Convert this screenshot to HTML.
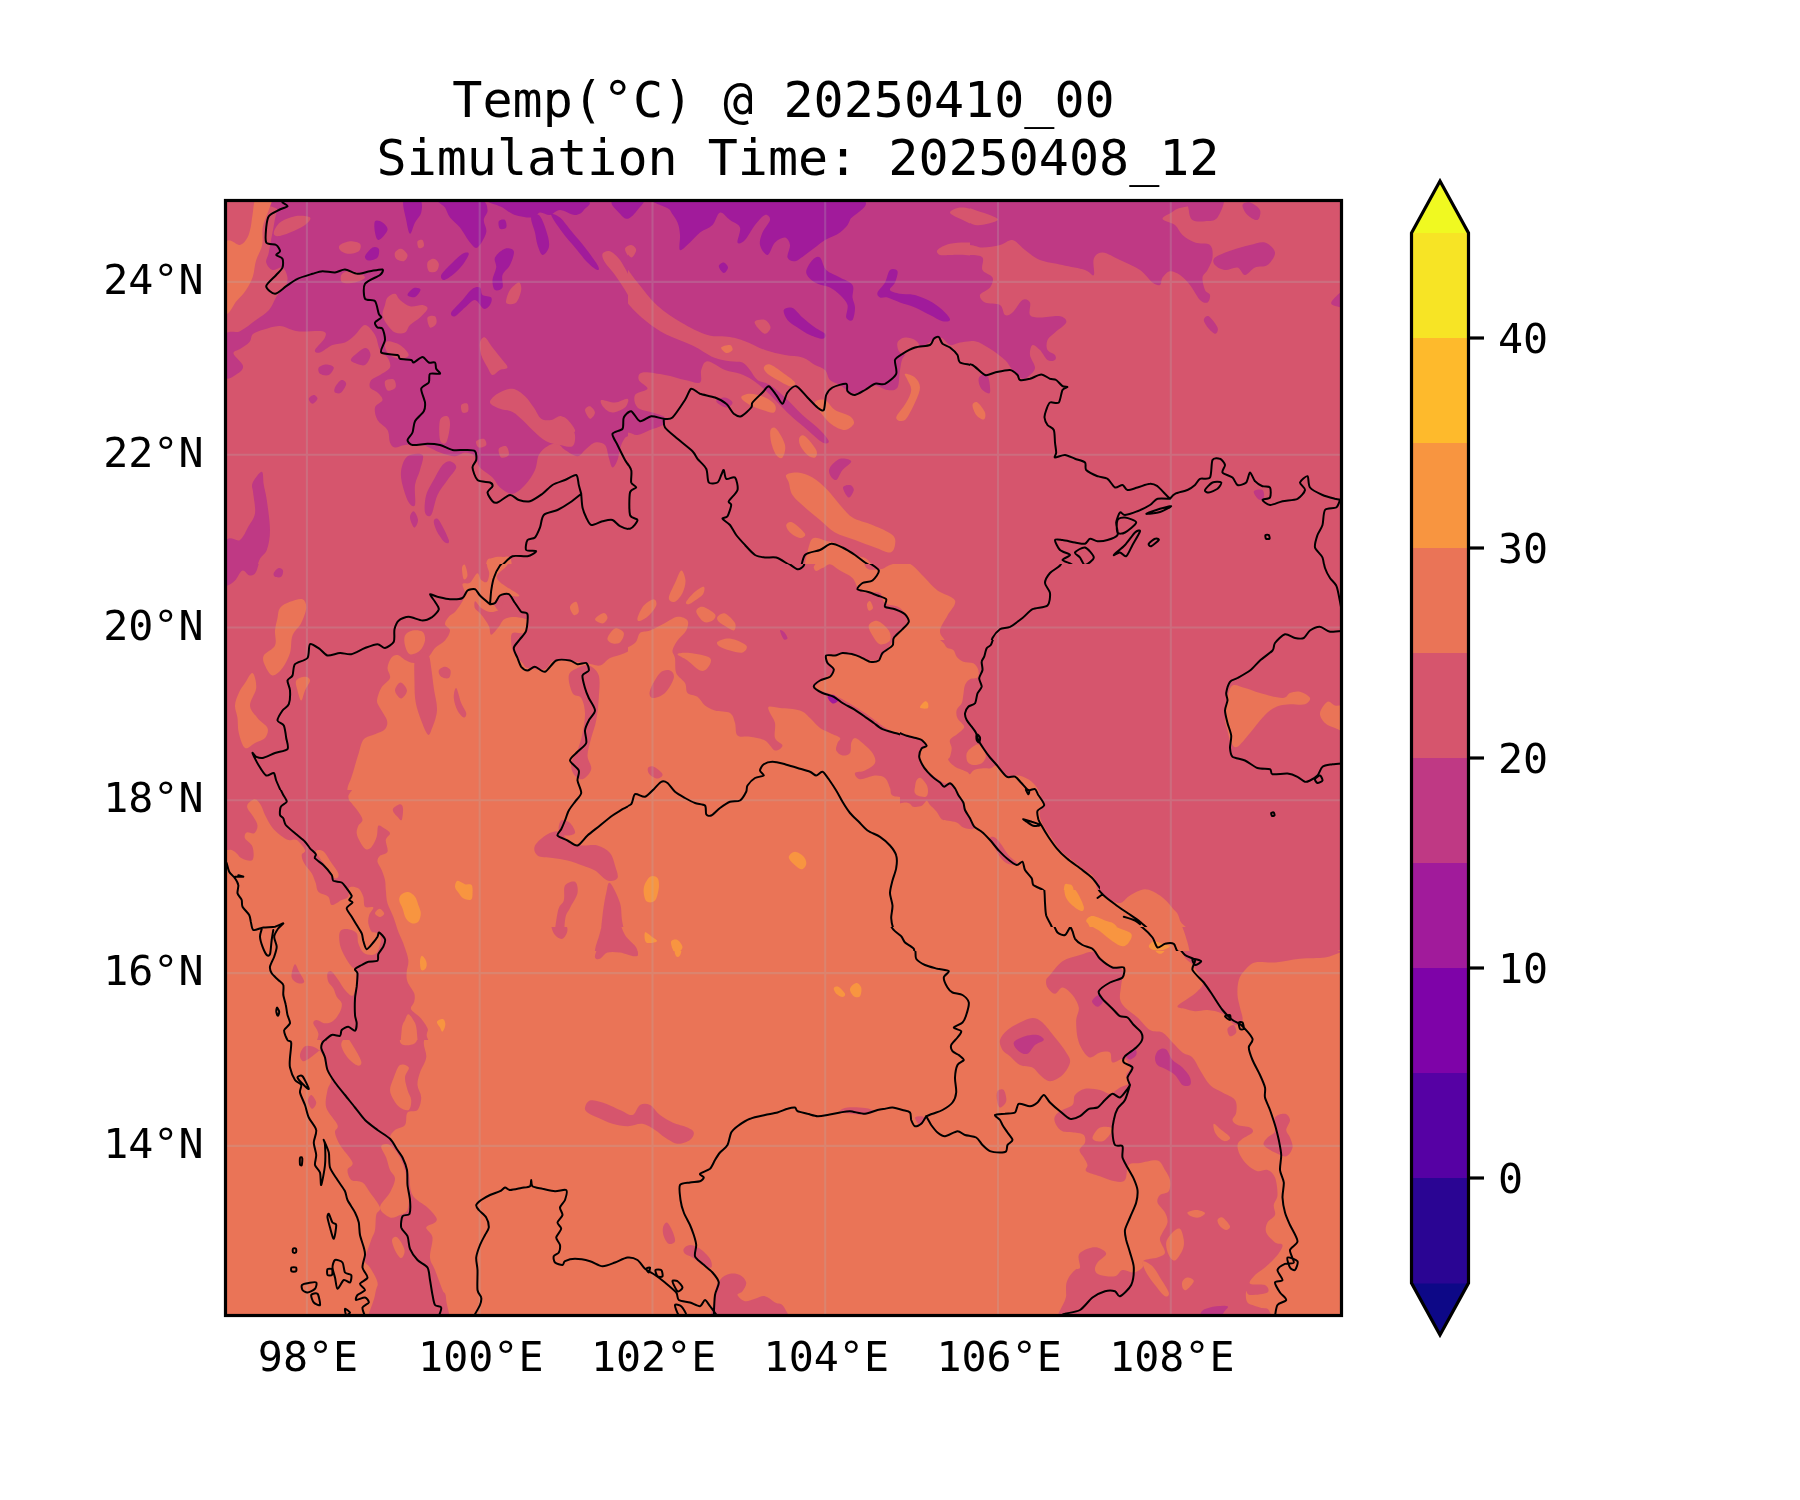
<!DOCTYPE html>
<html><head><meta charset="utf-8"><title>Temp map</title>
<style>html,body{margin:0;padding:0;background:#fff}svg{display:block}text{font-family:"DejaVu Sans Mono","Liberation Mono",monospace;fill:#000}.tx{filter:grayscale(1)}</style></head><body>
<svg width="1800" height="1500" viewBox="0 0 1800 1500">
<rect width="1800" height="1500" fill="#fff"/>
<defs><clipPath id="ax"><rect x="225.5" y="200.5" width="1116.0" height="1115.0"/></clipPath></defs>
<g clip-path="url(#ax)">
<defs><clipPath id="ca1"><path clip-rule="evenodd" d="M224 199H628V564H224Z"/></clipPath><clipPath id="ca2"><path clip-rule="evenodd" d="M628 199H970V564H628Z"/></clipPath><clipPath id="ca3"><path clip-rule="evenodd" d="M970 199H1343V564H970Z"/></clipPath><clipPath id="cb1"><path clip-rule="evenodd" d="M224 564H628V934H224ZM224 790H525V934H224ZM525 927H628V934H525Z"/></clipPath><clipPath id="cb2"><path clip-rule="evenodd" d="M628 564H970V934H628ZM628 927H970V934H628ZM900 640H970V890H900Z"/></clipPath><clipPath id="cb3"><path clip-rule="evenodd" d="M970 564H1343V934H970ZM970 927H1343V934H970ZM970 640H1100V890H970Z"/></clipPath><clipPath id="cc1"><path clip-rule="evenodd" d="M224 934H628V1317H224ZM224 934H525V1040H224ZM525 934H628V951H525Z"/></clipPath><clipPath id="cc2"><path clip-rule="evenodd" d="M628 934H970V1317H628ZM628 934H970V951H628Z"/></clipPath><clipPath id="cc3"><path clip-rule="evenodd" d="M970 934H1343V1317H970ZM970 934H1343V951H970Z"/></clipPath><clipPath id="cz1"><path clip-rule="evenodd" d="M224 790H525V1040H224Z"/></clipPath><clipPath id="czs1"><path clip-rule="evenodd" d="M525 927H628V951H525Z"/></clipPath><clipPath id="czs2"><path clip-rule="evenodd" d="M628 927H970V951H628Z"/></clipPath><clipPath id="czs3"><path clip-rule="evenodd" d="M970 927H1343V951H970Z"/></clipPath><clipPath id="cz2"><path clip-rule="evenodd" d="M900 640H1100V890H900Z"/></clipPath></defs>
<g clip-path="url(#ca1)">
<rect x="224" y="199" width="404" height="365" fill="#d6556d"/>
<path fill="#bf3984" d="M287.5 198.0C356.2 196.0 622.9 156.8 690.0 198.0C757.1 239.2 697.1 403.4 690.0 445.0C682.9 486.6 656.2 448.1 647.5 447.5C638.8 446.9 640.8 443.1 637.5 441.2C634.2 439.4 630.2 435.6 627.5 436.2C624.8 436.9 622.9 441.0 621.2 445.0C619.6 449.0 619.0 456.2 617.5 460.0C616.0 463.8 614.0 467.9 612.5 467.5C611.0 467.1 610.0 461.2 608.8 457.5C607.5 453.8 607.3 447.5 605.0 445.0C602.7 442.5 598.3 441.7 595.0 442.5C591.7 443.3 587.9 447.7 585.0 450.0C582.1 452.3 580.8 456.2 577.5 456.2C574.2 456.2 568.3 452.1 565.0 450.0C561.7 447.9 560.4 444.4 557.5 443.8C554.6 443.1 550.6 444.4 547.5 446.2C544.4 448.1 540.8 451.0 538.8 455.0C536.7 459.0 537.3 465.0 535.0 470.0C532.7 475.0 528.8 481.0 525.0 485.0C521.2 489.0 516.7 493.3 512.5 493.8C508.3 494.2 503.3 490.2 500.0 487.5C496.7 484.8 495.8 480.8 492.5 477.5C489.2 474.2 482.9 471.0 480.0 467.5C477.1 464.0 477.5 458.8 475.0 456.2C472.5 453.8 468.3 452.5 465.0 452.5C461.7 452.5 459.2 456.2 455.0 456.2C450.8 456.2 445.4 454.4 440.0 452.5C434.6 450.6 428.3 446.2 422.5 445.0C416.7 443.8 409.6 444.6 405.0 445.0C400.4 445.4 397.5 447.9 395.0 447.5C392.5 447.1 391.2 445.4 390.0 442.5C388.8 439.6 389.6 433.8 387.5 430.0C385.4 426.2 379.6 423.8 377.5 420.0C375.4 416.2 374.2 410.8 375.0 407.5C375.8 404.2 382.1 402.5 382.5 400.0C382.9 397.5 379.6 394.6 377.5 392.5C375.4 390.4 371.0 389.6 370.0 387.5C369.0 385.4 369.6 382.1 371.2 380.0C372.9 377.9 376.9 377.1 380.0 375.0C383.1 372.9 388.8 370.4 390.0 367.5C391.2 364.6 389.2 360.4 387.5 357.5C385.8 354.6 382.1 353.8 380.0 350.0C377.9 346.2 377.5 339.2 375.0 335.0C372.5 330.8 368.3 325.0 365.0 325.0C361.7 325.0 358.3 332.1 355.0 335.0C351.7 337.9 348.8 340.8 345.0 342.5C341.2 344.2 336.7 343.3 332.5 345.0C328.3 346.7 322.9 351.7 320.0 352.5C317.1 353.3 314.2 352.5 315.0 350.0C315.8 347.5 323.8 340.6 325.0 337.5C326.2 334.4 327.1 332.3 322.5 331.2C317.9 330.2 304.6 332.1 297.5 331.2C290.4 330.4 285.6 326.3 280.0 326.0C274.4 325.7 268.5 328.2 264.0 329.5C259.5 330.8 255.4 331.9 253.0 334.0C250.6 336.1 251.7 339.5 249.5 342.0C247.3 344.5 242.7 347.1 240.0 349.0C237.3 350.9 233.0 350.7 233.5 353.5C234.0 356.3 242.4 362.6 243.0 366.0C243.6 369.4 240.0 372.3 237.0 374.0C234.0 375.7 227.0 382.3 225.0 376.0C223.0 369.7 222.5 343.5 225.0 336.0C227.5 328.5 234.8 333.9 240.0 331.2C245.2 328.6 251.2 323.5 256.0 320.0C260.8 316.5 265.4 314.2 269.0 310.0C272.6 305.8 274.8 298.8 277.5 295.0C280.2 291.2 283.3 290.4 285.0 287.5C286.7 284.6 287.9 280.8 287.5 277.5C287.1 274.2 285.0 268.8 282.5 267.5C280.0 266.2 275.2 270.8 272.5 270.0C269.8 269.2 266.9 265.4 266.2 262.5C265.6 259.6 267.6 257.9 268.8 252.5C269.9 247.1 271.5 237.1 273.0 230.0C274.5 222.9 275.1 215.3 277.5 210.0C279.9 204.7 218.8 200.0 287.5 198.0Z"/>
<path fill="#d6556d" d="M273.8 232.5C274.2 230.2 276.5 225.2 280.0 222.5C283.5 219.8 290.0 217.1 295.0 216.2C300.0 215.4 308.3 216.0 310.0 217.5C311.7 219.0 308.3 222.5 305.0 225.0C301.7 227.5 294.6 230.6 290.0 232.5C285.4 234.4 280.2 236.2 277.5 236.2C274.8 236.2 273.3 234.8 273.8 232.5ZM340.0 245.0C341.7 243.5 346.7 241.5 350.0 241.2C353.3 241.0 358.5 242.1 360.0 243.8C361.5 245.4 360.8 249.6 358.8 251.2C356.7 252.9 350.6 254.0 347.5 253.8C344.4 253.5 341.2 251.5 340.0 250.0C338.8 248.5 338.3 246.5 340.0 245.0ZM395.0 252.5C395.8 250.8 399.2 248.3 401.2 248.8C403.3 249.2 407.1 252.9 407.5 255.0C407.9 257.1 405.6 260.6 403.8 261.2C401.9 261.9 397.7 260.2 396.2 258.8C394.8 257.3 394.2 254.2 395.0 252.5ZM427.5 262.5C428.3 260.4 431.9 258.5 433.8 258.8C435.6 259.0 438.3 261.7 438.8 263.8C439.2 265.8 437.9 270.0 436.2 271.2C434.6 272.5 430.2 272.7 428.8 271.2C427.3 269.8 426.7 264.6 427.5 262.5ZM417.5 241.2C418.1 239.9 421.5 239.2 422.5 240.0C423.5 240.8 424.4 244.9 423.8 246.2C423.1 247.6 419.8 248.8 418.8 248.0C417.7 247.2 416.9 242.6 417.5 241.2ZM341.2 275.0C342.1 273.1 344.8 271.7 347.5 271.2C350.2 270.8 354.6 271.5 357.5 272.5C360.4 273.5 365.4 275.8 365.0 277.5C364.6 279.2 358.8 281.7 355.0 282.5C351.2 283.3 344.8 283.8 342.5 282.5C340.2 281.2 340.4 276.9 341.2 275.0ZM387.5 297.5C389.2 295.6 392.9 293.3 395.0 293.8C397.1 294.2 397.5 297.9 400.0 300.0C402.5 302.1 406.2 305.4 410.0 306.2C413.8 307.1 419.6 304.6 422.5 305.0C425.4 305.4 427.9 306.7 427.5 308.8C427.1 310.8 422.9 314.8 420.0 317.5C417.1 320.2 412.5 322.5 410.0 325.0C407.5 327.5 407.5 331.2 405.0 332.5C402.5 333.8 397.9 333.8 395.0 332.5C392.1 331.2 389.6 327.9 387.5 325.0C385.4 322.1 382.9 318.3 382.5 315.0C382.1 311.7 384.2 307.9 385.0 305.0C385.8 302.1 385.8 299.4 387.5 297.5ZM387.5 341.2C390.0 340.8 396.5 342.7 400.0 345.0C403.5 347.3 408.8 352.7 408.8 355.0C408.8 357.3 403.1 358.8 400.0 358.8C396.9 358.8 392.5 356.9 390.0 355.0C387.5 353.1 385.4 349.8 385.0 347.5C384.6 345.2 385.0 341.7 387.5 341.2ZM427.5 317.5C428.3 315.6 433.5 315.2 435.0 316.2C436.5 317.3 437.1 321.9 436.2 323.8C435.4 325.6 431.5 328.5 430.0 327.5C428.5 326.5 426.7 319.4 427.5 317.5ZM506.2 300.0C506.7 297.7 507.9 292.9 510.0 290.0C512.1 287.1 516.9 282.5 518.8 282.5C520.6 282.5 521.7 286.7 521.2 290.0C520.8 293.3 518.5 300.2 516.2 302.5C514.0 304.8 509.2 304.2 507.5 303.8C505.8 303.3 505.8 302.3 506.2 300.0ZM602.5 253.8C603.3 251.9 607.1 250.2 610.0 251.2C612.9 252.3 616.7 255.6 620.0 260.0C623.3 264.4 626.7 271.7 630.0 277.5C633.3 283.3 636.7 290.0 640.0 295.0C643.3 300.0 641.7 303.3 650.0 307.5C658.3 311.7 682.1 316.7 690.0 320.0C697.9 323.3 696.2 324.2 697.5 327.5C698.8 330.8 704.6 339.6 697.5 340.0C690.4 340.4 663.8 333.3 655.0 330.0C646.2 326.7 648.3 323.8 645.0 320.0C641.7 316.2 638.3 312.5 635.0 307.5C631.7 302.5 628.3 295.4 625.0 290.0C621.7 284.6 618.3 279.6 615.0 275.0C611.7 270.4 607.1 266.0 605.0 262.5C602.9 259.0 601.7 255.6 602.5 253.8ZM625.0 248.8C625.2 246.7 629.4 244.6 631.2 245.0C633.1 245.4 636.5 249.2 636.2 251.2C636.0 253.3 631.9 257.9 630.0 257.5C628.1 257.1 624.8 250.8 625.0 248.8ZM480.0 342.5C480.6 339.6 482.9 336.7 485.0 337.5C487.1 338.3 489.6 343.8 492.5 347.5C495.4 351.2 500.0 356.7 502.5 360.0C505.0 363.3 507.9 365.8 507.5 367.5C507.1 369.2 502.5 368.8 500.0 370.0C497.5 371.2 494.6 375.4 492.5 375.0C490.4 374.6 489.4 370.8 487.5 367.5C485.6 364.2 482.5 359.2 481.2 355.0C480.0 350.8 479.4 345.4 480.0 342.5ZM490.0 402.5C489.6 400.0 493.8 396.0 497.5 393.8C501.2 391.5 507.9 388.3 512.5 388.8C517.1 389.2 521.5 393.1 525.0 396.2C528.5 399.4 531.0 403.8 533.8 407.5C536.5 411.2 538.3 416.7 541.2 418.8C544.2 420.8 547.9 420.4 551.2 420.0C554.6 419.6 558.1 415.4 561.2 416.2C564.4 417.1 567.7 421.9 570.0 425.0C572.3 428.1 574.6 431.5 575.0 435.0C575.4 438.5 575.0 444.6 572.5 446.2C570.0 447.9 564.4 445.8 560.0 445.0C555.6 444.2 550.6 443.5 546.2 441.2C541.9 439.0 537.5 434.6 533.8 431.2C530.0 427.9 527.3 424.5 523.8 421.2C520.2 418.0 516.5 414.1 512.5 412.0C508.5 409.9 503.8 410.3 500.0 408.8C496.2 407.2 490.4 405.0 490.0 402.5ZM557.5 420.0C558.1 417.5 562.1 415.8 565.0 417.5C567.9 419.2 574.2 427.1 575.0 430.0C575.8 432.9 572.3 434.6 570.0 435.0C567.7 435.4 563.3 435.0 561.2 432.5C559.2 430.0 556.9 422.5 557.5 420.0ZM637.5 382.5C637.9 379.6 642.1 375.8 645.0 375.0C647.9 374.2 647.5 375.8 655.0 377.5C662.5 379.2 682.9 382.5 690.0 385.0C697.1 387.5 696.2 389.6 697.5 392.5C698.8 395.4 705.0 401.7 697.5 402.5C690.0 403.3 661.7 399.2 652.5 397.5C643.3 395.8 645.0 395.0 642.5 392.5C640.0 390.0 637.1 385.4 637.5 382.5ZM601.2 400.0C603.1 399.2 610.6 402.7 615.0 402.5C619.4 402.3 625.8 397.9 627.5 398.8C629.2 399.6 627.5 405.2 625.0 407.5C622.5 409.8 616.0 412.5 612.5 412.5C609.0 412.5 605.6 409.6 603.8 407.5C601.9 405.4 599.4 400.8 601.2 400.0ZM585.0 410.0C585.0 407.9 588.3 405.8 590.0 406.2C591.7 406.7 595.0 410.4 595.0 412.5C595.0 414.6 591.7 419.2 590.0 418.8C588.3 418.3 585.0 412.1 585.0 410.0ZM440.0 420.0C441.2 416.0 445.8 415.4 447.5 416.2C449.2 417.1 450.2 420.6 450.0 425.0C449.8 429.4 447.9 440.0 446.2 442.5C444.6 445.0 441.0 443.8 440.0 440.0C439.0 436.2 438.8 424.0 440.0 420.0ZM461.2 405.0C462.1 403.5 466.4 402.7 467.5 403.8C468.6 404.8 468.8 409.8 468.0 411.2C467.2 412.7 463.6 413.5 462.5 412.5C461.4 411.5 460.4 406.5 461.2 405.0ZM476.2 441.2C477.1 439.8 482.1 438.1 483.8 438.8C485.4 439.4 487.1 443.5 486.2 445.0C485.4 446.5 480.4 448.1 478.8 447.5C477.1 446.9 475.4 442.7 476.2 441.2ZM498.8 448.8C499.6 446.9 504.6 445.2 506.2 446.2C507.9 447.3 509.6 453.1 508.8 455.0C507.9 456.9 502.9 458.5 501.2 457.5C499.6 456.5 497.9 450.6 498.8 448.8ZM385.0 381.2C386.0 379.4 392.0 378.5 393.8 379.5C395.5 380.5 396.5 385.7 395.5 387.5C394.5 389.3 389.2 391.5 387.5 390.5C385.8 389.5 384.0 383.1 385.0 381.2Z"/>
<path fill="#a11b9b" d="M403.8 200.0C406.0 196.7 417.1 197.9 420.0 200.0C422.9 202.1 422.1 208.8 421.2 212.5C420.4 216.2 416.9 219.0 415.0 222.5C413.1 226.0 411.5 234.2 410.0 233.8C408.5 233.3 407.3 225.6 406.2 220.0C405.2 214.4 401.5 203.3 403.8 200.0ZM375.0 221.2C376.2 219.6 380.4 221.0 382.5 222.5C384.6 224.0 388.1 227.1 387.5 230.0C386.9 232.9 380.8 239.6 378.8 240.0C376.7 240.4 375.6 235.6 375.0 232.5C374.4 229.4 373.8 222.9 375.0 221.2ZM365.0 256.2C365.6 254.1 370.2 248.8 372.5 247.5C374.8 246.2 377.9 247.1 378.8 248.8C379.6 250.4 379.2 255.5 377.5 257.5C375.8 259.5 370.8 260.7 368.8 260.5C366.7 260.3 364.4 258.4 365.0 256.2ZM440.0 200.0C445.8 198.8 472.1 198.3 480.0 200.0C487.9 201.7 486.9 206.7 487.5 210.0C488.1 213.3 484.0 216.2 483.8 220.0C483.5 223.8 487.3 227.9 486.2 232.5C485.2 237.1 480.2 245.8 477.5 247.5C474.8 249.2 472.9 245.8 470.0 242.5C467.1 239.2 463.3 231.7 460.0 227.5C456.7 223.3 452.5 220.8 450.0 217.5C447.5 214.2 446.7 210.4 445.0 207.5C443.3 204.6 434.2 201.2 440.0 200.0ZM492.5 200.0C505.8 198.8 567.3 198.3 582.5 200.0C597.7 201.7 585.0 207.5 583.8 210.0C582.5 212.5 579.0 215.0 575.0 215.0C571.0 215.0 564.2 210.0 560.0 210.0C555.8 210.0 553.3 214.6 550.0 215.0C546.7 215.4 542.9 212.1 540.0 212.5C537.1 212.9 536.7 217.1 532.5 217.5C528.3 217.9 520.0 216.7 515.0 215.0C510.0 213.3 506.2 210.0 502.5 207.5C498.8 205.0 479.2 201.2 492.5 200.0ZM531.2 217.5C532.1 214.8 537.3 213.3 540.0 216.2C542.7 219.2 546.0 229.8 547.5 235.0C549.0 240.2 549.6 244.2 548.8 247.5C547.9 250.8 544.4 255.4 542.5 255.0C540.6 254.6 538.8 248.8 537.5 245.0C536.2 241.2 536.0 237.1 535.0 232.5C534.0 227.9 530.4 220.2 531.2 217.5ZM551.2 215.0C550.8 212.5 556.5 214.6 560.0 217.5C563.5 220.4 568.3 227.5 572.5 232.5C576.7 237.5 580.8 242.1 585.0 247.5C589.2 252.9 595.4 261.2 597.5 265.0C599.6 268.8 599.2 270.4 597.5 270.0C595.8 269.6 591.2 266.2 587.5 262.5C583.8 258.8 579.2 252.5 575.0 247.5C570.8 242.5 566.5 237.9 562.5 232.5C558.5 227.1 551.7 217.5 551.2 215.0ZM612.5 201.2C616.7 199.2 640.8 199.6 645.0 201.2C649.2 202.9 640.4 208.3 637.5 211.2C634.6 214.2 630.4 218.3 627.5 218.8C624.6 219.2 622.5 216.7 620.0 213.8C617.5 210.8 608.3 203.3 612.5 201.2ZM498.8 221.2C499.6 219.8 503.8 219.0 505.0 220.0C506.2 221.0 507.1 226.0 506.2 227.5C505.4 229.0 501.2 229.8 500.0 228.8C498.8 227.7 497.9 222.7 498.8 221.2ZM441.2 275.0C442.3 272.5 446.5 268.5 450.0 265.0C453.5 261.5 459.4 255.6 462.5 253.8C465.6 251.9 468.8 251.9 468.8 253.8C468.8 255.6 465.2 261.5 462.5 265.0C459.8 268.5 455.6 272.5 452.5 275.0C449.4 277.5 445.6 280.0 443.8 280.0C441.9 280.0 440.2 277.5 441.2 275.0ZM495.0 257.5C496.5 254.4 501.9 249.8 505.0 248.8C508.1 247.7 512.9 248.5 513.8 251.2C514.6 254.0 511.9 261.0 510.0 265.0C508.1 269.0 503.8 271.2 502.5 275.0C501.2 278.8 503.8 285.0 502.5 287.5C501.2 290.0 496.7 291.2 495.0 290.0C493.3 288.8 492.3 283.8 492.5 280.0C492.7 276.2 495.8 271.2 496.2 267.5C496.7 263.8 493.5 260.6 495.0 257.5ZM407.5 295.0C407.3 293.5 411.6 288.9 413.8 288.0C415.9 287.1 420.3 288.0 420.5 289.5C420.7 291.0 417.2 296.1 415.0 297.0C412.8 297.9 407.7 296.5 407.5 295.0ZM451.2 312.5C452.5 309.8 459.0 304.0 462.5 300.0C466.0 296.0 469.6 290.8 472.5 288.8C475.4 286.7 478.3 286.5 480.0 287.5C481.7 288.5 480.6 293.3 482.5 295.0C484.4 296.7 490.0 295.8 491.2 297.5C492.5 299.2 491.2 303.1 490.0 305.0C488.8 306.9 486.2 309.6 483.8 308.8C481.2 307.9 478.1 300.2 475.0 300.0C471.9 299.8 468.3 304.8 465.0 307.5C461.7 310.2 457.3 315.4 455.0 316.2C452.7 317.1 450.0 315.2 451.2 312.5Z"/>
<path fill="#ea7457" d="M256.8 196.2C260.0 193.1 270.0 194.0 272.0 196.2C274.0 198.5 270.3 204.9 268.8 210.0C267.2 215.1 263.8 221.0 262.8 226.8C261.7 232.5 263.4 239.1 262.2 244.8C261.1 250.4 257.6 255.4 256.0 260.8C254.4 266.1 254.4 271.9 252.8 276.8C251.1 281.6 248.9 285.8 246.2 289.8C243.6 293.8 240.3 297.2 236.8 300.8C233.2 304.3 227.0 320.5 225.0 311.2C223.0 302.0 222.5 256.0 225.0 245.0C227.5 234.0 236.2 246.2 240.0 245.0C243.8 243.8 245.7 240.5 247.5 237.5C249.3 234.5 249.9 230.5 250.8 226.8C251.6 223.0 251.5 220.1 252.5 215.0C253.5 209.9 253.5 199.4 256.8 196.2Z"/>
<path fill="#bf3984" d="M318.8 367.5C319.8 366.0 323.8 364.5 326.2 364.5C328.8 364.5 333.3 365.8 333.8 367.5C334.2 369.2 331.0 374.0 328.8 375.0C326.5 376.0 321.7 375.0 320.0 373.8C318.3 372.5 317.7 369.0 318.8 367.5ZM335.0 387.5C336.0 385.4 339.4 380.6 341.2 380.0C343.1 379.4 346.2 381.7 346.2 383.8C346.2 385.8 343.1 391.0 341.2 392.5C339.4 394.0 336.0 393.3 335.0 392.5C334.0 391.7 334.0 389.6 335.0 387.5ZM308.8 398.8C309.0 397.3 312.3 395.0 313.8 395.0C315.2 395.0 317.7 397.3 317.5 398.8C317.3 400.2 314.0 403.8 312.5 403.8C311.0 403.8 308.5 400.2 308.8 398.8ZM351.2 358.8C352.9 356.2 361.8 348.6 365.0 348.0C368.2 347.4 370.5 352.2 370.5 355.0C370.5 357.8 367.6 363.7 365.0 365.0C362.4 366.3 357.3 364.0 355.0 363.0C352.7 362.0 349.6 361.2 351.2 358.8ZM225.0 545.0C227.5 531.7 236.1 543.0 240.0 540.0C243.9 537.0 245.8 531.2 248.2 526.8C250.8 522.3 254.2 518.8 255.0 513.2C255.8 507.7 253.7 498.2 253.2 493.2C252.8 488.2 251.1 486.8 252.5 483.2C253.9 479.7 259.9 471.5 261.8 471.8C263.6 472.0 262.9 480.3 263.8 485.0C264.6 489.7 265.7 492.5 266.8 500.0C267.8 507.5 270.0 521.7 270.0 530.0C270.0 538.3 268.7 544.5 266.8 550.0C264.8 555.5 260.8 554.6 258.2 563.2C255.8 571.9 254.8 594.0 251.8 601.8C248.7 609.5 244.5 607.0 240.0 610.0C235.5 613.0 227.5 630.8 225.0 620.0C222.5 609.2 222.5 558.3 225.0 545.0ZM407.5 456.2C411.0 453.8 420.4 452.7 422.5 455.0C424.6 457.3 421.2 465.0 420.0 470.0C418.8 475.0 415.8 479.2 415.0 485.0C414.2 490.8 416.0 502.1 415.0 505.0C414.0 507.9 410.8 505.8 408.8 502.5C406.7 499.2 403.8 490.4 402.5 485.0C401.2 479.6 400.4 474.8 401.2 470.0C402.1 465.2 404.0 458.8 407.5 456.2ZM450.0 461.2C452.3 461.7 456.7 464.4 456.2 467.5C455.8 470.6 450.6 475.4 447.5 480.0C444.4 484.6 440.2 489.2 437.5 495.0C434.8 500.8 433.3 512.1 431.2 515.0C429.2 517.9 425.8 515.8 425.0 512.5C424.2 509.2 424.6 500.8 426.2 495.0C427.9 489.2 432.3 482.5 435.0 477.5C437.7 472.5 440.0 467.7 442.5 465.0C445.0 462.3 447.7 460.8 450.0 461.2ZM433.8 521.2C434.0 519.2 436.2 516.9 438.8 520.0C441.2 523.1 447.7 536.2 448.8 540.0C449.8 543.8 446.9 543.8 445.0 542.5C443.1 541.2 439.4 536.0 437.5 532.5C435.6 529.0 433.5 523.3 433.8 521.2ZM410.0 517.5C409.9 514.8 412.4 510.8 413.8 511.2C415.1 511.7 417.9 517.3 418.0 520.0C418.1 522.7 415.6 527.9 414.2 527.5C412.9 527.1 410.1 520.2 410.0 517.5Z"/>
<path fill="#ea7457" d="M486.2 563.8C487.3 557.2 489.8 559.1 492.5 558.0C495.2 556.9 499.4 556.6 502.5 557.0C505.6 557.4 510.2 553.8 511.2 560.5C512.3 567.2 512.9 591.3 508.8 597.5C504.6 603.7 490.0 603.1 486.2 597.5C482.5 591.9 485.2 570.3 486.2 563.8Z"/>
</g>
<g clip-path="url(#ca2)">
<rect x="628" y="199" width="342" height="365" fill="#d6556d"/>
<path fill="#bf3984" d="M562.5 198.0C646.7 156.8 983.3 172.7 1067.5 198.0C1151.7 223.3 1074.6 325.5 1067.5 350.0C1060.4 374.5 1033.8 344.2 1025.0 345.0C1016.2 345.8 1018.8 353.3 1015.0 355.0C1011.2 356.7 1006.7 356.7 1002.5 355.0C998.3 353.3 994.6 347.3 990.0 345.0C985.4 342.7 980.0 341.7 975.0 341.2C970.0 340.8 964.2 341.9 960.0 342.5C955.8 343.1 953.3 345.8 950.0 345.0C946.7 344.2 944.2 337.5 940.0 337.5C935.8 337.5 930.8 342.1 925.0 345.0C919.2 347.9 909.2 350.8 905.0 355.0C900.8 359.2 901.2 364.6 900.0 370.0C898.8 375.4 899.6 384.2 897.5 387.5C895.4 390.8 891.7 390.4 887.5 390.0C883.3 389.6 877.1 384.6 872.5 385.0C867.9 385.4 863.8 391.2 860.0 392.5C856.2 393.8 853.3 393.8 850.0 392.5C846.7 391.2 843.3 387.1 840.0 385.0C836.7 382.9 832.5 382.5 830.0 380.0C827.5 377.5 827.5 372.5 825.0 370.0C822.5 367.5 818.8 367.1 815.0 365.0C811.2 362.9 807.5 359.2 802.5 357.5C797.5 355.8 791.2 356.2 785.0 355.0C778.8 353.8 771.7 352.3 765.0 350.0C758.3 347.7 750.8 343.4 745.0 341.2C739.2 339.1 736.2 338.0 730.0 337.0C723.8 336.0 715.6 337.4 707.5 335.0C699.4 332.6 689.6 327.4 681.2 322.5C672.9 317.6 664.8 312.4 657.5 305.8C650.2 299.1 643.5 290.0 637.5 282.5C631.5 275.0 625.4 265.6 621.2 260.5C617.1 255.4 615.6 254.0 612.5 252.0C609.4 250.0 604.4 247.3 602.5 248.8C600.6 250.2 599.6 255.1 601.2 260.5C602.9 265.9 607.9 273.9 612.5 281.2C617.1 288.6 623.1 297.8 628.8 304.5C634.4 311.2 640.0 316.2 646.2 321.2C652.5 326.2 658.5 330.5 666.2 334.5C674.0 338.5 684.6 341.7 692.5 345.5C700.4 349.3 707.5 354.9 713.8 357.5C720.0 360.1 725.2 360.4 730.0 361.2C734.8 362.1 739.2 361.0 742.5 362.5C745.8 364.0 747.5 367.1 750.0 370.0C752.5 372.9 754.2 377.5 757.5 380.0C760.8 382.5 765.4 382.1 770.0 385.0C774.6 387.9 779.6 392.5 785.0 397.5C790.4 402.5 796.7 409.6 802.5 415.0C808.3 420.4 815.6 425.6 820.0 430.0C824.4 434.4 828.3 439.2 828.8 441.2C829.2 443.3 826.0 444.4 822.5 442.5C819.0 440.6 812.9 434.6 807.5 430.0C802.1 425.4 795.0 419.6 790.0 415.0C785.0 410.4 781.7 406.7 777.5 402.5C773.3 398.3 769.2 393.8 765.0 390.0C760.8 386.2 756.7 382.7 752.5 380.0C748.3 377.3 744.6 375.4 740.0 373.8C735.4 372.1 730.4 372.1 725.0 370.0C719.6 367.9 711.5 361.2 707.5 361.2C703.5 361.2 702.5 366.5 701.2 370.0C700.0 373.5 702.7 380.8 700.0 382.5C697.3 384.2 690.8 381.2 685.0 380.0C679.2 378.8 672.1 376.2 665.0 375.0C657.9 373.8 646.9 371.7 642.5 372.5C638.1 373.3 637.9 377.3 638.8 380.0C639.6 382.7 648.1 386.2 647.5 388.8C646.9 391.2 636.7 391.9 635.0 395.0C633.3 398.1 634.6 404.6 637.5 407.5C640.4 410.4 647.9 410.8 652.5 412.5C657.1 414.2 663.3 415.4 665.0 417.5C666.7 419.6 665.0 422.9 662.5 425.0C660.0 427.1 654.2 428.3 650.0 430.0C645.8 431.7 641.2 434.6 637.5 435.0C633.8 435.4 631.2 432.5 627.5 432.5C623.8 432.5 616.7 431.7 615.0 435.0C613.3 438.3 617.5 447.3 617.5 452.5C617.5 457.7 617.1 464.2 615.0 466.2C612.9 468.3 613.8 468.5 605.0 465.0C596.2 461.5 569.6 489.5 562.5 445.0C555.4 400.5 478.3 239.2 562.5 198.0Z"/>
<path fill="#d6556d" d="M600.0 402.5C601.9 400.8 607.9 399.4 612.5 398.8C617.1 398.1 625.4 397.5 627.5 398.8C629.6 400.0 627.5 404.4 625.0 406.2C622.5 408.1 616.5 409.6 612.5 410.0C608.5 410.4 603.3 410.0 601.2 408.8C599.2 407.5 598.1 404.2 600.0 402.5ZM625.0 248.8C625.0 246.7 629.4 244.8 631.2 245.0C633.1 245.2 636.2 247.9 636.2 250.0C636.2 252.1 633.1 257.7 631.2 257.5C629.4 257.3 625.0 250.8 625.0 248.8ZM897.5 342.5C898.3 340.0 902.1 337.9 905.0 337.5C907.9 337.1 912.5 338.3 915.0 340.0C917.5 341.7 920.4 345.0 920.0 347.5C919.6 350.0 915.8 354.2 912.5 355.0C909.2 355.8 902.5 354.6 900.0 352.5C897.5 350.4 896.7 345.0 897.5 342.5ZM950.0 212.5C950.0 210.6 955.8 207.9 960.0 207.5C964.2 207.1 970.0 208.5 975.0 210.0C980.0 211.5 985.8 214.6 990.0 216.2C994.2 217.9 1000.0 218.8 1000.0 220.0C1000.0 221.2 994.2 222.9 990.0 223.8C985.8 224.6 980.0 225.8 975.0 225.0C970.0 224.2 964.2 220.8 960.0 218.8C955.8 216.7 950.0 214.4 950.0 212.5ZM937.5 250.0C939.2 248.1 944.6 245.0 950.0 243.8C955.4 242.5 963.3 242.3 970.0 242.5C976.7 242.7 983.3 245.4 990.0 245.0C996.7 244.6 1004.2 240.0 1010.0 240.0C1015.8 240.0 1015.4 242.9 1025.0 245.0C1034.6 247.1 1060.4 240.8 1067.5 252.5C1074.6 264.2 1074.2 305.8 1067.5 315.0C1060.8 324.2 1036.2 309.2 1027.5 307.5C1018.8 305.8 1018.8 303.3 1015.0 305.0C1011.2 306.7 1007.5 316.7 1005.0 317.5C1002.5 318.3 1001.7 312.9 1000.0 310.0C998.3 307.1 998.3 302.5 995.0 300.0C991.7 297.5 981.2 297.9 980.0 295.0C978.8 292.1 985.4 286.2 987.5 282.5C989.6 278.8 993.3 275.4 992.5 272.5C991.7 269.6 985.0 267.5 982.5 265.0C980.0 262.5 980.4 259.2 977.5 257.5C974.6 255.8 969.6 255.4 965.0 255.0C960.4 254.6 954.2 255.0 950.0 255.0C945.8 255.0 942.1 255.8 940.0 255.0C937.9 254.2 935.8 251.9 937.5 250.0ZM793.8 237.5C794.2 235.6 798.5 233.1 800.0 233.8C801.5 234.4 802.9 239.4 802.5 241.2C802.1 243.1 799.0 245.6 797.5 245.0C796.0 244.4 793.3 239.4 793.8 237.5Z"/>
<path fill="#ea7457" d="M763.8 367.5C764.2 366.0 766.9 363.7 770.0 364.5C773.1 365.3 778.3 369.5 782.5 372.5C786.7 375.5 793.8 380.2 795.0 382.5C796.2 384.8 792.9 386.7 790.0 386.2C787.1 385.8 781.2 382.1 777.5 380.0C773.8 377.9 769.8 375.8 767.5 373.8C765.2 371.7 763.3 369.0 763.8 367.5ZM721.2 347.5C721.9 346.2 728.1 344.6 730.0 345.0C731.9 345.4 733.1 348.7 732.5 350.0C731.9 351.3 728.1 353.4 726.2 353.0C724.4 352.6 720.6 348.8 721.2 347.5Z"/>
<path fill="#d6556d" d="M755.0 321.2C756.2 320.0 762.4 319.0 765.0 320.0C767.6 321.0 770.5 325.2 770.5 327.5C770.5 329.8 767.2 333.8 765.0 333.8C762.8 333.8 759.2 329.6 757.5 327.5C755.8 325.4 753.8 322.5 755.0 321.2Z"/>
<path fill="#ea7457" d="M741.2 397.5C741.2 395.6 746.0 393.8 750.0 393.8C754.0 393.8 760.8 395.6 765.0 397.5C769.2 399.4 773.5 402.5 775.0 405.0C776.5 407.5 775.8 411.7 773.8 412.5C771.7 413.3 766.5 411.2 762.5 410.0C758.5 408.8 753.5 407.1 750.0 405.0C746.5 402.9 741.2 399.4 741.2 397.5ZM815.0 402.5C815.4 400.0 821.7 398.8 825.0 400.0C828.3 401.2 830.8 407.3 835.0 410.0C839.2 412.7 846.9 414.0 850.0 416.2C853.1 418.5 854.6 421.5 853.8 423.8C852.9 426.0 848.5 429.8 845.0 430.0C841.5 430.2 836.2 427.5 832.5 425.0C828.8 422.5 825.4 418.8 822.5 415.0C819.6 411.2 814.6 405.0 815.0 402.5ZM905.0 373.8C906.2 373.3 912.5 375.2 915.0 377.5C917.5 379.8 920.0 383.3 920.0 387.5C920.0 391.7 917.5 397.1 915.0 402.5C912.5 407.9 908.1 417.5 905.0 420.0C901.9 422.5 896.0 420.4 896.2 417.5C896.5 414.6 903.8 407.1 906.2 402.5C908.8 397.9 911.0 393.8 911.2 390.0C911.5 386.2 908.5 382.7 907.5 380.0C906.5 377.3 903.8 374.2 905.0 373.8ZM972.5 403.8C972.7 401.7 975.4 401.0 977.5 402.5C979.6 404.0 984.0 409.7 985.0 412.5C986.0 415.3 985.2 419.1 983.8 419.5C982.3 419.9 978.1 417.6 976.2 415.0C974.4 412.4 972.3 405.8 972.5 403.8ZM770.5 430.0C771.3 427.7 773.8 426.2 776.2 428.8C778.7 431.2 784.0 440.2 785.0 445.0C786.0 449.8 784.0 455.8 782.5 457.5C781.0 459.2 778.1 457.5 776.2 455.0C774.4 452.5 772.2 446.7 771.2 442.5C770.3 438.3 769.7 432.3 770.5 430.0ZM799.5 437.5C800.3 436.0 802.2 434.2 805.0 436.2C807.8 438.3 814.6 446.5 816.2 450.0C817.9 453.5 816.5 456.7 815.0 457.5C813.5 458.3 810.0 457.1 807.5 455.0C805.0 452.9 801.3 447.9 800.0 445.0C798.7 442.1 798.7 439.0 799.5 437.5ZM786.2 475.0C787.7 473.3 793.1 472.1 797.5 472.5C801.9 472.9 807.5 474.6 812.5 477.5C817.5 480.4 822.9 485.4 827.5 490.0C832.1 494.6 835.8 500.4 840.0 505.0C844.2 509.6 847.1 514.2 852.5 517.5C857.9 520.8 865.8 522.1 872.5 525.0C879.2 527.9 888.8 531.7 892.5 535.0C896.2 538.3 895.4 542.1 895.0 545.0C894.6 547.9 893.3 552.1 890.0 552.5C886.7 552.9 880.8 549.6 875.0 547.5C869.2 545.4 861.7 542.5 855.0 540.0C848.3 537.5 840.8 535.8 835.0 532.5C829.2 529.2 825.0 524.2 820.0 520.0C815.0 515.8 809.6 511.7 805.0 507.5C800.4 503.3 795.2 499.2 792.5 495.0C789.8 490.8 789.8 485.8 788.8 482.5C787.7 479.2 784.8 476.7 786.2 475.0ZM786.2 525.0C786.7 523.3 789.4 521.0 792.5 522.5C795.6 524.0 803.8 531.2 805.0 533.8C806.2 536.3 802.5 538.2 800.0 538.0C797.5 537.8 792.3 534.7 790.0 532.5C787.7 530.3 785.8 526.7 786.2 525.0ZM810.0 542.5C812.9 533.1 822.5 540.8 827.5 541.2C832.5 541.7 835.4 542.7 840.0 545.0C844.6 547.3 850.0 552.1 855.0 555.0C860.0 557.9 865.0 555.4 870.0 562.5C875.0 569.6 895.0 591.7 885.0 597.5C875.0 603.3 822.5 606.7 810.0 597.5C797.5 588.3 807.1 551.9 810.0 542.5Z"/>
<path fill="#bf3984" d="M830.0 467.5C831.7 464.8 836.5 459.8 840.0 458.8C843.5 457.7 850.8 459.4 851.2 461.2C851.7 463.1 845.0 466.9 842.5 470.0C840.0 473.1 838.3 479.2 836.2 480.0C834.2 480.8 831.0 477.1 830.0 475.0C829.0 472.9 828.3 470.2 830.0 467.5ZM843.0 487.5C843.2 485.4 848.2 484.6 850.0 485.0C851.8 485.4 854.0 487.9 853.8 490.0C853.5 492.1 850.5 497.9 848.8 497.5C847.0 497.1 842.8 489.6 843.0 487.5ZM980.0 376.2C981.5 375.6 987.1 376.0 988.8 378.8C990.4 381.5 990.8 390.4 990.0 392.5C989.2 394.6 985.5 392.9 983.8 391.2C982.0 389.6 980.1 385.0 979.5 382.5C978.9 380.0 978.5 376.9 980.0 376.2ZM716.2 401.2C716.0 399.6 722.3 397.3 725.0 397.5C727.7 397.7 732.3 400.8 732.5 402.5C732.7 404.2 729.0 407.7 726.2 407.5C723.5 407.3 716.5 402.9 716.2 401.2Z"/>
<path fill="#a11b9b" d="M613.8 197.5C617.7 195.4 639.8 195.4 643.8 197.5C647.7 199.6 640.2 206.5 637.5 210.0C634.8 213.5 630.4 218.8 627.5 218.8C624.6 218.8 622.3 213.5 620.0 210.0C617.7 206.5 609.8 199.6 613.8 197.5ZM665.0 197.5C695.4 195.4 821.7 193.8 852.5 197.5C883.3 201.2 852.1 214.2 850.0 220.0C847.9 225.8 844.2 229.2 840.0 232.5C835.8 235.8 829.2 237.5 825.0 240.0C820.8 242.5 818.3 245.0 815.0 247.5C811.7 250.0 808.3 252.7 805.0 255.0C801.7 257.3 797.9 260.8 795.0 261.2C792.1 261.7 788.3 260.2 787.5 257.5C786.7 254.8 790.4 248.3 790.0 245.0C789.6 241.7 787.5 237.9 785.0 237.5C782.5 237.1 777.9 239.6 775.0 242.5C772.1 245.4 770.0 254.6 767.5 255.0C765.0 255.4 760.8 248.8 760.0 245.0C759.2 241.2 760.8 236.7 762.5 232.5C764.2 228.3 769.6 222.9 770.0 220.0C770.4 217.1 767.5 214.2 765.0 215.0C762.5 215.8 758.3 220.8 755.0 225.0C751.7 229.2 747.9 237.1 745.0 240.0C742.1 242.9 738.3 244.6 737.5 242.5C736.7 240.4 741.2 231.2 740.0 227.5C738.8 223.8 733.3 222.5 730.0 220.0C726.7 217.5 722.9 211.7 720.0 212.5C717.1 213.3 715.8 221.7 712.5 225.0C709.2 228.3 703.8 229.6 700.0 232.5C696.2 235.4 693.3 239.6 690.0 242.5C686.7 245.4 681.7 251.2 680.0 250.0C678.3 248.8 680.4 239.6 680.0 235.0C679.6 230.4 679.2 226.7 677.5 222.5C675.8 218.3 672.1 214.2 670.0 210.0C667.9 205.8 634.6 199.6 665.0 197.5ZM718.8 266.2C718.8 264.5 722.2 262.3 723.8 262.5C725.3 262.7 728.0 265.8 728.0 267.5C728.0 269.2 725.3 273.2 723.8 273.0C722.2 272.8 718.8 268.0 718.8 266.2ZM806.2 272.5C805.8 268.8 810.2 262.5 812.5 260.0C814.8 257.5 817.7 255.8 820.0 257.5C822.3 259.2 822.9 266.7 826.2 270.0C829.6 273.3 835.6 275.0 840.0 277.5C844.4 280.0 850.4 281.7 852.5 285.0C854.6 288.3 852.1 293.8 852.5 297.5C852.9 301.2 855.0 303.8 855.0 307.5C855.0 311.2 854.0 318.3 852.5 320.0C851.0 321.7 847.1 320.0 846.2 317.5C845.4 315.0 848.5 308.8 847.5 305.0C846.5 301.2 842.9 297.9 840.0 295.0C837.1 292.1 834.2 289.6 830.0 287.5C825.8 285.4 819.0 285.0 815.0 282.5C811.0 280.0 806.7 276.2 806.2 272.5ZM783.8 310.0C784.6 308.0 789.4 306.8 792.5 308.0C795.6 309.2 798.8 314.2 802.5 317.5C806.2 320.8 811.2 324.8 815.0 327.5C818.8 330.2 823.8 331.9 825.0 333.8C826.2 335.6 825.0 338.5 822.5 338.8C820.0 339.0 814.2 336.9 810.0 335.0C805.8 333.1 801.2 330.0 797.5 327.5C793.8 325.0 789.8 322.9 787.5 320.0C785.2 317.1 782.9 312.0 783.8 310.0ZM877.5 292.5C878.3 290.0 882.9 286.2 885.0 282.5C887.1 278.8 887.9 271.9 890.0 270.0C892.1 268.1 896.7 269.2 897.5 271.2C898.3 273.3 896.2 279.4 895.0 282.5C893.8 285.6 889.2 288.1 890.0 290.0C890.8 291.9 895.8 292.9 900.0 293.8C904.2 294.6 909.6 293.5 915.0 295.0C920.4 296.5 927.5 299.6 932.5 302.5C937.5 305.4 942.1 309.6 945.0 312.5C947.9 315.4 950.4 318.5 950.0 320.0C949.6 321.5 945.8 322.1 942.5 321.2C939.2 320.4 934.6 317.3 930.0 315.0C925.4 312.7 920.0 309.6 915.0 307.5C910.0 305.4 904.6 304.2 900.0 302.5C895.4 300.8 890.8 298.3 887.5 297.5C884.2 296.7 881.7 298.3 880.0 297.5C878.3 296.7 876.7 295.0 877.5 292.5Z"/>
</g>
<g clip-path="url(#ca3)">
<rect x="970" y="199" width="373" height="365" fill="#d6556d"/>
<path fill="#bf3984" d="M872.5 198.0C924.6 171.8 1134.6 196.0 1185.0 198.0C1235.4 200.0 1178.8 206.5 1175.0 210.0C1171.2 213.5 1162.5 216.2 1162.5 218.8C1162.5 221.2 1171.7 222.3 1175.0 225.0C1178.3 227.7 1179.2 232.1 1182.5 235.0C1185.8 237.9 1190.4 240.8 1195.0 242.5C1199.6 244.2 1207.1 242.5 1210.0 245.0C1212.9 247.5 1212.9 253.3 1212.5 257.5C1212.1 261.7 1209.2 266.7 1207.5 270.0C1205.8 273.3 1202.9 274.2 1202.5 277.5C1202.1 280.8 1203.8 287.1 1205.0 290.0C1206.2 292.9 1209.6 292.9 1210.0 295.0C1210.4 297.1 1209.2 301.7 1207.5 302.5C1205.8 303.3 1202.9 302.9 1200.0 300.0C1197.1 297.1 1193.3 289.2 1190.0 285.0C1186.7 280.8 1183.3 277.3 1180.0 275.0C1176.7 272.7 1172.9 270.8 1170.0 271.2C1167.1 271.7 1164.2 275.2 1162.5 277.5C1160.8 279.8 1161.7 284.2 1160.0 285.0C1158.3 285.8 1155.8 285.0 1152.5 282.5C1149.2 280.0 1145.4 273.8 1140.0 270.0C1134.6 266.2 1126.2 262.9 1120.0 260.0C1113.8 257.1 1106.9 252.7 1102.5 252.5C1098.1 252.3 1095.2 255.0 1093.8 258.8C1092.3 262.5 1095.2 273.1 1093.8 275.0C1092.3 276.9 1090.2 271.7 1085.0 270.0C1079.8 268.3 1070.0 266.7 1062.5 265.0C1055.0 263.3 1046.2 262.5 1040.0 260.0C1033.8 257.5 1029.6 253.3 1025.0 250.0C1020.4 246.7 1016.7 240.8 1012.5 240.0C1008.3 239.2 1005.0 243.8 1000.0 245.0C995.0 246.2 987.5 247.5 982.5 247.5C977.5 247.5 975.4 245.2 970.0 245.0C964.6 244.8 955.4 245.2 950.0 246.2C944.6 247.3 937.5 249.6 937.5 251.2C937.5 252.9 944.6 255.6 950.0 256.2C955.4 256.9 964.6 254.8 970.0 255.0C975.4 255.2 980.4 255.0 982.5 257.5C984.6 260.0 980.8 266.7 982.5 270.0C984.2 273.3 991.2 274.6 992.5 277.5C993.8 280.4 992.1 284.6 990.0 287.5C987.9 290.4 980.8 292.5 980.0 295.0C979.2 297.5 981.7 300.8 985.0 302.5C988.3 304.2 996.7 302.9 1000.0 305.0C1003.3 307.1 1002.9 313.8 1005.0 315.0C1007.1 316.2 1009.6 315.0 1012.5 312.5C1015.4 310.0 1019.6 301.7 1022.5 300.0C1025.4 298.3 1028.8 300.0 1030.0 302.5C1031.2 305.0 1028.3 312.5 1030.0 315.0C1031.7 317.5 1035.0 317.3 1040.0 317.5C1045.0 317.7 1055.6 315.4 1060.0 316.2C1064.4 317.1 1067.1 319.8 1066.2 322.5C1065.4 325.2 1058.1 329.6 1055.0 332.5C1051.9 335.4 1048.8 337.1 1047.5 340.0C1046.2 342.9 1046.2 347.5 1047.5 350.0C1048.8 352.5 1053.8 353.3 1055.0 355.0C1056.2 356.7 1056.2 359.2 1055.0 360.0C1053.8 360.8 1050.0 361.7 1047.5 360.0C1045.0 358.3 1042.5 352.5 1040.0 350.0C1037.5 347.5 1034.2 344.2 1032.5 345.0C1030.8 345.8 1029.6 351.2 1030.0 355.0C1030.4 358.8 1035.0 364.2 1035.0 367.5C1035.0 370.8 1032.1 373.1 1030.0 375.0C1027.9 376.9 1025.4 379.6 1022.5 378.8C1019.6 377.9 1015.4 373.1 1012.5 370.0C1009.6 366.9 1008.8 363.5 1005.0 360.0C1001.2 356.5 995.0 351.9 990.0 348.8C985.0 345.6 980.0 342.1 975.0 341.2C970.0 340.4 963.3 342.3 960.0 343.8C956.7 345.2 957.5 349.8 955.0 350.0C952.5 350.2 947.9 347.1 945.0 345.0C942.1 342.9 940.8 337.5 937.5 337.5C934.2 337.5 929.2 343.3 925.0 345.0C920.8 346.7 921.2 345.8 912.5 347.5C903.8 349.2 879.2 379.9 872.5 355.0C865.8 330.1 820.4 224.2 872.5 198.0ZM1190.0 196.2C1195.6 194.0 1217.9 192.7 1222.5 196.2C1227.1 199.8 1220.4 213.3 1217.5 217.5C1214.6 221.7 1209.2 220.8 1205.0 221.2C1200.8 221.7 1195.2 221.9 1192.5 220.0C1189.8 218.1 1189.2 214.0 1188.8 210.0C1188.3 206.0 1184.4 198.5 1190.0 196.2ZM1242.5 205.0C1242.9 202.9 1247.1 201.7 1250.0 202.5C1252.9 203.3 1258.8 207.1 1260.0 210.0C1261.2 212.9 1259.6 219.2 1257.5 220.0C1255.4 220.8 1250.0 217.5 1247.5 215.0C1245.0 212.5 1242.1 207.1 1242.5 205.0ZM1215.0 257.5C1217.9 255.0 1226.7 252.1 1232.5 250.0C1238.3 247.9 1244.6 246.2 1250.0 245.0C1255.4 243.8 1260.8 241.2 1265.0 242.5C1269.2 243.8 1274.6 248.8 1275.0 252.5C1275.4 256.2 1270.8 262.5 1267.5 265.0C1264.2 267.5 1258.8 265.8 1255.0 267.5C1251.2 269.2 1247.9 275.0 1245.0 275.0C1242.1 275.0 1240.8 268.3 1237.5 267.5C1234.2 266.7 1228.8 270.4 1225.0 270.0C1221.2 269.6 1216.7 267.1 1215.0 265.0C1213.3 262.9 1212.1 260.0 1215.0 257.5ZM1203.8 320.0C1203.8 317.9 1206.5 315.0 1208.8 316.2C1211.0 317.5 1216.4 324.6 1217.5 327.5C1218.6 330.4 1217.0 333.5 1215.5 333.8C1214.0 334.0 1210.7 331.0 1208.8 328.8C1206.8 326.5 1203.8 322.1 1203.8 320.0ZM1331.2 302.5C1331.9 300.3 1337.5 294.6 1340.0 293.0C1342.5 291.4 1345.2 290.8 1346.2 293.0C1347.3 295.2 1347.9 304.0 1346.2 306.2C1344.6 308.5 1338.8 306.9 1336.2 306.2C1333.8 305.6 1330.6 304.7 1331.2 302.5ZM980.0 376.2C981.5 375.0 985.8 372.3 987.5 375.0C989.2 377.7 990.8 390.0 990.0 392.5C989.2 395.0 984.4 391.7 982.5 390.0C980.6 388.3 979.2 384.8 978.8 382.5C978.3 380.2 978.5 377.5 980.0 376.2ZM1253.8 491.2C1254.4 489.7 1260.8 489.0 1262.5 490.0C1264.2 491.0 1264.4 495.9 1263.8 497.5C1263.1 499.1 1260.4 500.5 1258.8 499.5C1257.1 498.5 1253.1 492.8 1253.8 491.2Z"/>
<path fill="#d6556d" d="M950.0 212.5C949.6 210.4 955.8 206.7 960.0 206.2C964.2 205.8 968.8 207.9 975.0 210.0C981.2 212.1 995.4 216.5 997.5 218.8C999.6 221.0 991.2 222.7 987.5 223.8C983.8 224.8 979.2 225.8 975.0 225.0C970.8 224.2 966.7 220.8 962.5 218.8C958.3 216.7 950.4 214.6 950.0 212.5ZM872.5 342.5C877.5 340.0 897.9 337.9 905.0 337.5C912.1 337.1 912.5 338.3 915.0 340.0C917.5 341.7 920.4 345.0 920.0 347.5C919.6 350.0 920.0 354.2 912.5 355.0C905.0 355.8 881.7 354.6 875.0 352.5C868.3 350.4 867.5 345.0 872.5 342.5Z"/>
<path fill="#a11b9b" d="M872.5 293.8C879.6 292.3 905.4 292.7 915.0 293.8C924.6 294.8 925.0 296.9 930.0 300.0C935.0 303.1 941.9 309.0 945.0 312.5C948.1 316.0 950.0 320.4 948.8 321.2C947.5 322.1 941.9 319.4 937.5 317.5C933.1 315.6 927.5 312.1 922.5 310.0C917.5 307.9 915.8 306.2 907.5 305.0C899.2 303.8 878.3 304.4 872.5 302.5C866.7 300.6 865.4 295.2 872.5 293.8Z"/>
<path fill="#ea7457" d="M905.0 373.8C906.2 373.3 912.5 375.2 915.0 377.5C917.5 379.8 920.0 383.3 920.0 387.5C920.0 391.7 917.5 397.1 915.0 402.5C912.5 407.9 912.3 417.5 905.0 420.0C897.7 422.5 871.0 420.4 871.2 417.5C871.5 414.6 899.6 407.1 906.2 402.5C912.9 397.9 911.0 393.8 911.2 390.0C911.5 386.2 908.5 382.7 907.5 380.0C906.5 377.3 903.8 374.2 905.0 373.8ZM972.5 405.0C972.7 402.9 975.4 401.2 977.5 402.5C979.6 403.8 984.0 409.7 985.0 412.5C986.0 415.3 985.2 419.1 983.8 419.5C982.3 419.9 978.1 417.4 976.2 415.0C974.4 412.6 972.3 407.1 972.5 405.0ZM872.5 562.5C878.3 556.2 900.4 554.2 907.5 560.0C914.6 565.8 920.8 591.2 915.0 597.5C909.2 603.8 879.6 603.3 872.5 597.5C865.4 591.7 866.7 568.8 872.5 562.5Z"/>
</g>
<g clip-path="url(#cb1)">
<rect x="224" y="564" width="404" height="370" fill="#d6556d"/>
<path fill="#ea7457" d="M397.5 655.0C400.0 655.4 403.3 659.2 406.2 660.5C409.2 661.8 411.5 663.4 415.0 663.0C418.5 662.6 424.2 660.5 427.5 658.0C430.8 655.5 432.1 650.9 435.0 648.0C437.9 645.1 442.5 643.4 445.0 640.5C447.5 637.6 450.0 633.2 450.0 630.5C450.0 627.8 445.2 626.5 445.0 624.2C444.8 622.0 446.9 619.0 448.8 616.8C450.6 614.5 453.5 614.0 456.2 610.5C459.0 607.0 464.0 599.9 465.0 595.5C466.0 591.1 461.7 586.4 462.5 584.2C463.3 582.1 467.5 584.6 470.0 582.8C472.5 580.9 475.4 573.7 477.2 573.2C479.1 572.8 479.7 578.5 481.2 580.0C482.8 581.5 485.4 583.1 486.8 582.0C488.1 580.9 489.2 576.6 489.2 573.2C489.2 569.9 487.0 569.5 486.8 562.0C486.5 554.5 483.6 533.7 487.5 528.0C491.4 522.3 506.4 522.5 510.0 528.0C513.6 533.5 511.5 552.9 509.2 561.2C507.0 569.6 495.2 572.4 496.8 578.0C498.3 583.6 516.2 591.8 518.8 594.8C521.3 597.8 514.2 596.2 512.0 596.0C509.8 595.8 507.2 593.0 505.2 593.2C503.2 593.5 501.7 595.9 500.0 597.2C498.3 598.6 496.1 599.8 495.2 601.2C494.4 602.7 493.1 603.6 494.8 606.0C496.4 608.4 499.8 613.4 505.0 615.5C510.2 617.6 522.4 616.9 526.0 618.8C529.6 620.6 527.1 624.4 526.8 626.8C526.4 629.1 526.1 632.0 523.8 633.0C521.4 634.0 514.6 631.3 512.5 633.0C510.4 634.7 511.0 639.7 511.2 643.0C511.5 646.3 511.9 649.7 513.8 653.0C515.6 656.3 520.2 660.5 522.5 663.0C524.8 665.5 523.8 667.0 527.5 668.0C531.2 669.0 540.4 670.5 545.0 669.2C549.6 668.0 548.3 661.5 555.0 660.5C561.7 659.5 577.5 662.2 585.0 663.0C592.5 663.8 595.8 666.3 600.0 665.5C604.2 664.7 605.8 660.1 610.0 658.0C614.2 655.9 620.0 655.5 625.0 653.0C630.0 650.5 635.8 646.5 640.0 643.0C644.2 639.5 641.2 633.8 650.0 631.8C658.8 629.7 684.6 605.3 692.5 630.5C700.4 655.7 697.5 728.0 697.5 783.0C697.5 838.0 742.9 930.9 692.5 960.5C642.1 990.1 445.4 967.2 395.0 960.5C344.6 953.8 391.2 929.2 390.0 920.5C388.8 911.8 388.8 912.6 387.5 908.0C386.2 903.4 383.8 898.0 382.5 893.0C381.2 888.0 380.8 883.0 380.0 878.0C379.2 873.0 379.6 867.8 377.5 863.0C375.4 858.2 370.8 853.4 367.5 849.2C364.2 845.1 359.0 841.5 357.5 838.0C356.0 834.5 357.9 830.9 358.8 828.0C359.6 825.1 362.3 823.4 362.5 820.5C362.7 817.6 361.2 813.4 360.0 810.5C358.8 807.6 356.9 805.5 355.0 803.0C353.1 800.5 350.0 798.0 348.8 795.5C347.5 793.0 347.1 790.9 347.5 788.0C347.9 785.1 350.0 781.8 351.2 778.0C352.5 774.2 353.8 769.7 355.0 765.5C356.2 761.3 357.3 757.4 358.8 753.0C360.2 748.6 361.0 742.4 363.8 739.2C366.5 736.1 371.5 735.9 375.0 734.2C378.5 732.6 383.0 731.5 385.0 729.2C387.0 727.0 387.8 724.0 387.0 720.5C386.2 717.0 381.7 711.3 380.0 708.0C378.3 704.7 376.8 703.8 377.0 700.5C377.2 697.2 379.1 691.8 381.2 688.0C383.4 684.2 389.0 681.3 390.0 678.0C391.0 674.7 387.3 671.3 387.5 668.0C387.7 664.7 389.6 660.2 391.2 658.0C392.9 655.8 395.0 654.6 397.5 655.0ZM222.5 858.0C225.4 840.9 235.0 858.4 240.0 858.0C245.0 857.6 250.4 858.4 252.5 855.5C254.6 852.6 253.8 844.2 252.5 840.5C251.2 836.8 245.8 835.9 245.0 833.0C244.2 830.1 247.3 827.2 247.5 823.0C247.7 818.8 245.8 811.8 246.2 808.0C246.7 804.2 248.1 801.5 250.0 800.5C251.9 799.5 255.0 799.2 257.5 801.8C260.0 804.2 261.7 811.1 265.0 815.5C268.3 819.9 273.3 824.2 277.5 828.0C281.7 831.8 285.8 834.2 290.0 838.0C294.2 841.8 300.8 847.2 302.5 850.5C304.2 853.8 298.8 854.2 300.0 858.0C301.2 861.8 307.1 868.0 310.0 873.0C312.9 878.0 314.6 883.4 317.5 888.0C320.4 892.6 323.8 897.4 327.5 900.5C331.2 903.6 336.2 906.8 340.0 906.8C343.8 906.8 347.5 903.2 350.0 900.5C352.5 897.8 352.9 890.1 355.0 890.5C357.1 890.9 361.0 898.4 362.5 903.0C364.0 907.6 363.3 908.4 363.8 918.0C364.2 927.6 388.5 953.4 365.0 960.5C341.5 967.6 246.2 977.6 222.5 960.5C198.8 943.4 219.6 875.1 222.5 858.0ZM280.0 608.0C282.1 605.3 286.2 603.2 290.0 601.8C293.8 600.3 299.8 598.2 302.5 599.2C305.2 600.3 306.5 604.0 306.2 608.0C306.0 612.0 303.5 618.4 301.2 623.0C299.0 627.6 294.4 630.5 292.5 635.5C290.6 640.5 291.7 647.6 290.0 653.0C288.3 658.4 285.4 664.2 282.5 668.0C279.6 671.8 275.4 675.9 272.5 675.5C269.6 675.1 266.5 668.8 265.0 665.5C263.5 662.2 262.1 658.8 263.8 655.5C265.4 652.2 273.1 649.7 275.0 645.5C276.9 641.3 274.6 635.1 275.0 630.5C275.4 625.9 276.7 621.8 277.5 618.0C278.3 614.2 277.9 610.7 280.0 608.0ZM245.0 683.0C247.3 679.7 250.6 672.2 252.5 673.0C254.4 673.8 256.7 682.6 256.2 688.0C255.8 693.4 249.8 700.5 250.0 705.5C250.2 710.5 254.6 714.2 257.5 718.0C260.4 721.8 266.2 724.7 267.5 728.0C268.8 731.3 267.1 735.5 265.0 738.0C262.9 740.5 258.3 741.3 255.0 743.0C251.7 744.7 247.7 749.7 245.0 748.0C242.3 746.3 240.0 738.0 238.8 733.0C237.5 728.0 238.1 722.6 237.5 718.0C236.9 713.4 234.8 709.7 235.0 705.5C235.2 701.3 237.1 696.8 238.8 693.0C240.4 689.2 242.7 686.3 245.0 683.0ZM296.2 680.5C297.5 678.2 302.7 676.8 305.0 676.8C307.3 676.8 310.0 678.2 310.0 680.5C310.0 682.8 306.5 687.2 305.0 690.5C303.5 693.8 302.5 700.5 301.2 700.5C300.0 700.5 298.3 693.8 297.5 690.5C296.7 687.2 295.0 682.8 296.2 680.5ZM405.0 635.5C406.2 633.0 409.6 631.1 412.5 630.5C415.4 629.9 420.4 630.1 422.5 631.8C424.6 633.4 425.4 637.4 425.0 640.5C424.6 643.6 422.5 648.2 420.0 650.5C417.5 652.8 412.5 655.1 410.0 654.2C407.5 653.4 405.8 648.6 405.0 645.5C404.2 642.4 403.8 638.0 405.0 635.5ZM462.0 568.0C462.2 565.6 464.1 563.8 465.0 565.0C465.9 566.2 467.7 573.1 467.5 575.5C467.3 577.9 464.7 580.5 463.8 579.2C462.8 578.0 461.8 570.4 462.0 568.0ZM570.0 606.8C570.4 604.5 574.8 600.9 576.2 601.8C577.7 602.6 579.2 609.5 578.8 611.8C578.3 614.0 575.2 615.8 573.8 615.0C572.3 614.2 569.6 609.0 570.0 606.8ZM595.0 619.2C595.2 617.5 601.7 613.2 603.8 613.0C605.8 612.8 607.7 616.2 607.5 618.0C607.3 619.8 604.6 623.3 602.5 623.5C600.4 623.7 594.8 621.0 595.0 619.2ZM607.5 638.0C608.1 635.6 612.3 629.3 615.0 628.5C617.7 627.7 622.9 630.7 623.8 633.0C624.6 635.3 622.1 640.8 620.0 642.5C617.9 644.2 613.3 643.8 611.2 643.0C609.2 642.2 606.9 640.4 607.5 638.0ZM637.5 614.2C638.3 611.1 642.1 604.2 645.0 601.8C647.9 599.2 653.1 598.2 655.0 599.2C656.9 600.3 657.5 604.7 656.2 608.0C655.0 611.3 650.2 617.2 647.5 619.2C644.8 621.3 641.7 621.3 640.0 620.5C638.3 619.7 636.7 617.4 637.5 614.2ZM375.0 913.0C375.0 911.2 378.3 908.0 380.0 908.0C381.7 908.0 385.0 911.2 385.0 913.0C385.0 914.8 381.7 918.5 380.0 918.5C378.3 918.5 375.0 914.8 375.0 913.0Z"/>
<path fill="#d6556d" d="M415.0 658.0C416.3 653.0 420.2 653.4 422.5 653.0C424.8 652.6 427.3 653.0 428.8 655.5C430.2 658.0 430.4 662.6 431.2 668.0C432.1 673.4 432.8 680.9 433.8 688.0C434.7 695.1 437.4 703.4 437.0 710.5C436.6 717.6 432.8 726.5 431.2 730.5C429.7 734.5 429.2 735.9 427.5 734.2C425.8 732.6 423.2 725.7 421.2 720.5C419.3 715.3 416.9 709.2 415.8 703.0C414.6 696.8 414.6 690.5 414.5 683.0C414.4 675.5 413.7 663.0 415.0 658.0ZM475.2 601.2C476.3 601.2 478.8 606.2 481.2 608.0C483.7 609.8 486.9 611.8 490.0 612.0C493.1 612.2 497.7 611.2 500.0 609.2C502.3 607.2 502.5 602.0 504.0 600.0C505.5 598.0 507.7 597.0 509.2 597.2C510.8 597.5 511.5 599.0 513.2 601.2C515.0 603.5 517.8 608.8 520.0 610.8C522.2 612.8 525.1 612.2 526.8 613.2C528.4 614.2 530.1 615.8 530.0 616.8C529.9 617.7 527.7 618.7 526.0 618.8C524.3 618.8 522.7 617.5 520.0 617.2C517.3 617.0 512.8 616.8 510.0 617.2C507.2 617.7 505.1 618.4 503.2 620.0C501.4 621.6 500.8 624.3 498.8 626.8C496.8 629.2 492.8 634.8 491.2 634.8C489.7 634.8 490.2 629.2 489.2 626.8C488.2 624.3 486.8 622.2 485.2 620.0C483.7 617.8 481.8 615.2 480.0 613.2C478.2 611.2 475.5 610.0 474.8 608.0C474.0 606.0 474.2 601.2 475.2 601.2ZM438.8 670.5C439.4 668.8 443.0 666.8 445.0 666.8C447.0 666.8 449.9 668.6 450.5 670.5C451.1 672.4 450.3 677.0 448.8 678.0C447.2 679.0 442.9 678.0 441.2 676.8C439.6 675.5 438.1 672.2 438.8 670.5ZM453.8 698.0C453.5 694.2 455.0 687.2 456.2 688.0C457.5 688.8 459.6 698.8 461.2 703.0C462.9 707.2 465.8 710.6 466.2 713.0C466.7 715.4 465.2 717.9 463.8 717.5C462.3 717.1 459.2 713.8 457.5 710.5C455.8 707.2 454.0 701.8 453.8 698.0ZM395.0 690.5C394.9 687.8 398.5 682.5 400.5 682.5C402.5 682.5 406.9 687.8 407.0 690.5C407.1 693.2 403.2 698.5 401.2 698.5C399.2 698.5 395.1 693.2 395.0 690.5ZM568.8 675.5C569.6 671.3 574.2 669.7 577.5 668.0C580.8 666.3 585.2 664.2 588.8 665.5C592.3 666.8 597.1 670.1 598.8 675.5C600.4 680.9 599.2 690.5 598.8 698.0C598.3 705.5 597.5 713.8 596.2 720.5C595.0 727.2 592.7 732.2 591.2 738.0C589.8 743.8 587.5 750.3 587.5 755.5C587.5 760.7 592.1 765.3 591.2 769.2C590.4 773.2 585.4 778.4 582.5 779.2C579.6 780.1 575.6 777.0 573.8 774.2C571.9 771.5 570.6 767.0 571.2 763.0C571.9 759.0 575.6 755.5 577.5 750.5C579.4 745.5 581.2 739.2 582.5 733.0C583.8 726.8 585.2 718.8 585.0 713.0C584.8 707.2 583.3 701.3 581.2 698.0C579.2 694.7 574.6 696.8 572.5 693.0C570.4 689.2 567.9 679.7 568.8 675.5ZM650.0 693.0C649.6 688.6 652.9 680.1 655.0 675.5C657.1 670.9 655.4 666.8 662.5 665.5C669.6 664.2 691.7 662.6 697.5 668.0C703.3 673.4 704.2 692.4 697.5 698.0C690.8 703.6 665.4 702.6 657.5 701.8C649.6 700.9 650.4 697.4 650.0 693.0ZM648.8 768.0C649.2 766.5 650.2 765.9 657.5 766.8C664.8 767.6 685.8 771.1 692.5 773.0C699.2 774.9 703.8 777.6 697.5 778.0C691.2 778.4 663.1 777.2 655.0 775.5C646.9 773.8 648.3 769.5 648.8 768.0ZM535.0 845.5C536.7 842.0 543.3 836.5 547.5 834.2C551.7 832.0 556.2 830.3 560.0 831.8C563.8 833.2 566.2 840.7 570.0 843.0C573.8 845.3 577.9 845.1 582.5 845.5C587.1 845.9 592.9 844.2 597.5 845.5C602.1 846.8 607.1 849.7 610.0 853.0C612.9 856.3 613.8 861.3 615.0 865.5C616.2 869.7 618.8 875.5 617.5 878.0C616.2 880.5 611.2 881.8 607.5 880.5C603.8 879.2 599.2 873.0 595.0 870.5C590.8 868.0 587.1 867.2 582.5 865.5C577.9 863.8 572.5 861.8 567.5 860.5C562.5 859.2 557.5 858.8 552.5 858.0C547.5 857.2 540.4 857.6 537.5 855.5C534.6 853.4 533.3 849.0 535.0 845.5ZM561.2 820.5C563.1 819.2 567.7 820.9 570.0 823.0C572.3 825.1 575.8 830.9 575.0 833.0C574.2 835.1 567.7 835.9 565.0 835.5C562.3 835.1 559.4 833.0 558.8 830.5C558.1 828.0 559.4 821.8 561.2 820.5ZM565.0 885.5C566.9 882.4 572.9 880.5 575.0 881.8C577.1 883.0 578.3 888.6 577.5 893.0C576.7 897.4 572.1 903.4 570.0 908.0C567.9 912.6 566.2 911.8 565.0 920.5C563.8 929.2 564.6 953.8 562.5 960.5C560.4 967.2 553.3 968.4 552.5 960.5C551.7 952.6 555.6 923.0 557.5 913.0C559.4 903.0 562.5 905.1 563.8 900.5C565.0 895.9 563.1 888.6 565.0 885.5ZM610.0 883.0C612.3 884.7 617.8 895.9 620.0 903.0C622.2 910.1 620.5 914.2 623.0 925.5C625.5 936.8 633.0 960.9 635.0 970.5C637.0 980.1 641.7 980.5 635.0 983.0C628.3 985.5 601.2 988.4 595.0 985.5C588.8 982.6 596.2 977.2 597.5 965.5C598.8 953.8 601.0 927.6 602.5 915.5C604.0 903.4 605.0 898.4 606.2 893.0C607.5 887.6 607.7 881.3 610.0 883.0ZM393.8 808.0C394.9 806.1 399.7 803.4 401.2 804.2C402.8 805.1 403.2 810.3 403.0 813.0C402.8 815.7 401.4 820.1 400.0 820.5C398.6 820.9 395.5 817.6 394.5 815.5C393.5 813.4 392.6 809.9 393.8 808.0Z"/>
<path fill="#f89540" d="M401.2 898.0C401.9 894.9 405.2 892.2 407.5 891.8C409.8 891.3 412.9 892.4 415.0 895.5C417.1 898.6 419.6 906.1 420.0 910.5C420.4 914.9 419.2 919.7 417.5 921.8C415.8 923.8 412.3 924.9 410.0 923.0C407.7 921.1 405.2 914.7 403.8 910.5C402.3 906.3 400.6 901.1 401.2 898.0ZM455.5 883.0C456.1 881.5 459.9 881.9 462.5 882.5C465.1 883.1 469.8 884.2 471.2 886.8C472.7 889.3 472.3 895.9 471.2 898.0C470.2 900.1 467.1 900.3 465.0 899.2C462.9 898.2 460.3 894.5 458.8 891.8C457.2 889.0 454.9 884.5 455.5 883.0ZM645.0 885.5C645.8 881.6 649.1 877.0 651.2 876.0C653.4 875.0 656.8 876.8 658.0 879.2C659.2 881.7 659.5 886.9 658.8 890.5C658.0 894.1 655.8 899.5 653.8 901.0C651.7 902.5 647.7 901.8 646.2 899.2C644.8 896.7 644.2 889.4 645.0 885.5Z"/>
<path fill="#bf3984" d="M222.5 530.5C229.2 521.3 256.7 524.2 262.5 530.5C268.3 536.8 259.6 560.5 257.5 568.0C255.4 575.5 252.5 575.1 250.0 575.5C247.5 575.9 245.0 569.7 242.5 570.5C240.0 571.3 237.5 578.0 235.0 580.5C232.5 583.0 229.6 584.7 227.5 585.5C225.4 586.3 223.3 594.7 222.5 585.5C221.7 576.3 215.8 539.7 222.5 530.5ZM273.8 573.0C274.4 571.5 277.2 568.4 278.8 568.0C280.3 567.6 282.6 569.0 283.0 570.5C283.4 572.0 282.6 575.7 281.2 576.8C279.9 577.8 276.2 577.4 275.0 576.8C273.8 576.1 273.1 574.5 273.8 573.0Z"/>
</g>
<g clip-path="url(#cb2)">
<rect x="628" y="564" width="342" height="370" fill="#ea7457"/>
<path fill="#d6556d" d="M562.5 530.5C604.0 507.6 769.4 524.2 811.2 530.5C853.1 536.8 811.9 561.8 813.8 568.0C815.6 574.2 819.8 568.6 822.5 568.0C825.2 567.4 827.1 563.8 830.0 564.2C832.9 564.7 836.2 568.2 840.0 570.5C843.8 572.8 849.4 574.9 852.5 578.0C855.6 581.1 856.2 586.8 858.8 589.2C861.2 591.8 864.0 592.4 867.5 593.0C871.0 593.6 877.1 591.3 880.0 593.0C882.9 594.7 881.7 600.5 885.0 603.0C888.3 605.5 896.2 605.1 900.0 608.0C903.8 610.9 907.9 616.3 907.5 620.5C907.1 624.7 900.4 628.8 897.5 633.0C894.6 637.2 892.9 641.3 890.0 645.5C887.1 649.7 882.9 655.5 880.0 658.0C877.1 660.5 876.7 660.9 872.5 660.5C868.3 660.1 860.4 656.5 855.0 655.5C849.6 654.5 844.8 654.0 840.0 654.2C835.2 654.5 827.3 654.0 826.2 656.8C825.2 659.5 834.0 667.0 833.8 670.5C833.5 674.0 828.1 675.1 825.0 678.0C821.9 680.9 814.6 685.5 815.0 688.0C815.4 690.5 823.3 691.3 827.5 693.0C831.7 694.7 833.8 694.7 840.0 698.0C846.2 701.3 856.7 707.6 865.0 713.0C873.3 718.4 881.7 726.3 890.0 730.5C898.3 734.7 909.6 735.1 915.0 738.0C920.4 740.9 921.7 744.7 922.5 748.0C923.3 751.3 918.8 753.4 920.0 758.0C921.2 762.6 926.7 771.3 930.0 775.5C933.3 779.7 936.7 780.5 940.0 783.0C943.3 785.5 946.7 786.3 950.0 790.5C953.3 794.7 956.7 801.8 960.0 808.0C963.3 814.2 969.6 825.1 970.0 828.0C970.4 830.9 965.4 826.8 962.5 825.5C959.6 824.2 956.2 821.8 952.5 820.5C948.8 819.2 942.9 819.7 940.0 818.0C937.1 816.3 937.5 813.0 935.0 810.5C932.5 808.0 928.3 804.0 925.0 803.0C921.7 802.0 918.3 805.1 915.0 804.2C911.7 803.4 908.8 799.5 905.0 798.0C901.2 796.5 895.0 797.2 892.5 795.5C890.0 793.8 891.2 790.9 890.0 788.0C888.8 785.1 887.5 780.1 885.0 778.0C882.5 775.9 879.2 775.3 875.0 775.5C870.8 775.7 863.3 779.7 860.0 779.2C856.7 778.8 854.2 774.5 855.0 773.0C855.8 771.5 861.7 772.2 865.0 770.5C868.3 768.8 873.8 765.9 875.0 763.0C876.2 760.1 874.6 756.3 872.5 753.0C870.4 749.7 865.4 745.5 862.5 743.0C859.6 740.5 856.9 738.0 855.0 738.0C853.1 738.0 852.1 740.5 851.2 743.0C850.4 745.5 851.5 750.9 850.0 753.0C848.5 755.1 844.8 755.9 842.5 755.5C840.2 755.1 837.1 752.6 836.2 750.5C835.4 748.4 836.9 745.1 837.5 743.0C838.1 740.9 841.2 739.7 840.0 738.0C838.8 736.3 833.3 734.7 830.0 733.0C826.7 731.3 823.3 730.5 820.0 728.0C816.7 725.5 813.3 720.9 810.0 718.0C806.7 715.1 805.0 712.2 800.0 710.5C795.0 708.8 785.2 708.6 780.0 708.0C774.8 707.4 770.4 705.9 768.8 706.8C767.1 707.6 769.0 710.3 770.0 713.0C771.0 715.7 774.2 718.8 775.0 723.0C775.8 727.2 773.8 734.2 775.0 738.0C776.2 741.8 782.5 743.4 782.5 745.5C782.5 747.6 777.9 751.3 775.0 750.5C772.1 749.7 769.2 742.8 765.0 740.5C760.8 738.2 754.6 737.6 750.0 736.8C745.4 735.9 740.0 737.8 737.5 735.5C735.0 733.2 736.2 726.8 735.0 723.0C733.8 719.2 733.3 715.1 730.0 713.0C726.7 710.9 719.2 711.8 715.0 710.5C710.8 709.2 707.9 707.8 705.0 705.5C702.1 703.2 700.4 698.8 697.5 696.8C694.6 694.7 689.6 695.3 687.5 693.0C685.4 690.7 686.9 686.3 685.0 683.0C683.1 679.7 677.9 677.2 676.2 673.0C674.6 668.8 675.6 661.8 675.0 658.0C674.4 654.2 672.1 653.4 672.5 650.5C672.9 647.6 675.2 643.8 677.5 640.5C679.8 637.2 684.6 633.8 686.2 630.5C687.9 627.2 689.0 622.8 687.5 620.5C686.0 618.2 681.2 616.3 677.5 616.8C673.8 617.2 669.6 620.7 665.0 623.0C660.4 625.3 654.2 628.8 650.0 630.5C645.8 632.2 642.5 630.9 640.0 633.0C637.5 635.1 638.3 640.1 635.0 643.0C631.7 645.9 625.4 648.6 620.0 650.5C614.6 652.4 605.8 651.3 602.5 654.2C599.2 657.2 606.7 665.7 600.0 668.0C593.3 670.3 568.8 690.9 562.5 668.0C556.2 645.1 521.0 553.4 562.5 530.5ZM865.0 530.5C831.2 536.3 862.5 559.0 865.0 565.5C867.5 572.0 875.8 569.3 880.0 569.2C884.2 569.2 886.2 566.2 890.0 565.0C893.8 563.8 898.8 561.7 902.5 561.8C906.2 561.8 908.8 562.8 912.5 565.5C916.2 568.2 920.8 573.8 925.0 578.0C929.2 582.2 932.5 586.8 937.5 590.5C942.5 594.2 953.3 596.3 955.0 600.5C956.7 604.7 950.0 610.5 947.5 615.5C945.0 620.5 940.4 626.3 940.0 630.5C939.6 634.7 942.1 636.3 945.0 640.5C947.9 644.7 952.1 651.3 957.5 655.5C962.9 659.7 974.0 662.2 977.5 665.5C981.0 668.8 980.4 672.6 978.8 675.5C977.1 678.4 970.2 679.2 967.5 683.0C964.8 686.8 964.2 693.8 962.5 698.0C960.8 702.2 959.0 703.8 957.5 708.0C956.0 712.2 955.0 718.0 953.8 723.0C952.5 728.0 950.4 732.6 950.0 738.0C949.6 743.4 950.0 750.5 951.2 755.5C952.5 760.5 954.4 764.7 957.5 768.0C960.6 771.3 966.9 775.3 970.0 775.5C973.1 775.7 976.7 771.3 976.2 769.2C975.8 767.2 969.4 765.7 967.5 763.0C965.6 760.3 964.2 755.9 965.0 753.0C965.8 750.1 970.0 746.3 972.5 745.5C975.0 744.7 977.9 746.3 980.0 748.0C982.1 749.7 982.5 752.6 985.0 755.5C987.5 758.4 990.8 761.3 995.0 765.5C999.2 769.7 1004.6 776.3 1010.0 780.5C1015.4 784.7 1017.9 787.2 1027.5 790.5C1037.1 793.8 1060.8 843.8 1067.5 800.5C1074.2 757.2 1101.2 575.5 1067.5 530.5C1033.8 485.5 898.8 524.7 865.0 530.5ZM987.5 835.5C987.9 834.2 992.1 835.5 995.0 838.0C997.9 840.5 1001.7 846.5 1005.0 850.5C1008.3 854.5 1013.8 859.2 1015.0 861.8C1016.2 864.2 1014.6 866.1 1012.5 865.5C1010.4 864.9 1005.8 861.3 1002.5 858.0C999.2 854.7 995.0 849.2 992.5 845.5C990.0 841.8 987.1 836.8 987.5 835.5ZM562.5 845.5C568.8 840.1 592.1 843.8 600.0 845.5C607.9 847.2 607.3 851.3 610.0 855.5C612.7 859.7 615.4 866.3 616.2 870.5C617.1 874.7 616.0 878.0 615.0 880.5C614.0 883.0 610.0 883.4 610.0 885.5C610.0 887.6 613.3 889.2 615.0 893.0C616.7 896.8 619.4 903.0 620.0 908.0C620.6 913.0 619.2 914.2 618.8 923.0C618.3 931.8 620.2 954.2 617.5 960.5C614.8 966.8 604.6 969.2 602.5 960.5C600.4 951.8 604.2 919.2 605.0 908.0C605.8 896.8 608.3 897.6 607.5 893.0C606.7 888.4 607.5 883.0 600.0 880.5C592.5 878.0 568.8 883.8 562.5 878.0C556.2 872.2 556.2 850.9 562.5 845.5ZM652.5 698.0C650.0 697.6 648.8 694.7 650.0 690.5C651.2 686.3 656.7 676.3 660.0 673.0C663.3 669.7 667.7 669.7 670.0 670.5C672.3 671.3 674.6 674.2 673.8 678.0C672.9 681.8 668.5 689.7 665.0 693.0C661.5 696.3 655.0 698.4 652.5 698.0ZM648.0 768.0C648.7 766.8 651.3 765.7 653.8 766.8C656.2 767.8 661.9 772.3 662.5 774.2C663.1 776.2 659.7 778.5 657.5 778.5C655.3 778.5 651.1 776.0 649.5 774.2C647.9 772.5 647.3 769.2 648.0 768.0Z"/>
<path fill="#ea7457" d="M668.8 598.0C668.8 594.9 672.9 587.6 675.0 583.0C677.1 578.4 679.5 570.9 681.2 570.5C683.0 570.1 685.3 576.8 685.5 580.5C685.7 584.2 684.2 589.5 682.5 593.0C680.8 596.5 677.3 600.9 675.0 601.8C672.7 602.6 668.8 601.1 668.8 598.0ZM686.2 601.8C687.3 599.7 692.1 594.2 695.0 591.8C697.9 589.2 702.4 586.3 703.8 586.8C705.1 587.2 704.5 592.0 703.0 594.2C701.5 596.5 697.4 598.8 695.0 600.5C692.6 602.2 690.2 604.0 688.8 604.2C687.3 604.5 685.2 603.8 686.2 601.8ZM637.5 618.0C638.1 615.4 641.0 608.6 643.8 605.5C646.5 602.4 651.7 599.2 653.8 599.2C655.8 599.2 657.1 602.8 656.2 605.5C655.4 608.2 651.5 612.9 648.8 615.5C646.0 618.1 641.9 620.6 640.0 621.0C638.1 621.4 636.9 620.6 637.5 618.0ZM696.2 611.8C696.0 609.2 699.4 606.3 702.5 606.8C705.6 607.2 713.3 612.0 715.0 614.2C716.7 616.5 714.4 619.2 712.5 620.5C710.6 621.8 706.5 623.2 703.8 621.8C701.0 620.3 696.5 614.2 696.2 611.8ZM717.5 616.8C718.5 615.4 722.1 612.5 725.0 613.5C727.9 614.5 733.5 620.2 735.0 623.0C736.5 625.8 735.2 629.9 733.8 630.5C732.3 631.1 728.8 628.2 726.2 626.8C723.8 625.3 720.2 623.4 718.8 621.8C717.3 620.1 716.5 618.1 717.5 616.8ZM607.5 639.2C608.3 636.9 612.3 629.5 615.0 628.5C617.7 627.5 623.1 630.6 623.8 633.0C624.4 635.4 621.0 641.4 618.8 643.0C616.5 644.6 611.9 643.1 610.0 642.5C608.1 641.9 606.7 641.6 607.5 639.2ZM595.0 620.5C595.2 618.7 600.6 613.7 602.5 613.5C604.4 613.3 606.7 617.5 606.5 619.2C606.3 621.0 603.2 624.0 601.2 624.2C599.3 624.5 594.8 622.3 595.0 620.5ZM717.5 641.8C719.2 640.4 725.2 637.9 730.0 638.5C734.8 639.1 744.2 643.2 746.2 645.5C748.3 647.8 745.2 651.7 742.5 652.5C739.8 653.3 733.8 651.5 730.0 650.5C726.2 649.5 722.1 648.2 720.0 646.8C717.9 645.3 715.8 643.1 717.5 641.8ZM677.5 654.2C677.9 653.0 684.6 652.4 690.0 653.0C695.4 653.6 707.1 655.5 710.0 658.0C712.9 660.5 709.2 665.9 707.5 668.0C705.8 670.1 703.3 671.8 700.0 670.5C696.7 669.2 691.2 663.2 687.5 660.5C683.8 657.8 677.1 655.5 677.5 654.2ZM868.8 625.5C869.6 623.1 874.2 620.2 877.5 621.0C880.8 621.8 886.7 627.2 888.8 630.5C890.8 633.8 891.5 638.2 890.0 640.5C888.5 642.8 882.9 645.1 880.0 644.2C877.1 643.4 874.4 638.6 872.5 635.5C870.6 632.4 867.9 627.9 868.8 625.5ZM867.0 604.2C867.2 602.7 869.0 600.4 870.0 601.0C871.0 601.6 873.2 606.4 873.0 608.0C872.8 609.6 869.8 611.1 868.8 610.5C867.8 609.9 866.8 605.8 867.0 604.2ZM915.0 783.0C916.0 780.4 920.4 777.7 922.5 778.5C924.6 779.3 927.1 785.2 927.5 788.0C927.9 790.8 926.9 794.5 925.0 795.5C923.1 796.5 917.9 796.3 916.2 794.2C914.6 792.2 914.0 785.6 915.0 783.0Z"/>
<path fill="#bf3984" d="M780.0 630.5C780.0 629.2 782.5 630.5 783.8 631.8C785.0 633.0 787.5 636.8 787.5 638.0C787.5 639.2 785.0 640.5 783.8 639.2C782.5 638.0 780.0 631.8 780.0 630.5Z"/>
<path fill="#a11b9b" d="M827.5 696.8C827.7 695.3 832.0 694.4 833.8 695.0C835.5 695.6 838.2 699.1 838.0 700.5C837.8 701.9 834.2 704.1 832.5 703.5C830.8 702.9 827.3 698.2 827.5 696.8Z"/>
<path fill="#f89540" d="M788.8 856.8C789.2 854.9 792.5 851.8 795.0 851.8C797.5 851.8 801.9 854.7 803.8 856.8C805.6 858.8 806.7 862.2 806.2 864.2C805.8 866.3 803.5 869.5 801.2 869.2C799.0 869.0 794.6 865.1 792.5 863.0C790.4 860.9 788.3 858.6 788.8 856.8ZM643.8 888.0C644.4 884.0 647.7 878.4 650.0 876.8C652.3 875.1 656.0 876.1 657.5 878.0C659.0 879.9 659.2 884.2 658.8 888.0C658.3 891.8 657.1 898.3 655.0 900.5C652.9 902.7 648.1 903.1 646.2 901.0C644.4 898.9 643.1 892.0 643.8 888.0ZM920.5 706.8C920.4 705.7 926.2 700.9 927.5 701.0C928.8 701.1 929.2 706.5 928.0 707.5C926.8 708.5 920.6 707.8 920.5 706.8Z"/>
</g>
<g clip-path="url(#cb3)">
<rect x="970" y="564" width="373" height="370" fill="#d6556d"/>
<path fill="#ea7457" d="M872.5 530.5C879.6 497.2 900.4 527.2 907.5 533.0C914.6 538.8 912.9 558.4 915.0 565.5C917.1 572.6 917.5 572.2 920.0 575.5C922.5 578.8 926.2 582.6 930.0 585.5C933.8 588.4 938.3 590.5 942.5 593.0C946.7 595.5 953.8 597.2 955.0 600.5C956.2 603.8 952.1 609.2 950.0 613.0C947.9 616.8 944.4 619.7 942.5 623.0C940.6 626.3 938.8 629.7 938.8 633.0C938.8 636.3 940.2 639.7 942.5 643.0C944.8 646.3 949.2 649.7 952.5 653.0C955.8 656.3 958.8 660.9 962.5 663.0C966.2 665.1 972.5 663.4 975.0 665.5C977.5 667.6 978.8 673.0 977.5 675.5C976.2 678.0 970.0 677.6 967.5 680.5C965.0 683.4 963.8 689.2 962.5 693.0C961.2 696.8 961.0 699.7 960.0 703.0C959.0 706.3 955.2 710.5 956.2 713.0C957.3 715.5 963.8 715.5 966.2 718.0C968.8 720.5 969.0 723.8 971.2 728.0C973.5 732.2 976.5 738.0 980.0 743.0C983.5 748.0 987.9 752.6 992.5 758.0C997.1 763.4 1002.1 770.5 1007.5 775.5C1012.9 780.5 1020.2 785.5 1025.0 788.0C1029.8 790.5 1033.1 787.8 1036.2 790.5C1039.4 793.2 1043.5 800.5 1043.8 804.2C1044.0 808.0 1037.9 809.5 1037.5 813.0C1037.1 816.5 1038.8 820.9 1041.2 825.5C1043.8 830.1 1047.7 835.1 1052.5 840.5C1057.3 845.9 1062.9 851.8 1070.0 858.0C1077.1 864.2 1090.0 872.6 1095.0 878.0C1100.0 883.4 1097.9 887.2 1100.0 890.5C1102.1 893.8 1104.2 895.9 1107.5 898.0C1110.8 900.1 1116.2 903.4 1120.0 903.0C1123.8 902.6 1125.8 897.8 1130.0 895.5C1134.2 893.2 1140.0 889.2 1145.0 889.2C1150.0 889.2 1155.4 892.4 1160.0 895.5C1164.6 898.6 1169.2 903.8 1172.5 908.0C1175.8 912.2 1177.9 911.8 1180.0 920.5C1182.1 929.2 1236.2 953.8 1185.0 960.5C1133.8 967.2 925.8 998.4 872.5 960.5C819.2 922.6 865.0 804.7 865.0 733.0C865.0 661.3 865.4 563.8 872.5 530.5Z"/>
<path fill="#d6556d" d="M872.5 730.5C879.6 720.3 906.2 734.5 915.0 736.8C923.8 739.0 924.2 741.1 925.0 744.2C925.8 747.4 920.0 751.5 920.0 755.5C920.0 759.5 922.1 763.8 925.0 768.0C927.9 772.2 933.3 777.8 937.5 780.5C941.7 783.2 946.2 781.3 950.0 784.2C953.8 787.2 957.5 793.6 960.0 798.0C962.5 802.4 962.9 805.9 965.0 810.5C967.1 815.1 968.3 820.5 972.5 825.5C976.7 830.5 984.6 835.5 990.0 840.5C995.4 845.5 1000.8 851.5 1005.0 855.5C1009.2 859.5 1014.2 862.8 1015.0 864.2C1015.8 865.7 1012.9 866.1 1010.0 864.2C1007.1 862.4 1002.1 857.4 997.5 853.0C992.9 848.6 987.1 841.8 982.5 838.0C977.9 834.2 974.2 833.0 970.0 830.5C965.8 828.0 961.2 824.7 957.5 823.0C953.8 821.3 950.8 822.2 947.5 820.5C944.2 818.8 940.8 816.1 937.5 813.0C934.2 809.9 930.4 803.0 927.5 801.8C924.6 800.5 922.9 805.7 920.0 805.5C917.1 805.3 917.9 801.8 910.0 800.5C902.1 799.2 878.8 809.7 872.5 798.0C866.2 786.3 865.4 740.7 872.5 730.5ZM962.5 723.0C965.2 722.6 969.6 727.2 972.5 730.5C975.4 733.8 980.0 740.3 980.0 743.0C980.0 745.7 974.8 744.7 972.5 746.8C970.2 748.8 967.1 752.4 966.2 755.5C965.4 758.6 966.5 763.2 967.5 765.5C968.5 767.8 972.5 768.0 972.5 769.2C972.5 770.5 970.8 773.6 967.5 773.0C964.2 772.4 955.8 767.6 952.5 765.5C949.2 763.4 947.7 762.2 947.5 760.5C947.3 758.8 951.0 758.4 951.2 755.5C951.5 752.6 947.9 746.8 948.8 743.0C949.6 739.2 954.0 736.3 956.2 733.0C958.5 729.7 959.8 723.4 962.5 723.0Z"/>
<path fill="#ea7457" d="M913.8 783.0C914.6 780.3 917.7 777.2 920.0 778.0C922.3 778.8 926.5 785.1 927.5 788.0C928.5 790.9 928.3 794.5 926.2 795.5C924.2 796.5 917.1 796.3 915.0 794.2C912.9 792.2 912.9 785.7 913.8 783.0ZM945.0 581.8C945.0 580.4 948.1 577.8 950.0 578.0C951.9 578.2 956.2 581.7 956.2 583.0C956.2 584.3 951.9 586.2 950.0 586.0C948.1 585.8 945.0 583.1 945.0 581.8ZM1225.0 718.0C1225.0 712.6 1226.2 703.4 1227.5 698.0C1228.8 692.6 1229.6 687.2 1232.5 685.5C1235.4 683.8 1240.4 686.8 1245.0 688.0C1249.6 689.2 1253.8 691.3 1260.0 693.0C1266.2 694.7 1277.5 698.0 1282.5 698.0C1287.5 698.0 1287.1 694.0 1290.0 693.0C1292.9 692.0 1296.7 690.9 1300.0 691.8C1303.3 692.6 1309.2 695.9 1310.0 698.0C1310.8 700.1 1308.3 703.2 1305.0 704.2C1301.7 705.3 1294.2 704.0 1290.0 704.2C1285.8 704.5 1283.3 704.5 1280.0 705.5C1276.7 706.5 1273.3 708.0 1270.0 710.5C1266.7 713.0 1263.3 716.8 1260.0 720.5C1256.7 724.2 1253.8 728.6 1250.0 733.0C1246.2 737.4 1240.6 745.1 1237.5 746.8C1234.4 748.4 1232.9 745.7 1231.2 743.0C1229.6 740.3 1228.5 734.7 1227.5 730.5C1226.5 726.3 1225.0 723.4 1225.0 718.0ZM1320.0 713.0C1320.4 709.5 1325.0 703.0 1327.5 701.8C1330.0 700.5 1331.9 704.5 1335.0 705.5C1338.1 706.5 1344.4 703.8 1346.2 708.0C1348.1 712.2 1348.1 727.2 1346.2 730.5C1344.4 733.8 1338.5 729.2 1335.0 728.0C1331.5 726.8 1327.5 725.5 1325.0 723.0C1322.5 720.5 1319.6 716.5 1320.0 713.0Z"/>
<path fill="#f89540" d="M920.0 707.5C919.6 706.4 924.8 701.0 926.2 701.0C927.7 701.0 929.8 706.4 928.8 707.5C927.7 708.6 920.4 708.6 920.0 707.5ZM1064.5 888.0C1065.1 885.7 1067.8 883.4 1070.0 884.2C1072.2 885.1 1075.2 889.2 1077.5 893.0C1079.8 896.8 1083.1 903.8 1083.8 906.8C1084.4 909.8 1083.1 911.2 1081.2 911.0C1079.4 910.8 1075.0 907.7 1072.5 905.5C1070.0 903.3 1067.6 900.9 1066.2 898.0C1064.9 895.1 1063.9 890.3 1064.5 888.0ZM1086.2 920.5C1086.7 918.5 1089.4 916.0 1092.5 916.0C1095.6 916.0 1100.8 918.5 1105.0 920.5C1109.2 922.5 1114.2 921.3 1117.5 928.0C1120.8 934.7 1128.3 955.1 1125.0 960.5C1121.7 965.9 1103.3 965.9 1097.5 960.5C1091.7 955.1 1091.9 934.7 1090.0 928.0C1088.1 921.3 1085.8 922.5 1086.2 920.5Z"/>
</g>
<g clip-path="url(#cc1)">
<rect x="224" y="934" width="404" height="383" fill="#ea7457"/>
<path fill="#d6556d" d="M340.0 912.5C350.6 911.2 394.6 911.2 405.0 912.5C415.4 913.8 401.9 912.1 402.5 920.0C403.1 927.9 407.9 951.2 408.8 960.0C409.6 968.8 406.5 967.5 407.5 972.5C408.5 977.5 414.0 985.0 415.0 990.0C416.0 995.0 414.6 999.2 413.8 1002.5C412.9 1005.8 408.5 1007.5 410.0 1010.0C411.5 1012.5 419.6 1014.6 422.5 1017.5C425.4 1020.4 427.3 1023.3 427.5 1027.5C427.7 1031.7 424.0 1037.5 423.8 1042.5C423.5 1047.5 426.9 1052.5 426.2 1057.5C425.6 1062.5 421.5 1067.9 420.0 1072.5C418.5 1077.1 417.3 1080.8 417.5 1085.0C417.7 1089.2 421.2 1093.3 421.2 1097.5C421.2 1101.7 419.8 1107.5 417.5 1110.0C415.2 1112.5 409.6 1110.0 407.5 1112.5C405.4 1115.0 407.1 1122.1 405.0 1125.0C402.9 1127.9 397.5 1127.9 395.0 1130.0C392.5 1132.1 390.0 1135.0 390.0 1137.5C390.0 1140.0 392.9 1141.7 395.0 1145.0C397.1 1148.3 400.2 1152.5 402.5 1157.5C404.8 1162.5 407.1 1168.8 408.8 1175.0C410.4 1181.2 409.4 1189.6 412.5 1195.0C415.6 1200.4 423.5 1203.8 427.5 1207.5C431.5 1211.2 435.0 1215.0 436.2 1217.5C437.5 1220.0 436.7 1220.8 435.0 1222.5C433.3 1224.2 426.7 1225.0 426.2 1227.5C425.8 1230.0 431.9 1232.5 432.5 1237.5C433.1 1242.5 429.6 1252.1 430.0 1257.5C430.4 1262.9 432.9 1264.6 435.0 1270.0C437.1 1275.4 440.6 1285.0 442.5 1290.0C444.4 1295.0 445.6 1290.4 446.2 1300.0C446.9 1309.6 459.4 1339.6 446.2 1347.5C433.1 1355.4 379.4 1356.2 367.5 1347.5C355.6 1338.8 373.3 1305.8 375.0 1295.0C376.7 1284.2 378.3 1287.1 377.5 1282.5C376.7 1277.9 372.1 1271.2 370.0 1267.5C367.9 1263.8 364.8 1264.6 365.0 1260.0C365.2 1255.4 369.6 1245.0 371.2 1240.0C372.9 1235.0 374.2 1234.2 375.0 1230.0C375.8 1225.8 375.4 1218.8 376.2 1215.0C377.1 1211.2 381.0 1211.2 380.0 1207.5C379.0 1203.8 372.9 1196.7 370.0 1192.5C367.1 1188.3 365.6 1184.6 362.5 1182.5C359.4 1180.4 353.8 1182.1 351.2 1180.0C348.8 1177.9 347.3 1172.9 347.5 1170.0C347.7 1167.1 353.8 1166.7 352.5 1162.5C351.2 1158.3 342.9 1150.0 340.0 1145.0C337.1 1140.0 335.4 1135.8 335.0 1132.5C334.6 1129.2 339.0 1129.2 337.5 1125.0C336.0 1120.8 327.9 1113.3 326.2 1107.5C324.6 1101.7 326.7 1094.6 327.5 1090.0C328.3 1085.4 331.5 1083.8 331.2 1080.0C331.0 1076.2 327.6 1071.7 326.2 1067.5C324.9 1063.3 324.9 1058.3 323.0 1055.0C321.1 1051.7 318.0 1049.0 315.0 1047.5C312.0 1046.0 307.5 1045.0 305.0 1046.2C302.5 1047.5 300.2 1052.5 300.0 1055.0C299.8 1057.5 301.5 1061.2 303.8 1061.2C306.0 1061.2 310.8 1057.3 313.8 1055.0C316.7 1052.7 320.2 1050.4 321.2 1047.5C322.3 1044.6 321.2 1041.0 320.0 1037.5C318.8 1034.0 314.2 1029.2 313.8 1026.2C313.3 1023.2 315.2 1020.2 317.5 1019.5C319.8 1018.8 324.4 1022.1 327.5 1022.0C330.6 1021.9 334.2 1021.0 336.2 1018.8C338.3 1016.5 339.8 1012.1 340.0 1008.8C340.2 1005.4 339.0 1002.7 337.5 998.8C336.0 994.8 332.8 989.2 331.2 985.0C329.7 980.8 327.4 975.9 328.0 973.8C328.6 971.6 332.2 969.9 335.0 972.0C337.8 974.1 342.0 982.2 345.0 986.2C348.0 990.3 351.3 996.9 353.0 996.2C354.7 995.6 355.1 987.1 355.0 982.5C354.9 977.9 354.2 972.9 352.5 968.8C350.8 964.6 346.9 965.6 345.0 957.5C343.1 949.4 342.1 927.5 341.2 920.0C340.4 912.5 329.4 913.8 340.0 912.5Z"/>
<path fill="#ea7457" d="M400.0 1035.0C400.6 1031.0 403.1 1023.5 405.0 1020.0C406.9 1016.5 409.4 1013.3 411.2 1013.8C413.1 1014.2 415.3 1018.1 416.2 1022.5C417.2 1026.9 418.0 1036.2 417.0 1040.0C416.0 1043.8 412.6 1044.4 410.0 1045.0C407.4 1045.6 402.9 1045.4 401.2 1043.8C399.6 1042.1 399.4 1039.0 400.0 1035.0ZM341.2 1045.0C341.0 1041.7 344.4 1037.5 346.2 1037.5C348.1 1037.5 350.0 1041.0 352.5 1045.0C355.0 1049.0 360.4 1057.8 361.2 1061.2C362.1 1064.7 359.8 1066.1 357.5 1065.5C355.2 1064.9 350.2 1060.9 347.5 1057.5C344.8 1054.1 341.5 1048.3 341.2 1045.0ZM390.0 1090.0C390.0 1086.2 392.1 1081.7 393.8 1077.5C395.4 1073.3 397.5 1066.7 400.0 1065.0C402.5 1063.3 407.9 1065.4 408.8 1067.5C409.6 1069.6 405.2 1073.8 405.0 1077.5C404.8 1081.2 406.5 1086.2 407.5 1090.0C408.5 1093.8 411.0 1096.7 411.2 1100.0C411.5 1103.3 410.6 1108.8 408.8 1110.0C406.9 1111.2 402.5 1109.2 400.0 1107.5C397.5 1105.8 395.4 1102.9 393.8 1100.0C392.1 1097.1 390.0 1093.8 390.0 1090.0ZM362.5 917.5C365.0 911.2 380.0 911.5 382.5 917.5C385.0 923.5 380.0 947.5 377.5 953.8C375.0 960.0 370.0 961.0 367.5 955.0C365.0 949.0 360.0 923.8 362.5 917.5ZM381.2 1146.2C381.9 1144.2 386.9 1143.1 390.0 1145.0C393.1 1146.9 397.3 1152.5 400.0 1157.5C402.7 1162.5 404.8 1168.8 406.2 1175.0C407.7 1181.2 408.5 1189.2 408.8 1195.0C409.0 1200.8 409.0 1206.7 407.5 1210.0C406.0 1213.3 402.9 1213.8 400.0 1215.0C397.1 1216.2 393.3 1218.8 390.0 1217.5C386.7 1216.2 380.0 1211.7 380.0 1207.5C380.0 1203.3 387.5 1197.3 390.0 1192.5C392.5 1187.7 395.0 1182.5 395.0 1178.8C395.0 1175.0 391.5 1173.5 390.0 1170.0C388.5 1166.5 387.7 1161.5 386.2 1157.5C384.8 1153.5 380.6 1148.3 381.2 1146.2ZM392.0 1240.0C392.3 1237.7 395.4 1235.8 397.5 1237.5C399.6 1239.2 403.9 1246.6 404.5 1250.0C405.1 1253.4 402.8 1257.8 401.2 1258.0C399.8 1258.2 397.0 1254.2 395.5 1251.2C394.0 1248.2 391.7 1242.3 392.0 1240.0Z"/>
<path fill="#d6556d" d="M292.5 972.5C292.4 969.5 294.0 964.5 295.5 964.5C297.0 964.5 299.9 969.7 301.2 972.5C302.6 975.3 304.6 979.6 303.8 981.2C302.9 982.9 298.1 984.0 296.2 982.5C294.4 981.0 292.6 975.5 292.5 972.5ZM595.0 957.5C594.6 955.6 595.4 954.2 597.5 947.5C599.6 940.8 602.5 922.5 607.5 917.5C612.5 912.5 622.5 912.1 627.5 917.5C632.5 922.9 636.2 943.5 637.5 950.0C638.8 956.5 637.9 955.8 635.0 956.2C632.1 956.7 624.6 953.1 620.0 952.5C615.4 951.9 610.8 951.5 607.5 952.5C604.2 953.5 602.1 957.9 600.0 958.8C597.9 959.6 595.4 959.4 595.0 957.5ZM585.0 1107.5C585.4 1105.5 587.1 1101.3 590.0 1100.5C592.9 1099.7 597.5 1100.9 602.5 1102.5C607.5 1104.1 615.0 1107.9 620.0 1110.0C625.0 1112.1 629.2 1115.8 632.5 1115.0C635.8 1114.2 637.1 1106.7 640.0 1105.0C642.9 1103.3 646.7 1103.3 650.0 1105.0C653.3 1106.7 652.9 1112.5 660.0 1115.0C667.1 1117.5 687.1 1116.2 692.5 1120.0C697.9 1123.8 698.8 1135.8 692.5 1137.5C686.2 1139.2 663.3 1132.3 655.0 1130.0C646.7 1127.7 647.1 1124.4 642.5 1123.8C637.9 1123.1 632.5 1126.2 627.5 1126.2C622.5 1126.2 617.5 1125.2 612.5 1123.8C607.5 1122.3 601.7 1119.4 597.5 1117.5C593.3 1115.6 589.6 1114.2 587.5 1112.5C585.4 1110.8 584.6 1109.5 585.0 1107.5ZM308.0 1101.2C307.9 1099.0 309.9 1094.8 311.2 1095.0C312.6 1095.2 316.1 1100.2 316.2 1102.5C316.4 1104.8 313.4 1109.0 312.0 1108.8C310.6 1108.5 308.1 1103.5 308.0 1101.2Z"/>
<path fill="#f89540" d="M420.0 960.0C420.3 957.9 421.5 955.8 422.5 956.2C423.5 956.7 425.8 960.3 426.2 962.5C426.8 964.7 426.5 968.5 425.5 969.5C424.5 970.5 421.4 970.3 420.5 968.8C419.6 967.2 419.7 962.1 420.0 960.0ZM437.0 1022.5C437.1 1020.5 441.6 1019.1 443.0 1019.5C444.4 1019.9 445.6 1023.0 445.5 1025.0C445.4 1027.0 443.9 1031.7 442.5 1031.2C441.1 1030.8 436.9 1024.5 437.0 1022.5Z"/>
</g>
<g clip-path="url(#cc2)">
<rect x="628" y="934" width="342" height="383" fill="#ea7457"/>
<path fill="#d6556d" d="M595.0 960.0C594.6 958.5 595.4 957.1 597.5 950.0C599.6 942.9 602.5 922.9 607.5 917.5C612.5 912.1 622.5 912.1 627.5 917.5C632.5 922.9 636.2 943.5 637.5 950.0C638.8 956.5 637.9 955.8 635.0 956.2C632.1 956.7 624.6 953.1 620.0 952.5C615.4 951.9 610.8 951.5 607.5 952.5C604.2 953.5 602.1 957.5 600.0 958.8C597.9 960.0 595.4 961.5 595.0 960.0ZM562.5 1107.5C562.9 1105.5 558.3 1101.3 565.0 1100.5C571.7 1099.7 593.3 1100.9 602.5 1102.5C611.7 1104.1 615.0 1107.9 620.0 1110.0C625.0 1112.1 629.2 1115.8 632.5 1115.0C635.8 1114.2 637.1 1106.7 640.0 1105.0C642.9 1103.3 646.7 1103.3 650.0 1105.0C653.3 1106.7 656.2 1112.1 660.0 1115.0C663.8 1117.9 667.9 1120.4 672.5 1122.5C677.1 1124.6 684.0 1125.8 687.5 1127.5C691.0 1129.2 693.3 1130.4 693.8 1132.5C694.2 1134.6 692.7 1138.1 690.0 1140.0C687.3 1141.9 681.7 1144.2 677.5 1143.8C673.3 1143.3 668.8 1139.8 665.0 1137.5C661.2 1135.2 658.8 1132.3 655.0 1130.0C651.2 1127.7 647.1 1124.4 642.5 1123.8C637.9 1123.1 632.5 1126.2 627.5 1126.2C622.5 1126.2 617.5 1125.2 612.5 1123.8C607.5 1122.3 605.8 1119.4 597.5 1117.5C589.2 1115.6 568.3 1114.2 562.5 1112.5C556.7 1110.8 562.1 1109.5 562.5 1107.5ZM663.0 1227.5C663.5 1225.2 665.4 1221.9 667.0 1222.5C668.6 1223.1 671.2 1228.1 672.5 1231.2C673.8 1234.4 675.6 1239.2 675.0 1241.2C674.4 1243.3 670.6 1244.6 668.8 1243.8C666.9 1242.9 664.7 1239.0 663.8 1236.2C662.8 1233.5 662.5 1229.8 663.0 1227.5ZM683.8 1248.8C684.6 1247.3 687.3 1245.0 690.0 1245.0C692.7 1245.0 696.7 1246.5 700.0 1248.8C703.3 1251.0 708.1 1255.6 710.0 1258.8C711.9 1261.9 712.5 1266.5 711.2 1267.5C710.0 1268.5 705.6 1266.7 702.5 1265.0C699.4 1263.3 695.4 1259.4 692.5 1257.5C689.6 1255.6 686.5 1255.2 685.0 1253.8C683.5 1252.3 682.9 1250.2 683.8 1248.8ZM715.0 1295.0C715.8 1284.4 717.5 1283.5 720.0 1280.0C722.5 1276.5 726.7 1274.6 730.0 1273.8C733.3 1272.9 737.3 1273.5 740.0 1275.0C742.7 1276.5 745.8 1279.8 746.2 1282.5C746.7 1285.2 744.0 1289.2 742.5 1291.2C741.0 1293.3 737.1 1293.3 737.5 1295.0C737.9 1296.7 742.1 1300.6 745.0 1301.2C747.9 1301.9 751.7 1299.6 755.0 1298.8C758.3 1297.9 761.7 1295.6 765.0 1296.2C768.3 1296.9 771.7 1300.4 775.0 1302.5C778.3 1304.6 781.9 1301.9 785.0 1308.8C788.1 1315.6 805.4 1337.9 793.8 1343.8C782.1 1349.6 728.1 1351.9 715.0 1343.8C701.9 1335.6 714.2 1305.6 715.0 1295.0ZM840.0 1111.2C839.6 1110.2 843.3 1108.0 847.5 1107.5C851.7 1107.0 860.6 1107.4 865.0 1108.0C869.4 1108.6 873.8 1110.2 873.8 1111.2C873.8 1112.3 869.0 1114.1 865.0 1114.5C861.0 1114.9 854.2 1114.3 850.0 1113.8C845.8 1113.2 840.4 1112.3 840.0 1111.2ZM915.0 1117.5C915.6 1116.2 922.9 1115.8 923.8 1117.0C924.6 1118.2 921.5 1124.9 920.0 1125.0C918.5 1125.1 914.4 1118.8 915.0 1117.5ZM1000.0 1045.0C1000.4 1041.7 1002.1 1036.2 1005.0 1032.5C1007.9 1028.8 1013.3 1025.0 1017.5 1022.5C1021.7 1020.0 1021.7 1017.9 1030.0 1017.5C1038.3 1017.1 1061.2 1010.4 1067.5 1020.0C1073.8 1029.6 1073.3 1066.7 1067.5 1075.0C1061.7 1083.3 1040.4 1071.7 1032.5 1070.0C1024.6 1068.3 1023.8 1067.1 1020.0 1065.0C1016.2 1062.9 1012.9 1059.6 1010.0 1057.5C1007.1 1055.4 1004.2 1054.6 1002.5 1052.5C1000.8 1050.4 999.6 1048.3 1000.0 1045.0Z"/>
<path fill="#f89540" d="M672.5 920.0C672.7 914.0 674.7 917.5 676.2 917.5C677.8 917.5 681.2 914.2 682.0 920.0C682.8 925.8 682.4 946.4 681.2 952.0C680.1 957.6 676.5 959.1 675.0 953.8C673.5 948.4 672.3 926.0 672.5 920.0ZM833.8 988.0C834.2 986.9 836.9 986.0 838.8 987.0C840.6 988.0 844.4 992.1 845.0 993.8C845.6 995.4 844.0 997.0 842.5 997.0C841.0 997.0 837.7 995.2 836.2 993.8C834.8 992.2 833.3 989.1 833.8 988.0ZM850.0 988.8C850.4 986.5 854.4 983.2 856.2 983.0C858.1 982.8 860.6 985.3 861.2 987.5C861.9 989.7 861.2 994.8 860.0 996.2C858.8 997.7 855.4 997.5 853.8 996.2C852.1 995.0 849.6 991.0 850.0 988.8Z"/>
</g>
<g clip-path="url(#cc3)">
<rect x="970" y="934" width="373" height="383" fill="#ea7457"/>
<path fill="#d6556d" d="M1050.0 975.0C1052.7 971.9 1057.5 964.6 1062.5 961.2C1067.5 957.9 1074.8 956.5 1080.0 955.0C1085.2 953.5 1090.0 951.2 1093.8 952.0C1097.5 952.8 1099.4 957.4 1102.5 960.0C1105.6 962.6 1109.2 965.8 1112.5 967.5C1115.8 969.2 1121.0 967.1 1122.5 970.0C1124.0 972.9 1121.7 980.2 1121.2 985.0C1120.8 989.8 1119.4 995.0 1120.0 998.8C1120.6 1002.5 1122.1 1004.4 1125.0 1007.5C1127.9 1010.6 1133.3 1013.8 1137.5 1017.5C1141.7 1021.2 1145.8 1027.5 1150.0 1030.0C1154.2 1032.5 1158.8 1030.4 1162.5 1032.5C1166.2 1034.6 1169.2 1039.2 1172.5 1042.5C1175.8 1045.8 1179.2 1050.0 1182.5 1052.5C1185.8 1055.0 1189.6 1054.6 1192.5 1057.5C1195.4 1060.4 1197.1 1065.4 1200.0 1070.0C1202.9 1074.6 1206.2 1081.2 1210.0 1085.0C1213.8 1088.8 1218.3 1090.0 1222.5 1092.5C1226.7 1095.0 1232.7 1096.7 1235.0 1100.0C1237.3 1103.3 1236.7 1109.2 1236.2 1112.5C1235.8 1115.8 1232.3 1117.9 1232.5 1120.0C1232.7 1122.1 1234.6 1123.8 1237.5 1125.0C1240.4 1126.2 1247.5 1126.2 1250.0 1127.5C1252.5 1128.8 1253.8 1130.6 1252.5 1132.5C1251.2 1134.4 1245.0 1136.7 1242.5 1138.8C1240.0 1140.8 1237.9 1142.3 1237.5 1145.0C1237.1 1147.7 1238.3 1151.7 1240.0 1155.0C1241.7 1158.3 1244.6 1162.3 1247.5 1165.0C1250.4 1167.7 1254.2 1170.4 1257.5 1171.2C1260.8 1172.1 1264.6 1169.0 1267.5 1170.0C1270.4 1171.0 1273.3 1173.3 1275.0 1177.5C1276.7 1181.7 1277.7 1190.4 1277.5 1195.0C1277.3 1199.6 1274.2 1201.7 1273.8 1205.0C1273.3 1208.3 1276.0 1212.1 1275.0 1215.0C1274.0 1217.9 1269.0 1219.6 1267.5 1222.5C1266.0 1225.4 1265.0 1229.2 1266.2 1232.5C1267.5 1235.8 1272.3 1240.4 1275.0 1242.5C1277.7 1244.6 1282.1 1242.9 1282.5 1245.0C1282.9 1247.1 1280.4 1251.2 1277.5 1255.0C1274.6 1258.8 1268.8 1264.2 1265.0 1267.5C1261.2 1270.8 1257.5 1272.3 1255.0 1275.0C1252.5 1277.7 1248.3 1282.1 1250.0 1283.8C1251.7 1285.4 1262.1 1283.5 1265.0 1285.0C1267.9 1286.5 1270.0 1290.8 1267.5 1292.5C1265.0 1294.2 1253.5 1295.2 1250.0 1295.0C1246.5 1294.8 1246.7 1290.0 1246.2 1291.2C1245.8 1292.5 1245.2 1299.8 1247.5 1302.5C1249.8 1305.2 1256.2 1305.8 1260.0 1307.5C1263.8 1309.2 1267.9 1306.2 1270.0 1312.5C1272.1 1318.8 1305.8 1339.6 1272.5 1345.0C1239.2 1350.4 1104.4 1353.3 1070.0 1345.0C1035.6 1336.7 1066.7 1305.8 1066.2 1295.0C1065.8 1284.2 1066.0 1284.2 1067.5 1280.0C1069.0 1275.8 1072.9 1272.1 1075.0 1270.0C1077.1 1267.9 1079.4 1270.0 1080.0 1267.5C1080.6 1265.0 1077.5 1258.1 1078.8 1255.0C1080.0 1251.9 1084.4 1250.0 1087.5 1248.8C1090.6 1247.5 1094.4 1246.7 1097.5 1247.5C1100.6 1248.3 1106.2 1251.2 1106.2 1253.8C1106.2 1256.2 1099.4 1259.8 1097.5 1262.5C1095.6 1265.2 1094.6 1267.9 1095.0 1270.0C1095.4 1272.1 1096.7 1274.0 1100.0 1275.0C1103.3 1276.0 1111.2 1277.1 1115.0 1276.2C1118.8 1275.4 1119.4 1270.6 1122.5 1270.0C1125.6 1269.4 1130.4 1272.9 1133.8 1272.5C1137.1 1272.1 1140.8 1269.5 1142.5 1267.5C1144.2 1265.5 1141.2 1262.2 1143.8 1260.5C1146.2 1258.8 1154.0 1258.8 1157.5 1257.5C1161.0 1256.2 1164.6 1255.4 1165.0 1252.5C1165.4 1249.6 1160.4 1243.3 1160.0 1240.0C1159.6 1236.7 1161.2 1235.4 1162.5 1232.5C1163.8 1229.6 1167.1 1225.8 1167.5 1222.5C1167.9 1219.2 1166.7 1215.8 1165.0 1212.5C1163.3 1209.2 1158.3 1205.4 1157.5 1202.5C1156.7 1199.6 1158.1 1196.9 1160.0 1195.0C1161.9 1193.1 1167.1 1193.8 1168.8 1191.2C1170.4 1188.8 1170.6 1183.5 1170.0 1180.0C1169.4 1176.5 1167.1 1173.2 1165.0 1170.0C1162.9 1166.8 1161.7 1161.7 1157.5 1160.5C1153.3 1159.3 1144.8 1162.2 1140.0 1163.0C1135.2 1163.8 1131.2 1162.2 1128.8 1165.0C1126.2 1167.8 1127.3 1177.3 1125.0 1180.0C1122.7 1182.7 1119.2 1181.9 1115.0 1181.2C1110.8 1180.6 1104.8 1177.9 1100.0 1176.2C1095.2 1174.6 1088.3 1173.1 1086.2 1171.2C1084.2 1169.4 1087.9 1167.3 1087.5 1165.0C1087.1 1162.7 1085.1 1160.0 1083.8 1157.5C1082.4 1155.0 1079.3 1152.5 1079.5 1150.0C1079.7 1147.5 1084.3 1145.0 1085.0 1142.5C1085.7 1140.0 1085.4 1136.7 1083.8 1135.0C1082.1 1133.3 1078.5 1133.1 1075.0 1132.5C1071.5 1131.9 1065.6 1132.5 1062.5 1131.2C1059.4 1130.0 1057.6 1127.3 1056.2 1125.0C1054.9 1122.7 1053.9 1119.8 1054.5 1117.5C1055.1 1115.2 1057.0 1113.3 1060.0 1111.2C1063.0 1109.2 1070.0 1107.7 1072.5 1105.0C1075.0 1102.3 1072.9 1097.7 1075.0 1095.0C1077.1 1092.3 1080.8 1089.6 1085.0 1088.8C1089.2 1087.9 1095.8 1089.2 1100.0 1090.0C1104.2 1090.8 1106.7 1094.2 1110.0 1093.8C1113.3 1093.3 1117.0 1089.2 1120.0 1087.5C1123.0 1085.8 1127.0 1085.8 1128.0 1083.8C1129.0 1081.7 1125.8 1077.7 1126.2 1075.0C1126.7 1072.3 1130.9 1070.2 1130.5 1067.5C1130.1 1064.8 1126.8 1059.6 1123.8 1058.8C1120.8 1057.9 1114.8 1063.5 1112.5 1062.5C1110.2 1061.5 1112.1 1054.2 1110.0 1052.5C1107.9 1050.8 1103.3 1051.7 1100.0 1052.5C1096.7 1053.3 1092.9 1057.9 1090.0 1057.5C1087.1 1057.1 1084.6 1053.3 1082.5 1050.0C1080.4 1046.7 1078.5 1042.5 1077.5 1037.5C1076.5 1032.5 1076.0 1025.0 1076.2 1020.0C1076.5 1015.0 1079.4 1011.7 1078.8 1007.5C1078.1 1003.3 1075.2 998.3 1072.5 995.0C1069.8 991.7 1065.4 987.7 1062.5 987.5C1059.6 987.3 1057.5 993.8 1055.0 993.8C1052.5 993.8 1049.0 989.8 1047.5 987.5C1046.0 985.2 1045.8 982.1 1046.2 980.0C1046.7 977.9 1047.3 978.1 1050.0 975.0ZM1175.0 912.5C1147.5 919.2 1179.6 943.8 1182.5 952.5C1185.4 961.2 1189.2 960.0 1192.5 965.0C1195.8 970.0 1201.7 978.1 1202.5 982.5C1203.3 986.9 1200.0 988.5 1197.5 991.2C1195.0 994.0 1190.8 996.2 1187.5 998.8C1184.2 1001.2 1177.9 1004.6 1177.5 1006.2C1177.1 1007.9 1182.1 1007.9 1185.0 1008.8C1187.9 1009.6 1191.2 1011.0 1195.0 1011.2C1198.8 1011.5 1202.9 1009.6 1207.5 1010.0C1212.1 1010.4 1217.9 1011.2 1222.5 1013.8C1227.1 1016.2 1231.7 1024.0 1235.0 1025.0C1238.3 1026.0 1241.7 1022.9 1242.5 1020.0C1243.3 1017.1 1240.8 1011.7 1240.0 1007.5C1239.2 1003.3 1237.7 999.6 1237.5 995.0C1237.3 990.4 1237.5 984.2 1238.8 980.0C1240.0 975.8 1242.3 972.9 1245.0 970.0C1247.7 967.1 1250.0 963.8 1255.0 962.5C1260.0 961.2 1267.5 963.1 1275.0 962.5C1282.5 961.9 1291.7 959.6 1300.0 958.8C1308.3 957.9 1318.3 958.5 1325.0 957.5C1331.7 956.5 1336.2 953.8 1340.0 952.5C1343.8 951.2 1346.2 956.7 1347.5 950.0C1348.8 943.3 1376.2 918.8 1347.5 912.5C1318.8 906.2 1202.5 905.8 1175.0 912.5ZM1227.5 1028.8C1228.1 1026.9 1232.3 1024.4 1233.8 1025.0C1235.2 1025.6 1236.9 1030.6 1236.2 1032.5C1235.6 1034.4 1231.5 1036.9 1230.0 1036.2C1228.5 1035.6 1226.9 1030.6 1227.5 1028.8ZM1275.0 1117.5C1276.7 1114.6 1282.5 1113.3 1285.0 1113.8C1287.5 1114.2 1289.8 1117.3 1290.0 1120.0C1290.2 1122.7 1286.2 1127.1 1286.2 1130.0C1286.2 1132.9 1289.0 1134.6 1290.0 1137.5C1291.0 1140.4 1293.1 1144.4 1292.5 1147.5C1291.9 1150.6 1289.2 1155.4 1286.2 1156.2C1283.3 1157.1 1278.8 1154.4 1275.0 1152.5C1271.2 1150.6 1265.0 1147.5 1263.8 1145.0C1262.5 1142.5 1265.6 1139.8 1267.5 1137.5C1269.4 1135.2 1273.8 1134.6 1275.0 1131.2C1276.2 1127.9 1273.3 1120.4 1275.0 1117.5ZM1000.0 1040.0C1000.8 1036.7 1004.2 1032.9 1007.5 1030.0C1010.8 1027.1 1015.8 1024.5 1020.0 1022.5C1024.2 1020.5 1028.8 1018.0 1032.5 1018.0C1036.2 1018.0 1038.8 1019.2 1042.5 1022.5C1046.2 1025.8 1051.0 1032.5 1055.0 1037.5C1059.0 1042.5 1063.8 1048.3 1066.2 1052.5C1068.8 1056.7 1070.6 1058.8 1070.0 1062.5C1069.4 1066.2 1065.8 1071.9 1062.5 1075.0C1059.2 1078.1 1053.8 1081.2 1050.0 1081.2C1046.2 1081.2 1042.9 1077.3 1040.0 1075.0C1037.1 1072.7 1035.8 1069.2 1032.5 1067.5C1029.2 1065.8 1023.8 1066.9 1020.0 1065.0C1016.2 1063.1 1012.9 1058.8 1010.0 1056.2C1007.1 1053.8 1004.2 1052.7 1002.5 1050.0C1000.8 1047.3 999.2 1043.3 1000.0 1040.0ZM997.5 1091.2C998.6 1089.6 1002.3 1088.3 1003.8 1090.0C1005.2 1091.7 1006.9 1098.3 1006.2 1101.2C1005.6 1104.2 1001.5 1107.7 1000.0 1107.5C998.5 1107.3 997.4 1102.7 997.0 1100.0C996.6 1097.3 996.4 1092.9 997.5 1091.2ZM915.0 1117.5C915.6 1116.2 924.0 1115.8 925.0 1117.0C926.0 1118.2 922.9 1124.9 921.2 1125.0C919.6 1125.1 914.4 1118.8 915.0 1117.5Z"/>
<path fill="#ea7457" d="M1092.5 1137.5C1092.9 1135.2 1096.7 1129.0 1100.0 1127.5C1103.3 1126.0 1111.7 1126.7 1112.5 1128.8C1113.3 1130.8 1107.5 1137.9 1105.0 1140.0C1102.5 1142.1 1099.6 1141.7 1097.5 1141.2C1095.4 1140.8 1092.1 1139.8 1092.5 1137.5ZM1213.8 1123.8C1214.7 1123.3 1217.3 1126.5 1220.0 1128.8C1222.7 1131.0 1229.2 1135.4 1230.0 1137.5C1230.8 1139.6 1226.9 1141.2 1225.0 1141.2C1223.1 1141.2 1220.5 1139.2 1218.8 1137.5C1217.0 1135.8 1215.3 1133.5 1214.5 1131.2C1213.7 1129.0 1212.8 1124.2 1213.8 1123.8ZM1187.5 1212.5C1188.3 1211.5 1193.3 1209.9 1196.2 1210.0C1199.2 1210.1 1204.6 1211.8 1205.0 1213.0C1205.4 1214.2 1201.0 1217.0 1198.8 1217.5C1196.5 1218.0 1193.1 1217.1 1191.2 1216.2C1189.4 1215.4 1186.7 1213.5 1187.5 1212.5ZM1217.5 1220.0C1217.9 1218.5 1220.4 1216.5 1222.5 1217.5C1224.6 1218.5 1229.4 1224.2 1230.0 1226.2C1230.6 1228.3 1227.9 1230.0 1226.2 1230.0C1224.6 1230.0 1221.5 1227.9 1220.0 1226.2C1218.5 1224.6 1217.1 1221.5 1217.5 1220.0ZM1166.2 1242.5C1166.9 1238.8 1170.2 1234.8 1172.5 1232.5C1174.8 1230.2 1178.1 1227.5 1180.0 1228.8C1181.9 1230.0 1183.3 1236.5 1183.8 1240.0C1184.2 1243.5 1184.0 1246.6 1182.5 1250.0C1181.0 1253.4 1177.3 1259.7 1175.0 1260.5C1172.7 1261.3 1170.2 1258.0 1168.8 1255.0C1167.3 1252.0 1165.6 1246.2 1166.2 1242.5ZM1142.5 1261.2C1143.5 1260.2 1149.6 1263.5 1152.5 1266.2C1155.4 1269.0 1157.3 1273.1 1160.0 1277.5C1162.7 1281.9 1167.9 1289.4 1168.8 1292.5C1169.6 1295.6 1167.3 1297.5 1165.0 1296.2C1162.7 1295.0 1158.1 1289.0 1155.0 1285.0C1151.9 1281.0 1148.3 1276.5 1146.2 1272.5C1144.2 1268.5 1141.5 1262.3 1142.5 1261.2ZM1182.5 1281.2C1183.3 1279.6 1185.6 1277.5 1187.5 1277.5C1189.4 1277.5 1194.0 1279.2 1193.8 1281.2C1193.5 1283.3 1188.1 1289.0 1186.2 1290.0C1184.4 1291.0 1183.1 1289.0 1182.5 1287.5C1181.9 1286.0 1181.7 1282.9 1182.5 1281.2Z"/>
<path fill="#bf3984" d="M1013.8 1042.5C1014.8 1040.0 1021.0 1037.5 1025.0 1036.2C1029.0 1035.0 1034.4 1034.4 1037.5 1035.0C1040.6 1035.6 1044.2 1038.3 1043.8 1040.0C1043.3 1041.7 1037.7 1042.7 1035.0 1045.0C1032.3 1047.3 1030.2 1052.7 1027.5 1053.8C1024.8 1054.8 1021.0 1053.1 1018.8 1051.2C1016.5 1049.4 1012.7 1045.0 1013.8 1042.5ZM1092.0 1001.2C1092.2 999.3 1096.9 995.0 1098.8 995.0C1100.6 995.0 1103.2 999.3 1103.0 1001.2C1102.8 1003.2 1099.3 1006.8 1097.5 1006.8C1095.7 1006.8 1091.8 1003.2 1092.0 1001.2ZM1126.2 1055.0C1127.1 1053.3 1133.3 1049.5 1135.0 1049.5C1136.7 1049.5 1137.1 1053.3 1136.2 1055.0C1135.4 1056.7 1131.7 1059.5 1130.0 1059.5C1128.3 1059.5 1125.4 1056.7 1126.2 1055.0ZM1155.0 1057.5C1155.2 1055.0 1156.9 1051.3 1158.8 1050.0C1160.6 1048.7 1164.0 1047.8 1166.2 1049.5C1168.5 1051.2 1169.8 1057.0 1172.5 1060.0C1175.2 1063.0 1179.6 1064.6 1182.5 1067.5C1185.4 1070.4 1188.8 1074.6 1190.0 1077.5C1191.2 1080.4 1191.2 1083.8 1190.0 1085.0C1188.8 1086.2 1185.0 1086.7 1182.5 1085.0C1180.0 1083.3 1177.9 1077.7 1175.0 1075.0C1172.1 1072.3 1167.9 1070.4 1165.0 1068.8C1162.1 1067.1 1159.2 1066.9 1157.5 1065.0C1155.8 1063.1 1154.8 1060.0 1155.0 1057.5ZM1200.0 1315.0C1201.7 1309.0 1205.4 1309.0 1210.0 1307.5C1214.6 1306.0 1225.4 1305.0 1227.5 1306.2C1229.6 1307.5 1225.0 1308.8 1222.5 1315.0C1220.0 1321.2 1216.2 1339.0 1212.5 1343.8C1208.8 1348.5 1202.1 1348.5 1200.0 1343.8C1197.9 1339.0 1198.3 1321.0 1200.0 1315.0Z"/>
<path fill="#f89540" d="M1150.0 920.0C1150.4 914.6 1154.4 917.7 1157.5 917.5C1160.6 917.3 1167.5 913.3 1168.8 918.8C1170.0 924.2 1167.3 944.8 1165.0 950.0C1162.7 955.2 1157.5 955.0 1155.0 950.0C1152.5 945.0 1149.6 925.4 1150.0 920.0Z"/>
</g>
<g clip-path="url(#cz1)">
<rect x="224" y="790" width="301" height="250" fill="#ea7457"/>
<path fill="#d6556d" d="M206.7 771.7C230.1 759.4 323.9 767.5 347.5 771.7C371.1 775.8 347.6 791.4 348.3 796.7C349.0 801.9 350.0 800.8 351.7 803.3C353.3 805.8 356.5 808.9 358.3 811.7C360.1 814.4 362.5 817.6 362.5 820.0C362.5 822.4 359.3 823.6 358.3 825.8C357.4 828.1 356.4 830.7 356.7 833.3C356.9 836.0 358.5 839.0 360.0 841.7C361.5 844.3 363.9 848.3 365.8 849.2C367.8 850.0 369.9 848.8 371.7 846.7C373.5 844.6 375.6 840.1 376.7 836.7C377.8 833.2 377.1 827.2 378.3 825.8C379.6 824.4 382.2 827.1 384.2 828.3C386.1 829.6 389.7 831.4 390.0 833.3C390.3 835.3 386.3 836.9 385.8 840.0C385.4 843.1 388.5 849.0 387.5 851.7C386.5 854.3 381.7 854.2 380.0 855.8C378.3 857.5 377.2 859.3 377.5 861.7C377.8 864.0 380.4 866.9 381.7 870.0C382.9 873.1 384.3 876.7 385.0 880.0C385.7 883.3 385.4 886.1 385.8 890.0C386.3 893.9 386.2 898.9 387.5 903.3C388.8 907.8 391.5 911.9 393.3 916.7C395.1 921.4 396.7 927.2 398.3 931.7C400.0 936.1 401.7 938.6 403.3 943.3C405.0 948.1 407.8 955.3 408.3 960.0C408.9 964.7 406.8 968.1 406.7 971.7C406.5 975.3 406.2 978.1 407.5 981.7C408.8 985.3 413.1 990.0 414.2 993.3C415.3 996.7 414.7 999.2 414.2 1001.7C413.6 1004.2 410.7 1006.4 410.8 1008.3C411.0 1010.3 413.3 1011.7 415.0 1013.3C416.7 1015.0 418.8 1015.8 420.8 1018.3C422.9 1020.8 426.5 1025.6 427.5 1028.3C428.5 1031.1 427.4 1030.0 426.7 1035.0C426.0 1040.0 440.6 1054.4 423.3 1058.3C406.1 1062.2 340.8 1062.5 323.3 1058.3C305.8 1054.2 320.0 1039.2 318.3 1033.3C316.7 1027.5 313.6 1025.6 313.3 1023.3C313.1 1021.1 314.7 1020.0 316.7 1020.0C318.6 1020.0 322.2 1023.2 325.0 1023.3C327.8 1023.5 330.8 1022.8 333.3 1020.8C335.8 1018.9 338.6 1014.6 340.0 1011.7C341.4 1008.8 342.2 1005.8 341.7 1003.3C341.1 1000.8 338.1 999.2 336.7 996.7C335.3 994.2 334.7 990.8 333.3 988.3C331.9 985.8 329.3 984.2 328.3 981.7C327.4 979.2 326.9 975.0 327.5 973.3C328.1 971.7 329.9 970.6 331.7 971.7C333.5 972.8 336.1 976.9 338.3 980.0C340.6 983.1 342.6 987.4 345.0 990.0C347.4 992.6 350.7 996.4 352.5 995.8C354.3 995.3 355.1 990.4 355.8 986.7C356.5 982.9 356.5 976.2 356.7 973.3C356.8 970.4 357.5 970.3 356.7 969.2C355.8 968.1 353.6 968.8 351.7 966.7C349.7 964.6 346.9 960.3 345.0 956.7C343.1 953.1 340.8 949.2 340.0 945.0C339.2 940.8 338.6 934.3 340.0 931.7C341.4 929.0 345.6 928.9 348.3 929.2C351.1 929.4 355.0 931.0 356.7 933.3C358.3 935.7 357.2 940.1 358.3 943.3C359.4 946.5 361.1 950.6 363.3 952.5C365.6 954.4 369.3 955.1 371.7 955.0C374.0 954.9 376.0 954.2 377.5 951.7C379.0 949.2 380.7 943.1 380.8 940.0C381.0 936.9 379.9 934.7 378.3 933.3C376.8 931.9 373.3 933.3 371.7 931.7C370.0 930.0 368.8 926.1 368.3 923.3C367.9 920.6 368.3 917.6 369.2 915.0C370.0 912.4 374.0 908.9 373.3 907.5C372.6 906.1 366.7 908.5 365.0 906.7C363.3 904.9 364.4 899.7 363.3 896.7C362.2 893.6 360.7 889.9 358.3 888.3C356.0 886.8 350.8 886.1 349.2 887.5C347.5 888.9 349.6 894.6 348.3 896.7C347.1 898.8 344.4 898.6 341.7 900.0C338.9 901.4 333.9 905.6 331.7 905.0C329.4 904.4 330.6 898.9 328.3 896.7C326.1 894.4 320.4 893.9 318.3 891.7C316.2 889.4 316.9 886.4 315.8 883.3C314.7 880.3 313.6 876.7 311.7 873.3C309.7 870.0 305.8 866.4 304.2 863.3C302.5 860.3 301.5 857.2 301.7 855.0C301.8 852.8 305.8 852.5 305.0 850.0C304.2 847.5 299.4 841.7 296.7 840.0C293.9 838.3 291.1 840.8 288.3 840.0C285.6 839.2 282.8 837.2 280.0 835.0C277.2 832.8 274.2 830.0 271.7 826.7C269.2 823.3 266.8 818.6 265.0 815.0C263.2 811.4 262.5 807.6 260.8 805.0C259.2 802.4 257.1 799.4 255.0 799.2C252.9 798.9 249.6 801.8 248.3 803.3C247.1 804.9 246.7 806.1 247.5 808.3C248.3 810.6 251.7 813.8 253.3 816.7C255.0 819.6 257.4 823.1 257.5 825.8C257.6 828.6 256.0 832.2 254.2 833.3C252.4 834.4 248.2 831.7 246.7 832.5C245.1 833.3 244.0 836.0 245.0 838.3C246.0 840.7 251.2 843.1 252.5 846.7C253.8 850.3 254.3 858.1 252.5 860.0C250.7 861.9 245.1 860.0 241.7 858.3C238.2 856.7 237.5 852.2 231.7 850.0C225.8 847.8 210.8 858.1 206.7 845.0C202.5 831.9 183.2 783.9 206.7 771.7Z"/>
<path fill="#ea7457" d="M315.8 851.7C315.6 849.4 320.7 849.4 323.3 851.3C326.0 853.3 329.2 859.7 331.7 863.3C334.2 867.0 337.5 870.8 338.3 873.3C339.2 875.8 337.8 877.9 336.7 878.3C335.6 878.8 333.6 878.1 331.7 875.8C329.7 873.6 327.6 869.0 325.0 865.0C322.4 861.0 316.1 853.9 315.8 851.7ZM408.3 1014.2C409.7 1014.2 411.9 1017.4 413.3 1020.0C414.7 1022.6 416.1 1023.6 416.7 1030.0C417.2 1036.4 419.2 1053.6 416.7 1058.3C414.2 1063.1 404.2 1063.1 401.7 1058.3C399.2 1053.6 401.1 1036.4 401.7 1030.0C402.2 1023.6 403.9 1022.6 405.0 1020.0C406.1 1017.4 406.9 1014.2 408.3 1014.2ZM375.0 913.3C375.0 912.0 378.1 908.8 379.7 908.8C381.2 908.9 384.2 912.3 384.2 913.7C384.2 915.0 381.2 917.1 379.7 917.0C378.1 916.9 375.0 914.7 375.0 913.3Z"/>
<path fill="#d6556d" d="M393.3 808.3C394.4 806.9 398.4 804.2 400.0 804.2C401.6 804.2 402.7 805.7 403.0 808.3C403.3 811.0 402.6 818.6 401.7 820.0C400.7 821.4 398.8 817.9 397.5 816.7C396.2 815.4 394.4 813.9 393.7 812.5C393.0 811.1 392.3 809.7 393.3 808.3ZM291.7 973.3C292.1 970.8 293.8 964.4 295.0 964.2C296.2 963.9 297.6 968.8 299.2 971.7C300.7 974.6 304.3 979.7 304.2 981.7C304.0 983.6 300.3 983.8 298.3 983.3C296.4 982.9 293.6 980.8 292.5 979.2C291.4 977.5 291.2 975.8 291.7 973.3Z"/>
<path fill="#f89540" d="M399.2 900.0C399.0 897.6 400.1 895.5 401.7 894.2C403.2 892.8 406.1 891.6 408.3 892.0C410.6 892.4 413.3 894.5 415.0 896.7C416.7 898.8 417.4 902.2 418.3 905.0C419.3 907.8 420.8 910.6 420.8 913.3C420.8 916.1 419.9 920.0 418.3 921.7C416.8 923.3 413.7 923.9 411.7 923.3C409.6 922.8 407.4 920.8 405.8 918.3C404.3 915.8 403.6 911.4 402.5 908.3C401.4 905.3 399.3 902.4 399.2 900.0ZM455.0 886.7C454.9 884.7 455.8 881.2 457.5 880.8C459.2 880.4 462.6 883.5 465.0 884.2C467.4 884.9 470.4 883.3 471.7 885.0C472.9 886.7 472.6 891.7 472.5 894.2C472.4 896.6 472.4 899.0 470.8 899.7C469.3 900.4 465.4 899.5 463.3 898.3C461.3 897.1 459.7 894.4 458.3 892.5C456.9 890.6 455.1 888.6 455.0 886.7ZM420.0 961.7C420.1 959.3 420.9 955.8 422.0 955.8C423.1 955.8 425.7 959.6 426.3 961.7C427.0 963.8 426.7 966.9 425.8 968.3C425.0 969.7 422.3 971.1 421.3 970.0C420.4 968.9 419.9 964.0 420.0 961.7ZM437.0 1021.7C437.6 1020.3 441.9 1018.6 443.3 1019.2C444.7 1019.7 445.5 1022.9 445.3 1025.0C445.2 1027.1 443.4 1031.2 442.5 1031.7C441.6 1032.1 440.9 1029.2 440.0 1027.5C439.1 1025.8 436.4 1023.1 437.0 1021.7Z"/>
</g>
<g clip-path="url(#czs1)">
<rect x="525" y="927" width="103" height="24" fill="#ea7457"/>
<path fill="#d6556d" d="M565.0 862.5C567.3 857.1 575.8 856.2 577.5 862.5C579.2 868.8 577.1 892.5 575.0 900.0C572.9 907.5 566.9 904.6 565.0 907.5C563.1 910.4 563.3 913.8 563.8 917.5C564.2 921.2 567.7 926.5 567.5 930.0C567.3 933.5 564.6 937.9 562.5 938.8C560.4 939.6 556.9 937.3 555.0 935.0C553.1 932.7 551.5 928.8 551.2 925.0C551.0 921.2 552.1 915.8 553.8 912.5C555.4 909.2 559.6 907.9 561.2 905.0C562.9 902.1 563.1 902.1 563.8 895.0C564.4 887.9 562.7 867.9 565.0 862.5ZM605.0 862.5C607.3 854.2 614.8 855.8 617.5 862.5C620.2 869.2 620.8 892.9 621.2 902.5C621.7 912.1 619.4 914.6 620.0 920.0C620.6 925.4 622.3 930.4 625.0 935.0C627.7 939.6 634.4 944.2 636.2 947.5C638.1 950.8 637.7 953.5 636.2 955.0C634.8 956.5 631.5 956.7 627.5 956.2C623.5 955.8 616.7 952.7 612.5 952.5C608.3 952.3 605.2 953.3 602.5 955.0C599.8 956.7 597.5 963.3 596.2 962.5C595.0 961.7 594.4 955.0 595.0 950.0C595.6 945.0 598.5 938.8 600.0 932.5C601.5 926.2 602.9 924.2 603.8 912.5C604.6 900.8 602.7 870.8 605.0 862.5Z"/>
<path fill="#f89540" d="M643.8 862.5C645.9 856.9 655.5 856.2 657.5 862.5C659.5 868.8 657.0 893.4 655.5 900.0C654.0 906.6 650.6 902.6 648.8 902.0C646.9 901.4 645.3 902.8 644.5 896.2C643.7 889.7 641.6 868.1 643.8 862.5ZM645.0 932.5C645.8 931.5 649.2 934.8 651.2 936.2C653.2 937.7 657.8 940.2 657.0 941.2C656.2 942.3 648.2 944.0 646.2 942.5C644.2 941.0 644.2 933.5 645.0 932.5Z"/>
</g>
<g clip-path="url(#czs2)">
<rect x="628" y="927" width="342" height="24" fill="#ea7457"/>
<path fill="#d6556d" d="M605.0 862.5C607.3 854.2 614.8 855.8 617.5 862.5C620.2 869.2 620.8 892.9 621.2 902.5C621.7 912.1 619.4 914.6 620.0 920.0C620.6 925.4 622.3 930.4 625.0 935.0C627.7 939.6 634.4 944.2 636.2 947.5C638.1 950.8 637.7 953.5 636.2 955.0C634.8 956.5 631.5 956.7 627.5 956.2C623.5 955.8 616.7 952.7 612.5 952.5C608.3 952.3 605.2 953.3 602.5 955.0C599.8 956.7 597.5 963.3 596.2 962.5C595.0 961.7 594.4 955.0 595.0 950.0C595.6 945.0 598.5 938.8 600.0 932.5C601.5 926.2 602.9 924.2 603.8 912.5C604.6 900.8 602.7 870.8 605.0 862.5Z"/>
<path fill="#f89540" d="M643.8 862.5C645.9 856.9 655.5 856.2 657.5 862.5C659.5 868.8 657.0 893.4 655.5 900.0C654.0 906.6 650.6 902.6 648.8 902.0C646.9 901.4 645.3 902.8 644.5 896.2C643.7 889.7 641.6 868.1 643.8 862.5ZM645.0 932.5C645.8 931.5 649.2 934.8 651.2 936.2C653.2 937.7 657.8 940.2 657.0 941.2C656.2 942.3 648.2 944.0 646.2 942.5C644.2 941.0 644.2 933.5 645.0 932.5ZM671.2 941.2C672.1 939.8 675.6 939.0 677.5 940.0C679.4 941.0 682.7 945.2 682.5 947.5C682.3 949.8 677.9 953.5 676.2 953.8C674.6 954.0 673.3 950.8 672.5 948.8C671.7 946.7 670.4 942.7 671.2 941.2Z"/>
</g>
<g clip-path="url(#czs3)">
<rect x="970" y="927" width="373" height="24" fill="#ea7457"/>
<path fill="#d6556d" d="M1100.0 862.5C1055.0 867.9 1104.2 888.5 1107.5 895.0C1110.8 901.5 1116.2 900.6 1120.0 901.2C1123.8 901.9 1126.7 900.2 1130.0 898.8C1133.3 897.3 1136.7 898.1 1140.0 892.5C1143.3 886.9 1146.2 864.2 1150.0 865.0C1153.8 865.8 1158.3 889.6 1162.5 897.5C1166.7 905.4 1171.7 907.5 1175.0 912.5C1178.3 917.5 1180.4 922.5 1182.5 927.5C1184.6 932.5 1186.2 938.3 1187.5 942.5C1188.8 946.7 1188.8 948.8 1190.0 952.5C1191.2 956.2 1192.5 960.0 1195.0 965.0C1197.5 970.0 1202.5 977.9 1205.0 982.5C1207.5 987.1 1204.6 990.8 1210.0 992.5C1215.4 994.2 1232.7 995.0 1237.5 992.5C1242.3 990.0 1237.1 981.7 1238.8 977.5C1240.4 973.3 1244.4 970.0 1247.5 967.5C1250.6 965.0 1252.9 963.3 1257.5 962.5C1262.1 961.7 1268.8 963.1 1275.0 962.5C1281.2 961.9 1288.8 959.8 1295.0 958.8C1301.2 957.7 1306.7 956.5 1312.5 956.2C1318.3 956.0 1325.4 958.5 1330.0 957.5C1334.6 956.5 1332.1 951.9 1340.0 950.0C1347.9 948.1 1371.2 960.8 1377.5 946.2C1383.8 931.7 1423.8 876.5 1377.5 862.5C1331.2 848.5 1145.0 857.1 1100.0 862.5ZM1045.0 992.5C1034.2 990.4 1045.8 983.8 1047.5 980.0C1049.2 976.2 1052.5 972.9 1055.0 970.0C1057.5 967.1 1060.0 964.6 1062.5 962.5C1065.0 960.4 1066.2 959.0 1070.0 957.5C1073.8 956.0 1080.8 954.6 1085.0 953.8C1089.2 952.9 1091.7 951.0 1095.0 952.5C1098.3 954.0 1101.7 960.0 1105.0 962.5C1108.3 965.0 1112.1 966.2 1115.0 967.5C1117.9 968.8 1121.7 967.9 1122.5 970.0C1123.3 972.1 1121.7 976.2 1120.0 980.0C1118.3 983.8 1125.0 990.4 1112.5 992.5C1100.0 994.6 1055.8 994.6 1045.0 992.5Z"/>
<path fill="#f89540" d="M1065.0 862.5C1066.5 856.7 1072.5 856.7 1075.0 862.5C1077.5 868.3 1078.5 890.0 1080.0 897.5C1081.5 905.0 1084.0 905.4 1083.8 907.5C1083.5 909.6 1080.6 910.8 1078.8 910.0C1076.9 909.2 1074.6 904.6 1072.5 902.5C1070.4 900.4 1067.5 904.2 1066.2 897.5C1065.0 890.8 1063.5 868.3 1065.0 862.5ZM1086.2 918.8C1086.9 917.1 1090.6 914.6 1093.8 915.0C1096.9 915.4 1101.0 919.2 1105.0 921.2C1109.0 923.3 1113.1 925.4 1117.5 927.5C1121.9 929.6 1129.4 931.2 1131.2 933.8C1133.1 936.2 1130.2 940.4 1128.8 942.5C1127.3 944.6 1125.2 946.5 1122.5 946.2C1119.8 946.0 1116.2 943.8 1112.5 941.2C1108.8 938.8 1103.8 934.0 1100.0 931.2C1096.2 928.5 1092.3 927.1 1090.0 925.0C1087.7 922.9 1085.6 920.4 1086.2 918.8ZM1148.8 946.2C1148.8 944.8 1151.5 941.7 1153.8 941.2C1156.0 940.8 1159.8 942.9 1162.5 943.8C1165.2 944.6 1170.0 945.2 1170.0 946.2C1170.0 947.3 1165.2 949.4 1162.5 950.0C1159.8 950.6 1156.0 950.6 1153.8 950.0C1151.5 949.4 1148.8 947.7 1148.8 946.2Z"/>
</g>
<g clip-path="url(#cz2)">
<rect x="900" y="640" width="200" height="250" fill="#ea7457"/>
<path fill="#d6556d" d="M941.7 621.7C915.4 625.6 943.1 640.3 945.0 645.0C946.9 649.7 951.4 648.1 953.3 650.0C955.3 651.9 955.0 654.7 956.7 656.7C958.3 658.6 960.6 660.6 963.3 661.7C966.1 662.8 970.8 661.9 973.3 663.3C975.8 664.7 977.6 667.6 978.3 670.0C979.0 672.4 978.9 676.0 977.5 677.5C976.1 679.0 972.1 677.9 970.0 679.2C967.9 680.4 966.1 682.4 965.0 685.0C963.9 687.6 963.9 691.9 963.3 695.0C962.8 698.1 962.8 700.8 961.7 703.3C960.6 705.8 957.4 707.5 956.7 710.0C956.0 712.5 956.2 715.6 957.5 718.3C958.8 721.1 964.0 724.2 964.2 726.7C964.3 729.2 960.7 731.1 958.3 733.3C956.0 735.6 951.1 737.5 950.0 740.0C948.9 742.5 951.7 745.6 951.7 748.3C951.7 751.1 950.6 754.7 950.0 756.7C949.4 758.6 947.5 758.3 948.3 760.0C949.2 761.7 951.9 764.7 955.0 766.7C958.1 768.6 964.2 770.4 966.7 771.7C969.2 772.9 968.8 774.4 970.0 774.2C971.2 773.9 971.9 771.0 974.2 770.0C976.4 769.0 980.6 768.6 983.3 768.3C986.1 768.1 988.6 768.8 990.8 768.3C993.1 767.9 994.0 764.6 996.7 765.8C999.3 767.1 1002.8 774.2 1006.7 775.8C1010.6 777.5 1015.8 774.9 1020.0 775.8C1024.2 776.8 1028.6 779.3 1031.7 781.7C1034.7 784.0 1036.8 787.5 1038.3 790.0C1039.9 792.5 1039.7 794.2 1040.8 796.7C1041.9 799.2 1045.1 802.6 1045.0 805.0C1044.9 807.4 1040.7 808.3 1040.0 810.8C1039.3 813.3 1040.0 817.1 1040.8 820.0C1041.7 822.9 1043.2 825.3 1045.0 828.3C1046.8 831.4 1049.2 834.7 1051.7 838.3C1054.2 841.9 1056.7 846.4 1060.0 850.0C1063.3 853.6 1067.8 856.8 1071.7 860.0C1075.6 863.2 1079.4 866.0 1083.3 869.2C1087.2 872.4 1091.8 872.6 1095.0 879.2C1098.2 885.7 1101.2 951.2 1102.5 908.3C1103.8 865.4 1129.3 669.4 1102.5 621.7C1075.7 573.9 967.9 617.8 941.7 621.7Z"/>
<path fill="#ea7457" d="M966.7 753.3C967.4 751.0 969.7 749.0 971.7 747.5C973.6 746.0 976.4 743.8 978.3 744.2C980.3 744.6 982.1 747.9 983.3 750.0C984.6 752.1 986.1 754.4 985.8 756.7C985.6 758.9 983.8 761.9 981.7 763.3C979.6 764.7 975.7 765.3 973.3 765.0C971.0 764.7 968.6 763.6 967.5 761.7C966.4 759.7 966.0 755.7 966.7 753.3Z"/>
<path fill="#d6556d" d="M881.7 731.7C886.4 721.2 903.3 735.3 910.0 736.7C916.7 738.1 918.9 738.3 921.7 740.0C924.4 741.7 926.8 745.0 926.7 746.7C926.5 748.3 921.9 747.8 920.8 750.0C919.7 752.2 919.0 756.7 920.0 760.0C921.0 763.3 923.9 766.9 926.7 770.0C929.4 773.1 933.6 776.1 936.7 778.3C939.7 780.6 942.5 782.5 945.0 783.3C947.5 784.2 949.7 781.9 951.7 783.3C953.6 784.7 955.0 788.9 956.7 791.7C958.3 794.4 960.3 797.2 961.7 800.0C963.1 802.8 963.6 805.3 965.0 808.3C966.4 811.4 968.3 815.3 970.0 818.3C971.7 821.4 974.7 824.9 975.0 826.7C975.3 828.5 973.6 829.0 971.7 829.2C969.7 829.3 965.8 828.6 963.3 827.5C960.8 826.4 959.2 823.6 956.7 822.5C954.2 821.4 950.8 821.4 948.3 820.8C945.8 820.3 943.6 820.7 941.7 819.2C939.7 817.6 938.6 814.0 936.7 811.7C934.7 809.3 931.7 806.8 930.0 805.0C928.3 803.2 928.1 800.7 926.7 800.8C925.3 801.0 923.9 804.9 921.7 805.8C919.4 806.8 915.8 807.2 913.3 806.7C910.8 806.1 911.9 803.8 906.7 802.5C901.4 801.2 885.8 811.0 881.7 799.2C877.5 787.4 876.9 742.1 881.7 731.7Z"/>
<path fill="#ea7457" d="M915.0 786.7C915.3 784.6 915.7 781.4 916.7 780.0C917.6 778.6 919.2 777.2 920.8 778.0C922.5 778.8 925.5 782.7 926.7 785.0C927.9 787.3 928.1 789.7 928.0 791.7C927.9 793.6 927.4 796.0 925.8 796.7C924.2 797.4 920.2 796.5 918.3 795.8C916.5 795.1 915.2 794.0 914.7 792.5C914.1 791.0 914.7 788.8 915.0 786.7Z"/>
<path fill="#d6556d" d="M990.0 838.3C990.0 836.5 993.1 836.4 995.0 837.5C996.9 838.6 999.4 842.1 1001.7 845.0C1003.9 847.9 1005.8 852.1 1008.3 855.0C1010.8 857.9 1015.6 860.8 1016.7 862.5C1017.8 864.2 1016.7 864.9 1015.0 865.0C1013.3 865.1 1009.2 864.7 1006.7 863.3C1004.2 861.9 1001.9 859.2 1000.0 856.7C998.1 854.2 996.7 851.4 995.0 848.3C993.3 845.3 990.0 840.1 990.0 838.3Z"/>
<path fill="#f89540" d="M920.0 707.5C919.6 706.3 923.7 702.0 925.0 701.3C926.3 700.6 927.6 702.2 928.0 703.3C928.4 704.5 928.8 707.6 927.5 708.3C926.2 709.0 920.4 708.7 920.0 707.5ZM1064.2 886.7C1064.9 882.6 1066.8 883.9 1068.3 884.2C1069.9 884.4 1072.5 884.3 1073.3 888.3C1074.2 892.4 1074.9 905.0 1073.3 908.3C1071.8 911.7 1065.7 911.9 1064.2 908.3C1062.6 904.7 1063.5 890.7 1064.2 886.7Z"/>
</g>
<path d="M306.9 200.5V1315.5M479.7 200.5V1315.5M652.5 200.5V1315.5M825.2 200.5V1315.5M998.0 200.5V1315.5M1170.8 200.5V1315.5M225.5 1145.9H1341.5M225.5 973.1H1341.5M225.5 800.3H1341.5M225.5 627.5H1341.5M225.5 454.7H1341.5M225.5 281.9H1341.5" stroke="#b0b0b0" stroke-opacity="0.26" stroke-width="2.1" fill="none"/>
<g clip-path="url(#ca1)"><path d="M282.5 202.5C283.2 203.0 288.0 205.2 287.5 206.2C287.0 207.2 281.2 208.7 278.8 210.0C276.2 211.3 270.4 213.9 268.8 216.2C267.1 218.6 266.6 224.0 266.2 227.5C265.9 231.0 264.9 240.2 266.2 242.5C267.6 244.8 274.4 243.8 276.2 245.0C278.1 246.2 280.0 249.9 280.0 251.2C280.0 252.6 275.9 254.0 276.2 255.0C276.6 256.0 281.7 257.1 282.5 258.8C283.3 260.4 283.3 265.3 282.5 267.5C281.7 269.7 278.4 272.5 276.2 275.0C274.1 277.5 266.4 283.8 266.2 286.2C266.1 288.8 272.3 293.8 275.0 293.8C277.7 293.8 283.2 288.2 286.2 286.2C289.2 284.2 294.0 280.4 297.5 278.8C301.0 277.1 309.2 274.8 312.5 273.8C315.8 272.8 319.5 271.4 322.5 271.2C325.5 271.1 332.0 272.7 335.0 272.5C338.0 272.3 342.0 269.3 345.0 269.5C348.0 269.7 354.2 273.5 357.5 273.8C360.8 274.0 366.7 271.8 370.0 271.2C373.3 270.7 381.2 269.0 382.5 269.5C383.8 270.0 382.3 273.1 380.0 275.0C377.7 276.9 367.0 280.6 365.0 283.8C363.0 286.9 363.7 296.4 365.0 298.8C366.3 301.1 373.2 299.2 375.0 301.2C376.8 303.2 377.9 311.6 378.8 313.8C379.6 315.9 381.8 316.3 381.2 317.5C380.8 318.7 375.5 321.2 375.0 322.5C374.5 323.8 376.5 326.7 377.5 327.5C378.5 328.3 381.5 327.1 382.5 328.8C383.5 330.4 385.2 336.8 385.0 340.0C384.8 343.2 379.6 350.5 381.2 352.5C382.9 354.5 395.0 354.2 397.5 355.0C400.0 355.8 398.2 358.1 400.0 358.8C401.8 359.4 409.4 359.5 411.2 360.0C413.1 360.5 412.2 362.9 413.8 362.5C415.2 362.1 420.5 357.0 422.5 357.0C424.5 357.0 427.1 361.8 428.8 362.5C430.4 363.2 434.0 361.7 435.0 362.5C436.0 363.3 435.6 367.2 436.2 368.8C436.9 370.2 440.8 373.1 440.0 373.8C439.2 374.4 431.5 372.6 430.0 373.8C428.5 374.9 429.9 380.5 428.8 382.5C427.6 384.5 421.8 386.1 421.2 388.8C420.8 391.4 424.7 399.5 425.0 402.5C425.3 405.5 425.1 408.8 423.8 411.2C422.4 413.8 416.5 418.4 415.0 421.2C413.5 424.1 413.5 430.0 412.5 432.5C411.5 435.0 407.5 438.3 407.5 440.0C407.5 441.7 409.8 444.5 412.5 445.0C415.2 445.5 423.8 443.8 427.5 443.8C431.2 443.8 436.7 444.2 440.0 445.0C443.3 445.8 449.2 449.3 452.5 450.0C455.8 450.7 462.0 449.8 465.0 450.0C468.0 450.2 473.5 449.9 475.0 451.2C476.5 452.6 476.6 457.8 476.2 460.0C475.9 462.2 472.3 464.8 472.5 467.5C472.7 470.2 475.2 478.0 477.5 480.0C479.8 482.0 488.0 481.7 490.0 482.5C492.0 483.3 492.8 484.9 492.5 486.2C492.2 487.6 487.5 490.5 487.5 492.5C487.5 494.5 491.2 499.9 492.5 501.2C493.8 502.6 495.2 503.3 497.5 502.5C499.8 501.7 507.2 495.3 510.0 495.0C512.8 494.7 516.1 499.2 518.8 500.0C521.4 500.8 526.8 502.1 530.0 501.2C533.2 500.4 539.5 495.9 542.5 493.8C545.5 491.6 549.5 486.8 552.5 485.0C555.5 483.2 561.8 481.3 565.0 480.0C568.2 478.7 574.4 474.3 576.2 475.0C578.1 475.7 578.1 482.5 578.8 485.0C579.4 487.5 580.9 492.6 581.2 493.8M581.2 493.8C581.4 495.6 581.8 504.3 582.5 507.5C583.2 510.7 585.1 515.2 586.2 517.5C587.4 519.8 589.1 524.5 591.2 525.0C593.4 525.5 599.7 521.9 602.5 521.2C605.3 520.6 610.2 519.3 612.5 520.0C614.8 520.7 617.7 525.1 620.0 526.2C622.3 527.4 627.7 529.6 630.0 528.8C632.3 527.9 637.5 521.8 637.5 520.0C637.5 518.2 630.8 518.7 630.0 515.0C629.2 511.3 630.4 496.2 631.2 492.5C632.1 488.8 636.2 488.8 636.2 487.5C636.2 486.2 631.9 484.8 631.2 482.5C630.6 480.2 632.1 473.0 631.2 470.0C630.4 467.0 626.8 463.3 625.0 460.0C623.2 456.7 619.2 448.5 617.5 445.0C615.8 441.5 611.8 435.9 612.5 433.8C613.2 431.6 621.0 430.9 622.5 428.8C624.0 426.6 622.6 419.8 623.8 417.5C624.9 415.2 629.1 410.8 631.2 411.2C633.4 411.8 637.5 420.6 640.0 421.2C642.5 421.9 647.0 416.8 650.0 416.2C653.0 415.8 660.2 416.3 662.5 417.5C664.8 418.7 666.8 424.0 667.5 425.0M581.2 493.8C579.8 494.9 573.2 500.3 570.0 502.5C566.8 504.7 561.0 508.3 557.5 510.0C554.0 511.7 546.1 512.7 543.8 515.0C541.4 517.3 541.2 524.5 540.0 527.5C538.8 530.5 536.7 535.8 535.0 537.5C533.3 539.2 528.7 538.3 527.5 540.0C526.3 541.7 525.1 548.5 526.2 550.0C527.4 551.5 536.1 550.4 536.2 551.2C536.4 552.1 530.7 555.6 527.5 556.2C524.3 556.9 515.8 555.1 512.5 556.2C509.2 557.4 504.7 562.8 502.5 565.0C500.3 567.2 497.1 571.5 496.2 572.5" fill="none" stroke="#000" stroke-width="2.0" stroke-linejoin="round" stroke-linecap="round"/></g>
<g clip-path="url(#ca2)"><path d="M611.2 435.0C611.8 436.3 613.2 441.7 615.0 445.0C616.8 448.3 622.8 456.7 625.0 460.0C627.2 463.3 630.4 467.0 631.2 470.0C632.1 473.0 630.6 480.2 631.2 482.5C631.9 484.8 636.4 486.2 636.2 487.5C636.1 488.8 630.8 488.8 630.0 492.5C629.2 496.2 629.0 511.3 630.0 515.0C631.0 518.7 637.5 518.2 637.5 520.0C637.5 521.8 632.7 528.1 630.0 528.8C627.3 529.4 620.8 526.2 617.5 525.0C614.2 523.8 608.7 520.0 605.0 520.0C601.3 520.0 592.0 524.3 590.0 525.0M611.2 435.0C612.8 434.2 620.8 431.1 622.5 428.8C624.2 426.4 622.6 419.8 623.8 417.5C624.9 415.2 629.1 410.8 631.2 411.2C633.4 411.8 637.3 420.6 640.0 421.2C642.7 421.9 648.1 416.6 651.2 416.2C654.4 415.9 660.9 418.6 663.8 418.8C666.6 418.9 669.7 420.0 672.5 417.5C675.3 415.0 682.5 403.8 685.0 400.0C687.5 396.2 689.2 389.6 691.2 388.8C693.2 387.9 696.8 392.6 700.0 393.8C703.2 394.9 711.5 396.2 715.0 397.5C718.5 398.8 723.8 401.6 726.2 403.8C728.8 405.9 731.8 412.1 733.8 413.8C735.8 415.4 738.9 417.1 741.2 416.2C743.6 415.4 749.8 409.3 751.2 407.5C752.8 405.7 751.0 404.5 752.5 402.5C754.0 400.5 760.3 394.7 762.5 392.5C764.7 390.3 766.9 385.9 768.8 386.2C770.6 386.6 774.4 392.7 776.2 395.0C778.1 397.3 781.0 404.1 782.5 403.8C784.0 403.4 785.7 394.8 787.5 392.5C789.3 390.2 793.6 385.6 796.2 386.2C798.9 386.9 804.7 394.7 807.5 397.5C810.3 400.3 815.3 405.8 817.5 407.5C819.7 409.2 822.6 411.7 823.8 410.0C824.9 408.3 825.1 398.0 826.2 395.0C827.4 392.0 829.8 389.0 832.5 387.5C835.2 386.0 844.2 383.2 846.2 383.8C848.2 384.2 846.3 389.8 847.5 391.2C848.7 392.8 852.7 395.2 855.0 395.0C857.3 394.8 862.3 391.5 865.0 390.0C867.7 388.5 872.3 384.6 875.0 383.8C877.7 382.9 882.2 385.1 885.0 383.8C887.8 382.4 894.9 376.9 896.2 373.8C897.6 370.6 894.2 362.7 895.0 360.0C895.8 357.3 899.8 355.4 902.5 353.8C905.2 352.1 911.3 348.7 915.0 347.5C918.7 346.3 927.5 346.2 930.0 345.0C932.5 343.8 932.6 339.8 933.8 338.8C934.9 337.7 937.6 336.3 938.8 337.0C939.9 337.7 941.0 342.4 942.5 343.8C944.0 345.1 948.0 346.0 950.0 347.5C952.0 349.0 956.2 353.0 957.5 355.0C958.8 357.0 957.7 361.0 960.0 362.5C962.3 364.0 971.5 364.6 975.0 366.2C978.5 367.9 982.9 374.3 986.2 375.0C989.6 375.7 996.5 371.9 1000.0 371.2C1003.5 370.6 1009.8 368.8 1012.5 370.0C1015.2 371.2 1017.7 378.7 1020.0 380.0C1022.3 381.3 1027.3 380.3 1030.0 380.0C1032.7 379.7 1038.7 377.8 1040.0 377.5M663.8 418.8C663.9 419.9 663.2 424.8 665.0 427.5C666.8 430.2 673.8 435.6 677.5 438.8C681.2 441.9 689.8 448.6 692.5 451.2C695.2 453.9 695.7 456.4 697.5 458.8C699.3 461.1 704.8 465.6 706.2 468.8C707.8 471.9 707.2 480.7 708.8 482.5C710.2 484.3 715.8 483.5 717.5 482.5C719.2 481.5 720.4 476.7 721.2 475.0C722.1 473.3 723.1 469.5 723.8 470.0C724.4 470.5 724.8 477.8 726.2 478.8C727.8 479.8 733.5 476.0 735.0 477.5C736.5 479.0 738.3 486.8 737.5 490.0C736.7 493.2 729.6 499.2 728.8 501.2C727.9 503.2 731.4 503.0 731.2 505.0C731.1 507.0 728.7 514.4 727.5 516.2C726.3 518.1 722.2 517.6 722.5 518.8C722.8 519.9 728.2 522.8 730.0 525.0C731.8 527.2 734.2 532.3 736.2 535.0C738.2 537.7 742.5 542.3 745.0 545.0C747.5 547.7 752.3 553.3 755.0 555.0C757.7 556.7 762.2 557.2 765.0 557.5C767.8 557.8 773.2 556.7 776.2 557.5C779.2 558.3 784.7 562.1 787.5 563.8C790.3 565.4 795.8 568.8 797.5 570.0C799.2 571.2 799.7 572.2 800.0 572.5M800.0 572.5C800.7 570.2 802.3 558.0 805.0 555.0C807.7 552.0 816.5 551.5 820.0 550.0C823.5 548.5 828.2 544.1 831.2 543.8C834.2 543.4 839.3 546.0 842.5 547.5C845.7 549.0 852.0 553.0 855.0 555.0C858.0 557.0 862.0 560.5 865.0 562.5C868.0 564.5 875.2 568.7 877.5 570.0C879.8 571.3 881.8 572.2 882.5 572.5" fill="none" stroke="#000" stroke-width="2.0" stroke-linejoin="round" stroke-linecap="round"/></g>
<g clip-path="url(#ca3)"><path d="M897.5 356.2C899.5 355.2 908.5 350.2 912.5 348.8C916.5 347.2 925.0 346.2 927.5 345.0C930.0 343.8 929.9 341.2 931.2 340.0C932.6 338.8 936.2 335.9 937.5 336.2C938.8 336.6 939.8 341.2 941.2 342.5C942.8 343.8 946.8 344.6 948.8 346.2C950.8 347.9 954.8 352.8 956.2 355.0C957.8 357.2 957.8 361.2 960.0 362.5C962.2 363.8 969.2 363.3 972.5 365.0C975.8 366.7 982.0 374.0 985.0 375.0C988.0 376.0 991.7 373.2 995.0 372.5C998.3 371.8 1007.0 369.7 1010.0 370.0C1013.0 370.3 1016.2 373.7 1017.5 375.0C1018.8 376.3 1018.3 379.5 1020.0 380.0C1021.7 380.5 1027.2 379.5 1030.0 378.8C1032.8 378.0 1038.6 374.5 1041.2 374.5C1043.9 374.5 1048.0 378.0 1050.0 378.8C1052.0 379.5 1054.6 379.0 1056.2 380.0C1057.9 381.0 1061.0 385.3 1062.5 386.2C1064.0 387.2 1067.5 386.5 1067.5 387.0C1067.5 387.5 1063.7 387.9 1062.5 390.0C1061.3 392.1 1060.4 400.8 1058.8 402.5C1057.1 404.2 1051.7 401.5 1050.0 402.5C1048.3 403.5 1047.0 408.0 1046.2 410.0C1045.5 412.0 1044.3 415.5 1044.5 417.5C1044.7 419.5 1046.3 423.3 1047.5 425.0C1048.7 426.7 1052.8 427.7 1053.8 430.0C1054.8 432.3 1054.7 439.5 1055.0 442.5C1055.3 445.5 1056.2 450.5 1056.2 452.5C1056.2 454.5 1053.8 457.2 1055.0 457.5C1056.2 457.8 1062.3 454.8 1065.0 455.0C1067.7 455.2 1072.3 457.8 1075.0 458.8C1077.7 459.8 1083.5 461.0 1085.0 462.5C1086.5 464.0 1084.6 468.2 1086.2 470.0C1087.9 471.8 1094.7 475.1 1097.5 476.2C1100.3 477.4 1105.2 477.2 1107.5 478.8C1109.8 480.2 1113.0 486.7 1115.0 487.5C1117.0 488.3 1120.8 484.7 1122.5 485.0C1124.2 485.3 1125.5 489.7 1127.5 490.0C1129.5 490.3 1134.5 488.3 1137.5 487.5C1140.5 486.7 1147.3 483.9 1150.0 483.8C1152.7 483.6 1155.5 484.9 1157.5 486.2C1159.5 487.6 1163.3 492.1 1165.0 493.8C1166.7 495.4 1169.3 498.1 1170.0 498.8M1170.0 498.8C1170.7 498.1 1172.7 494.9 1175.0 493.8C1177.3 492.6 1184.8 491.2 1187.5 490.0C1190.2 488.8 1193.3 486.5 1195.0 485.0C1196.7 483.5 1198.0 479.8 1200.0 478.8C1202.0 477.8 1208.3 480.0 1210.0 477.5C1211.7 475.0 1211.2 462.5 1212.5 460.0C1213.8 457.5 1218.3 458.1 1220.0 458.8C1221.7 459.4 1224.7 463.2 1225.0 465.0C1225.3 466.8 1221.5 470.8 1222.5 472.5C1223.5 474.2 1230.5 475.8 1232.5 477.5C1234.5 479.2 1235.7 484.3 1237.5 485.0C1239.3 485.7 1244.6 484.2 1246.2 482.5C1247.9 480.8 1248.8 472.7 1250.0 472.5C1251.2 472.3 1253.3 479.4 1255.0 481.2C1256.7 483.1 1260.5 485.4 1262.5 486.2C1264.5 487.1 1269.0 486.0 1270.0 487.5C1271.0 489.0 1271.0 495.8 1270.0 497.5C1269.0 499.2 1262.5 499.0 1262.5 500.0C1262.5 501.0 1267.3 504.8 1270.0 505.0C1272.7 505.2 1278.8 502.1 1282.5 501.2C1286.2 500.4 1294.5 500.2 1297.5 498.8C1300.5 497.2 1304.7 492.2 1305.0 490.0C1305.3 487.8 1299.7 484.3 1300.0 482.5C1300.3 480.7 1306.2 475.6 1307.5 476.2C1308.8 476.9 1308.0 485.0 1310.0 487.5C1312.0 490.0 1319.2 493.5 1322.5 495.0C1325.8 496.5 1332.3 498.1 1335.0 498.8C1337.7 499.4 1341.5 499.8 1342.5 500.0M1340.0 500.0C1339.5 501.0 1338.2 506.2 1336.2 507.5C1334.2 508.8 1326.8 507.7 1325.0 510.0C1323.2 512.3 1323.5 521.7 1322.5 525.0C1321.5 528.3 1318.5 532.0 1317.5 535.0C1316.5 538.0 1314.3 544.5 1315.0 547.5C1315.7 550.5 1321.2 554.2 1322.5 557.5C1323.8 560.8 1324.7 570.5 1325.0 572.5M1170.0 498.8C1168.3 498.8 1160.2 497.9 1157.5 498.8C1154.8 499.6 1152.7 503.3 1150.0 505.0C1147.3 506.7 1140.8 509.9 1137.5 511.2C1134.2 512.6 1127.3 514.8 1125.0 515.0C1122.7 515.2 1121.2 511.5 1120.0 512.5C1118.8 513.5 1116.6 519.5 1116.2 522.5C1115.9 525.5 1118.7 532.7 1117.5 535.0C1116.3 537.3 1110.2 539.2 1107.5 540.0C1104.8 540.8 1099.8 541.4 1097.5 541.2C1095.2 541.1 1091.7 538.4 1090.0 538.8C1088.3 539.1 1087.0 543.2 1085.0 543.8C1083.0 544.2 1078.0 543.0 1075.0 542.5C1072.0 542.0 1065.2 540.3 1062.5 540.0C1059.8 539.7 1055.3 538.7 1055.0 540.0C1054.7 541.3 1058.0 548.0 1060.0 550.0C1062.0 552.0 1069.7 553.7 1070.0 555.0C1070.3 556.3 1062.2 558.7 1062.5 560.0C1062.8 561.3 1072.8 563.7 1072.5 565.0C1072.2 566.3 1063.0 569.0 1060.0 570.0C1057.0 571.0 1051.3 572.2 1050.0 572.5M1146.2 513.8C1146.2 513.3 1156.7 509.8 1160.0 508.8C1163.3 507.8 1171.2 505.8 1171.2 506.2C1171.2 506.7 1163.3 511.0 1160.0 512.0C1156.7 513.0 1146.2 514.2 1146.2 513.8ZM1113.8 555.0C1114.4 554.0 1122.2 548.0 1125.0 545.0C1127.8 542.0 1133.0 534.3 1135.0 532.5C1137.0 530.7 1140.3 529.6 1140.0 531.2C1139.7 532.9 1134.3 541.7 1132.5 545.0C1130.7 548.3 1127.9 555.2 1126.2 556.2C1124.6 557.2 1121.7 552.7 1120.0 552.5C1118.3 552.3 1113.1 556.0 1113.8 555.0ZM1117.5 520.0C1118.5 518.0 1122.5 517.2 1125.0 517.5C1127.5 517.8 1136.2 520.5 1136.2 522.5C1136.2 524.5 1127.5 531.2 1125.0 532.5C1122.5 533.8 1118.5 534.2 1117.5 532.5C1116.5 530.8 1116.5 522.0 1117.5 520.0ZM1205.0 490.0C1205.5 488.7 1210.3 483.5 1212.5 482.5C1214.7 481.5 1220.6 481.7 1221.2 482.5C1221.9 483.3 1219.2 487.4 1217.5 488.8C1215.8 490.1 1210.4 492.3 1208.8 492.5C1207.1 492.7 1204.5 491.3 1205.0 490.0ZM1075.0 552.5C1075.7 551.2 1082.5 546.8 1085.0 547.5C1087.5 548.2 1093.8 555.2 1093.8 557.5C1093.8 559.8 1086.8 565.0 1085.0 565.0C1083.2 565.0 1081.3 559.2 1080.0 557.5C1078.7 555.8 1074.3 553.8 1075.0 552.5ZM1148.8 543.8C1149.2 542.8 1153.7 539.2 1155.0 538.8C1156.3 538.2 1159.2 539.0 1158.8 540.0C1158.2 541.0 1152.6 545.8 1151.2 546.2C1149.9 546.8 1148.2 544.8 1148.8 543.8ZM1265.5 535.0C1265.9 534.5 1268.2 534.5 1268.8 535.0C1269.3 535.5 1269.9 538.2 1269.5 538.8C1269.1 539.2 1266.5 539.2 1266.0 538.8C1265.5 538.2 1265.1 535.5 1265.5 535.0Z" fill="none" stroke="#000" stroke-width="2.0" stroke-linejoin="round" stroke-linecap="round"/></g>
<g clip-path="url(#cb1)"><path d="M510.0 555.5C508.7 556.8 502.2 562.5 500.0 565.5C497.8 568.5 494.9 574.7 493.8 578.0C492.6 581.3 491.8 587.0 491.2 590.5C490.8 594.0 490.2 602.4 490.0 604.2M490.0 604.2C488.7 603.1 482.0 597.5 480.0 595.5C478.0 593.5 476.7 589.9 475.0 589.2C473.3 588.6 469.2 589.3 467.5 590.5C465.8 591.7 464.8 596.8 462.5 598.0C460.2 599.2 453.3 599.4 450.0 599.2C446.7 599.1 440.2 597.4 437.5 596.8C434.8 596.1 430.3 593.6 430.0 594.2C429.7 594.9 433.8 599.8 435.0 601.8C436.2 603.8 439.1 607.2 438.8 609.2C438.4 611.2 434.7 615.2 432.5 616.8C430.3 618.2 425.7 620.5 422.5 620.5C419.3 620.5 411.9 616.8 408.8 616.8C405.6 616.8 400.6 618.8 398.8 620.5C396.9 622.2 395.2 626.4 394.5 629.2C393.8 632.1 395.0 639.2 393.8 641.8C392.5 644.2 387.2 647.7 385.0 648.0C382.8 648.3 380.2 644.2 377.5 644.2C374.8 644.2 368.5 646.7 365.0 648.0C361.5 649.3 354.6 653.6 351.2 654.2C347.9 654.9 343.2 652.8 340.0 653.0C336.8 653.2 330.2 656.0 327.5 655.5C324.8 655.0 322.3 650.8 320.0 649.2C317.7 647.8 311.7 643.1 310.0 644.2C308.3 645.4 309.5 655.3 307.5 658.0C305.5 660.7 297.0 661.9 295.0 664.2C293.0 666.6 293.5 673.3 292.5 675.5C291.5 677.7 287.8 678.5 287.5 680.5C287.2 682.5 289.8 687.3 290.0 690.5C290.2 693.7 289.8 701.6 288.8 704.2C287.8 706.9 284.0 708.3 282.5 710.5C281.0 712.7 277.3 718.5 277.5 720.5C277.7 722.5 282.6 723.2 283.8 725.5C284.9 727.8 285.8 734.8 286.2 738.0C286.8 741.2 289.0 747.2 287.5 749.2C286.0 751.2 278.3 751.8 275.0 753.0C271.7 754.2 265.0 757.5 262.5 758.0C260.0 758.5 257.6 757.4 256.2 756.8C254.9 756.1 252.2 751.8 252.5 753.0C252.8 754.2 256.9 762.5 258.8 765.5C260.6 768.5 264.2 774.5 266.2 775.5C268.2 776.5 272.4 772.3 273.8 773.0C275.1 773.7 275.2 778.0 276.2 780.5C277.2 783.0 279.9 788.9 281.2 791.8C282.6 794.6 286.2 799.6 286.2 801.8C286.2 803.9 282.1 806.2 281.2 808.0C280.4 809.8 279.2 812.8 280.0 815.5C280.8 818.2 285.2 825.0 287.5 828.0C289.8 831.0 294.8 835.7 297.5 838.0C300.2 840.3 305.2 843.2 307.5 845.5C309.8 847.8 312.7 852.5 315.0 855.5C317.3 858.5 322.7 865.2 325.0 868.0C327.3 870.8 330.5 874.8 332.5 876.8C334.5 878.8 338.2 881.5 340.0 883.0C341.8 884.5 344.8 886.2 346.2 888.0C347.8 889.8 351.1 894.4 351.2 896.8C351.4 899.1 347.5 903.0 347.5 905.5C347.5 908.0 349.9 912.8 351.2 915.5C352.6 918.2 356.0 922.8 357.5 925.5C359.0 928.2 361.8 934.2 362.5 935.5M490.0 604.2C490.7 604.1 493.7 604.2 495.0 603.0C496.3 601.8 498.2 596.7 500.0 595.5C501.8 594.3 506.8 593.2 508.8 594.2C510.8 595.2 513.3 600.7 515.0 603.0C516.7 605.3 519.6 610.2 521.2 611.8C522.9 613.2 526.8 611.8 527.5 614.2C528.2 616.8 527.2 627.2 526.2 630.5C525.2 633.8 521.7 636.9 520.0 639.2C518.3 641.6 514.1 645.5 513.8 648.0C513.4 650.5 516.5 655.5 517.5 658.0C518.5 660.5 519.9 665.1 521.2 666.8C522.6 668.4 525.7 670.5 527.5 670.5C529.3 670.5 532.7 666.6 535.0 666.8C537.3 666.9 542.2 672.6 545.0 671.8C547.8 670.9 552.9 662.0 556.2 660.5C559.6 659.0 567.2 660.0 570.0 660.5C572.8 661.0 575.3 663.9 577.5 664.2C579.7 664.6 584.8 662.2 586.2 663.0C587.8 663.8 589.2 668.8 588.8 670.5C588.2 672.2 583.0 673.2 582.5 675.5C582.0 677.8 584.2 685.0 585.0 688.0C585.8 691.0 587.4 695.0 588.8 698.0C590.1 701.0 595.0 707.5 595.0 710.5C595.0 713.5 590.1 717.8 588.8 720.5C587.4 723.2 585.3 727.5 585.0 730.5C584.7 733.5 587.2 740.2 586.2 743.0C585.2 745.8 579.7 749.4 577.5 751.8C575.3 754.1 569.8 758.0 570.0 760.5C570.2 763.0 577.8 767.8 578.8 770.5C579.8 773.2 577.2 777.5 577.5 780.5C577.8 783.5 581.6 790.2 581.2 793.0C580.9 795.8 576.7 799.4 575.0 801.8C573.3 804.1 570.1 808.0 568.8 810.5C567.4 813.0 566.0 818.0 565.0 820.5C564.0 823.0 562.2 827.2 561.2 829.2C560.2 831.2 556.7 834.0 557.5 835.5C558.3 837.0 564.8 839.2 567.5 840.5C570.2 841.8 574.8 846.2 577.5 845.5C580.2 844.8 584.5 838.2 587.5 835.5C590.5 832.8 596.7 828.2 600.0 825.5C603.3 822.8 609.5 817.7 612.5 815.5C615.5 813.3 620.0 810.8 622.5 809.2C625.0 807.8 629.6 806.2 631.2 804.2C632.9 802.2 633.2 795.2 635.0 794.2C636.8 793.2 642.5 797.4 645.0 796.8C647.5 796.1 651.6 791.2 653.8 789.2C655.9 787.2 659.4 782.8 661.2 781.8C663.1 780.8 666.7 781.8 667.5 781.8M225.0 864.2C225.8 865.4 229.6 870.8 231.2 873.0C232.9 875.2 236.3 878.2 237.5 880.5C238.7 882.8 239.5 887.5 240.0 890.5C240.5 893.5 240.2 900.0 241.2 903.0C242.2 906.0 246.0 909.7 247.5 913.0C249.0 916.3 250.2 926.2 252.5 928.0C254.8 929.8 261.7 927.1 265.0 926.8C268.3 926.4 274.8 925.8 277.5 925.5C280.2 925.2 285.0 923.6 285.0 924.2C285.0 924.9 280.2 929.0 277.5 930.5C274.8 932.0 266.7 934.8 265.0 935.5M233.8 876.8C235.1 876.6 242.9 875.7 243.8 876.0C244.6 876.3 240.5 878.8 240.0 879.2" fill="none" stroke="#000" stroke-width="2.0" stroke-linejoin="round" stroke-linecap="round"/></g>
<g clip-path="url(#cb2)"><path d="M587.5 834.2C589.2 832.9 597.3 826.1 600.0 824.2C602.7 822.4 605.5 822.0 607.5 820.5C609.5 819.0 613.0 814.7 615.0 813.0C617.0 811.3 620.3 809.2 622.5 808.0C624.7 806.8 629.6 806.1 631.2 804.2C632.9 802.4 633.2 795.2 635.0 794.2C636.8 793.2 642.5 797.4 645.0 796.8C647.5 796.1 651.6 791.2 653.8 789.2C655.9 787.2 659.4 782.6 661.2 781.8C663.1 780.9 665.7 781.7 667.5 783.0C669.3 784.3 672.7 789.8 675.0 791.8C677.3 793.8 682.3 796.5 685.0 798.0C687.7 799.5 692.3 802.0 695.0 803.0C697.7 804.0 703.5 804.0 705.0 805.5C706.5 807.0 705.4 812.9 706.2 814.2C707.1 815.6 709.4 816.3 711.2 815.5C713.1 814.7 717.5 809.8 720.0 808.0C722.5 806.2 727.3 802.8 730.0 801.8C732.7 800.8 737.8 801.8 740.0 800.5C742.2 799.2 745.2 793.8 746.2 791.8C747.2 789.8 746.3 787.3 747.5 785.5C748.7 783.7 752.8 779.3 755.0 778.0C757.2 776.7 763.1 776.5 763.8 775.5C764.4 774.5 760.0 772.0 760.0 770.5C760.0 769.0 762.1 765.4 763.8 764.2C765.4 763.1 769.7 761.8 772.5 761.8C775.3 761.8 781.7 763.4 785.0 764.2C788.3 765.1 794.2 767.0 797.5 768.0C800.8 769.0 807.5 770.8 810.0 771.8C812.5 772.8 814.6 775.5 816.2 775.5C817.9 775.5 820.8 771.2 822.5 771.8C824.2 772.2 826.9 776.8 828.8 779.2C830.6 781.8 834.4 787.5 836.2 790.5C838.1 793.5 840.7 798.8 842.5 801.8C844.3 804.8 847.8 810.3 850.0 813.0C852.2 815.7 856.4 819.4 858.8 821.8C861.1 824.1 864.7 828.5 867.5 830.5C870.3 832.5 877.0 834.8 880.0 836.8C883.0 838.8 887.8 843.0 890.0 845.5C892.2 848.0 895.4 852.5 896.2 855.5C897.1 858.5 896.8 864.7 896.2 868.0C895.8 871.3 893.3 877.2 892.5 880.5C891.7 883.8 890.0 889.7 890.0 893.0C890.0 896.3 892.3 902.2 892.5 905.5C892.7 908.8 891.1 914.8 891.2 918.0C891.4 921.2 892.6 926.9 893.8 929.2C894.9 931.6 899.2 934.7 900.0 935.5M857.5 555.5C858.8 556.3 864.7 559.8 867.5 561.8C870.3 563.8 878.1 568.0 878.8 570.5C879.4 573.0 874.7 578.8 872.5 580.5C870.3 582.2 864.5 581.8 862.5 583.0C860.5 584.2 856.8 588.1 857.5 589.2C858.2 590.4 864.8 590.9 867.5 591.8C870.2 592.6 875.0 594.5 877.5 595.5C880.0 596.5 885.2 597.8 886.2 599.2C887.2 600.8 883.8 605.4 885.0 606.8C886.2 608.1 892.3 608.2 895.0 609.2C897.7 610.2 903.2 612.6 905.0 614.2C906.8 615.9 909.1 619.8 908.8 621.8C908.4 623.8 904.5 627.1 902.5 629.2C900.5 631.4 895.1 635.8 893.8 638.0C892.4 640.2 894.0 643.5 892.5 645.5C891.0 647.5 884.3 651.0 882.5 653.0C880.7 655.0 880.4 659.3 878.8 660.5C877.1 661.7 872.5 662.2 870.0 661.8C867.5 661.2 862.3 657.8 860.0 656.8C857.7 655.8 854.8 654.8 852.5 654.2C850.2 653.8 844.8 652.8 842.5 653.0C840.2 653.2 837.2 655.2 835.0 655.5C832.8 655.8 827.2 654.5 826.2 655.5C825.2 656.5 826.5 661.2 827.5 663.0C828.5 664.8 833.4 667.4 833.8 669.2C834.1 671.1 831.8 675.2 830.0 676.8C828.2 678.2 822.2 679.2 820.0 680.5C817.8 681.8 813.4 685.1 813.8 686.8C814.1 688.4 819.8 691.7 822.5 693.0C825.2 694.3 831.1 695.4 833.8 696.8C836.4 698.1 839.8 701.3 842.5 703.0C845.2 704.7 850.8 707.4 853.8 709.2C856.8 711.1 862.3 714.9 865.0 716.8C867.7 718.6 871.4 721.3 873.8 723.0C876.1 724.7 879.7 727.9 882.5 729.2C885.3 730.6 891.8 732.1 895.0 733.0C898.2 733.9 903.6 735.3 906.2 736.0C908.9 736.7 912.3 736.7 915.0 738.0C917.7 739.3 925.4 743.8 926.2 745.5C927.1 747.2 922.1 748.5 921.2 750.5C920.4 752.5 919.3 757.8 920.0 760.5C920.7 763.2 924.4 768.2 926.2 770.5C928.1 772.8 931.9 776.2 933.8 778.0C935.6 779.8 938.2 783.6 940.0 784.2C941.8 784.9 945.7 782.3 947.5 783.0C949.3 783.7 952.1 787.2 953.8 789.2C955.4 791.2 958.5 795.5 960.0 798.0C961.5 800.5 964.0 805.3 965.0 808.0C966.0 810.7 966.2 815.3 967.5 818.0C968.8 820.7 972.7 825.7 975.0 828.0C977.3 830.3 982.3 833.2 985.0 835.5C987.7 837.8 992.3 842.8 995.0 845.5C997.7 848.2 1002.3 853.0 1005.0 855.5C1007.7 858.0 1012.8 863.4 1015.0 864.2C1017.2 865.1 1019.8 860.8 1021.2 861.8C1022.8 862.8 1024.8 868.9 1026.2 871.8C1027.8 874.6 1030.3 880.7 1032.5 883.0C1034.7 885.3 1041.2 888.4 1042.5 889.2M765.0 555.5C766.3 556.0 772.0 558.2 775.0 559.2C778.0 560.2 784.5 561.7 787.5 563.0C790.5 564.3 795.3 568.9 797.5 569.2C799.7 569.6 802.8 567.3 803.8 565.5C804.8 563.7 804.8 556.8 805.0 555.5" fill="none" stroke="#000" stroke-width="2.0" stroke-linejoin="round" stroke-linecap="round"/></g>
<g clip-path="url(#cb3)"><path d="M1065.0 555.5C1064.3 556.8 1062.0 563.2 1060.0 565.5C1058.0 567.8 1052.0 570.7 1050.0 573.0C1048.0 575.3 1045.0 580.3 1045.0 583.0C1045.0 585.7 1049.7 590.0 1050.0 593.0C1050.3 596.0 1049.8 603.3 1047.5 605.5C1045.2 607.7 1035.8 607.6 1032.5 609.2C1029.2 610.9 1025.5 615.7 1022.5 618.0C1019.5 620.3 1013.0 625.2 1010.0 626.8C1007.0 628.2 1002.3 627.8 1000.0 629.2C997.7 630.8 993.8 635.5 992.5 638.0C991.2 640.5 991.2 645.3 990.0 648.0C988.8 650.7 984.8 655.3 983.8 658.0C982.8 660.7 982.8 664.7 982.5 668.0C982.2 671.3 981.6 680.0 981.2 683.0C980.9 686.0 980.8 688.5 980.0 690.5C979.2 692.5 975.8 696.0 975.0 698.0C974.2 700.0 974.9 703.8 973.8 705.5C972.6 707.2 967.2 708.5 966.2 710.5C965.2 712.5 965.4 718.2 966.2 720.5C967.1 722.8 970.7 725.3 972.5 728.0C974.3 730.7 977.8 737.0 980.0 740.5C982.2 744.0 986.4 750.9 988.8 754.2C991.1 757.6 995.0 762.5 997.5 765.5C1000.0 768.5 1004.8 774.8 1007.5 776.8C1010.2 778.8 1014.8 778.8 1017.5 780.5C1020.2 782.2 1025.0 787.9 1027.5 789.2C1030.0 790.6 1034.6 789.2 1036.2 790.5C1037.9 791.8 1039.0 797.4 1040.0 799.2C1041.0 801.1 1044.1 802.8 1043.8 804.2C1043.4 805.8 1038.2 808.3 1037.5 810.5C1036.8 812.7 1038.1 818.2 1038.8 820.5C1039.4 822.8 1041.0 825.5 1042.5 828.0C1044.0 830.5 1047.7 836.2 1050.0 839.2C1052.3 842.2 1057.0 847.5 1060.0 850.5C1063.0 853.5 1069.2 859.1 1072.5 861.8C1075.8 864.4 1082.0 868.2 1085.0 870.5C1088.0 872.8 1093.3 876.9 1095.0 879.2C1096.7 881.6 1096.3 885.8 1097.5 888.0C1098.7 890.2 1101.4 893.3 1103.8 895.5C1106.1 897.7 1111.8 901.9 1115.0 904.2C1118.2 906.6 1124.2 910.7 1127.5 913.0C1130.8 915.3 1137.0 919.4 1140.0 921.8C1143.0 924.1 1147.7 928.7 1150.0 930.5C1152.3 932.3 1156.5 934.8 1157.5 935.5M1023.8 819.2C1025.2 819.8 1032.8 822.1 1035.0 823.0C1037.2 823.9 1040.2 825.5 1040.0 826.0C1039.8 826.5 1034.6 826.6 1033.8 826.8M1123.8 916.8C1125.2 917.2 1132.8 919.5 1135.0 920.5C1137.2 921.5 1139.3 923.8 1140.0 924.2M1097.5 898.0L1102.5 894.2M897.5 733.0C899.8 733.5 911.3 735.4 915.0 736.8C918.7 738.1 923.5 741.5 925.0 743.0C926.5 744.5 926.9 746.8 926.2 748.0C925.6 749.2 920.8 750.1 920.0 751.8C919.2 753.4 919.2 758.2 920.0 760.5C920.8 762.8 924.4 766.9 926.2 769.2C928.1 771.6 931.8 776.5 933.8 778.0C935.8 779.5 939.6 779.5 941.2 780.5C942.9 781.5 944.9 785.0 946.2 785.5C947.6 786.0 949.6 783.1 951.2 784.2C952.9 785.4 957.1 791.4 958.8 794.2C960.4 797.1 962.6 802.7 963.8 805.5C964.9 808.3 966.0 812.5 967.5 815.5C969.0 818.5 972.7 825.5 975.0 828.0C977.3 830.5 982.3 831.9 985.0 834.2C987.7 836.6 992.3 842.7 995.0 845.5C997.7 848.3 1002.3 853.0 1005.0 855.5C1007.7 858.0 1012.7 863.4 1015.0 864.2C1017.3 865.1 1021.2 860.9 1022.5 861.8C1023.8 862.6 1023.8 868.3 1025.0 870.5C1026.2 872.7 1029.8 875.8 1031.2 878.0C1032.8 880.2 1034.6 885.4 1036.2 886.8C1037.9 888.1 1042.6 885.8 1043.8 888.0C1044.9 890.2 1044.7 899.3 1045.0 903.0C1045.3 906.7 1045.4 912.5 1046.2 915.5C1047.1 918.5 1050.1 922.8 1051.2 925.5C1052.4 928.2 1054.5 934.2 1055.0 935.5M1347.5 630.5C1345.2 630.7 1333.7 632.2 1330.0 631.8C1326.3 631.2 1322.7 626.9 1320.0 626.8C1317.3 626.6 1312.2 629.0 1310.0 630.5C1307.8 632.0 1305.8 637.0 1303.8 638.0C1301.8 639.0 1297.5 638.5 1295.0 638.0C1292.5 637.5 1287.7 633.6 1285.0 634.2C1282.3 634.9 1276.7 640.8 1275.0 643.0C1273.3 645.2 1274.5 648.2 1272.5 650.5C1270.5 652.8 1263.0 657.8 1260.0 660.5C1257.0 663.2 1253.0 668.2 1250.0 670.5C1247.0 672.8 1240.2 676.5 1237.5 678.0C1234.8 679.5 1231.5 679.8 1230.0 681.8C1228.5 683.8 1226.6 690.5 1226.2 693.0C1225.9 695.5 1227.7 698.2 1227.5 700.5C1227.3 702.8 1225.0 707.5 1225.0 710.5C1225.0 713.5 1226.7 719.7 1227.5 723.0C1228.3 726.3 1230.9 732.2 1231.2 735.5C1231.6 738.8 1229.8 745.2 1230.0 748.0C1230.2 750.8 1230.5 755.1 1232.5 756.8C1234.5 758.4 1241.7 759.0 1245.0 760.5C1248.3 762.0 1254.2 766.8 1257.5 768.0C1260.8 769.2 1268.0 768.4 1270.0 769.2C1272.0 770.1 1270.2 773.7 1272.5 774.2C1274.8 774.8 1284.2 773.2 1287.5 773.5C1290.8 773.8 1295.2 775.6 1297.5 776.8C1299.8 777.9 1303.3 781.2 1305.0 781.8C1306.7 782.2 1308.3 781.3 1310.0 780.5C1311.7 779.7 1315.8 777.3 1317.5 775.5C1319.2 773.7 1320.5 768.2 1322.5 766.8C1324.5 765.2 1329.2 764.8 1332.5 764.2C1335.8 763.8 1345.5 763.2 1347.5 763.0M1322.5 555.5C1322.8 557.2 1324.0 565.0 1325.0 568.0C1326.0 571.0 1328.5 575.7 1330.0 578.0C1331.5 580.3 1335.1 583.2 1336.2 585.5C1337.4 587.8 1338.1 592.5 1338.8 595.5C1339.4 598.5 1340.9 606.3 1341.2 608.0M1271.2 813.0C1271.5 812.5 1273.3 812.2 1273.8 812.5C1274.2 812.8 1274.7 815.0 1274.5 815.5C1274.3 816.0 1272.4 816.3 1272.0 816.0C1271.6 815.7 1271.0 813.5 1271.2 813.0ZM1315.0 779.2C1315.3 778.2 1319.0 775.3 1320.0 775.5C1321.0 775.7 1322.8 779.5 1322.5 780.5C1322.2 781.5 1318.5 783.2 1317.5 783.0C1316.5 782.8 1314.7 780.2 1315.0 779.2Z" fill="none" stroke="#000" stroke-width="2.0" stroke-linejoin="round" stroke-linecap="round"/></g>
<g clip-path="url(#cc1)"><path d="M362.5 933.0C362.8 933.7 364.4 936.2 365.0 938.2C365.6 940.3 365.2 947.6 366.8 948.2C368.3 948.9 375.0 945.0 376.8 943.2C378.5 941.5 379.6 936.1 380.0 935.0M380.0 935.0C380.7 935.9 384.6 939.5 385.0 941.8C385.4 944.0 383.8 949.6 383.2 951.8C382.8 953.9 382.4 955.9 381.2 957.5C380.1 959.1 377.2 963.1 375.0 963.8C372.8 964.4 367.7 961.7 365.0 962.5C362.3 963.3 356.0 967.3 355.0 970.0C354.0 972.7 357.5 979.2 357.5 982.5C357.5 985.8 355.2 991.3 355.0 995.0C354.8 998.7 355.9 1006.7 356.2 1010.0C356.6 1013.3 357.8 1017.5 357.5 1020.0C357.2 1022.5 355.8 1027.6 353.8 1028.8C351.8 1029.9 344.5 1027.9 342.5 1028.8C340.5 1029.6 341.1 1033.5 338.8 1035.0C336.4 1036.5 327.3 1038.3 325.0 1040.0C322.7 1041.7 321.2 1045.2 321.2 1047.5C321.2 1049.8 324.2 1054.5 325.0 1057.5C325.8 1060.5 326.2 1066.7 327.5 1070.0C328.8 1073.3 332.7 1079.2 335.0 1082.5C337.3 1085.8 342.3 1091.7 345.0 1095.0C347.7 1098.3 352.3 1104.2 355.0 1107.5C357.7 1110.8 362.0 1117.0 365.0 1120.0C368.0 1123.0 374.2 1127.5 377.5 1130.0C380.8 1132.5 387.3 1136.1 390.0 1138.8C392.7 1141.4 395.8 1147.5 397.5 1150.0C399.2 1152.5 401.2 1154.8 402.5 1157.5C403.8 1160.2 406.3 1166.3 407.0 1170.0C407.7 1173.7 407.1 1181.0 407.5 1185.0C407.9 1189.0 409.7 1196.2 410.0 1200.0C410.3 1203.8 410.5 1211.6 409.5 1213.8C408.5 1215.9 403.6 1214.4 402.5 1216.2C401.4 1218.1 400.6 1224.8 401.2 1227.5C401.9 1230.2 406.3 1233.4 407.5 1236.2C408.7 1239.1 408.7 1245.6 410.0 1248.8C411.3 1251.9 415.2 1257.5 417.5 1260.0C419.8 1262.5 425.8 1264.8 427.5 1267.5C429.2 1270.2 429.3 1276.3 430.0 1280.0C430.7 1283.7 431.8 1291.7 432.5 1295.0C433.2 1298.3 433.8 1303.3 435.0 1305.0C436.2 1306.7 440.8 1306.0 441.2 1307.5C441.8 1309.0 439.1 1315.1 438.8 1316.2M261.2 942.5C261.9 944.2 264.4 953.7 266.2 955.0C268.1 956.3 273.7 954.2 275.0 952.5C276.3 950.8 276.1 943.8 276.2 942.5M275.0 955.0C274.7 956.3 273.2 963.0 272.5 965.0C271.8 967.0 269.5 968.3 270.0 970.0C270.5 971.7 274.6 975.7 276.2 977.5C277.9 979.3 281.5 981.4 282.5 983.8C283.5 986.1 283.2 991.8 283.8 995.0C284.2 998.2 285.6 1003.8 286.2 1007.5C286.9 1011.2 289.1 1019.5 288.8 1022.5C288.4 1025.5 283.9 1027.7 283.8 1030.0C283.6 1032.3 286.5 1038.3 287.5 1040.0C288.5 1041.7 290.9 1040.2 291.2 1042.5C291.6 1044.8 290.2 1054.2 290.0 1057.5C289.8 1060.8 289.3 1064.5 290.0 1067.5C290.7 1070.5 293.5 1077.7 295.0 1080.0C296.5 1082.3 300.6 1083.3 301.2 1085.0C301.9 1086.7 299.5 1089.8 300.0 1092.5C300.5 1095.2 303.8 1101.7 305.0 1105.0C306.2 1108.3 307.2 1114.2 308.8 1117.5C310.2 1120.8 315.6 1126.7 316.2 1130.0C316.9 1133.3 313.8 1139.2 313.8 1142.5C313.8 1145.8 316.1 1152.0 316.2 1155.0C316.4 1158.0 314.5 1162.7 315.0 1165.0C315.5 1167.3 319.2 1169.8 320.0 1172.5C320.8 1175.2 320.6 1186.0 321.2 1185.0C321.9 1184.0 324.5 1170.3 325.0 1165.0C325.5 1159.7 325.2 1148.3 325.0 1145.0C324.8 1141.7 323.2 1139.0 323.8 1140.0C324.2 1141.0 327.9 1148.8 328.8 1152.5C329.6 1156.2 328.8 1163.8 330.0 1167.5C331.2 1171.2 335.5 1176.8 337.5 1180.0C339.5 1183.2 343.7 1188.6 345.0 1191.2C346.3 1193.9 346.2 1197.2 347.5 1200.0C348.8 1202.8 353.5 1209.5 355.0 1212.5C356.5 1215.5 358.1 1219.5 358.8 1222.5C359.4 1225.5 359.3 1231.7 360.0 1235.0C360.7 1238.3 363.1 1244.8 363.8 1247.5C364.4 1250.2 365.2 1252.3 365.0 1255.0C364.8 1257.7 362.2 1264.5 362.5 1267.5C362.8 1270.5 367.8 1275.3 367.5 1277.5C367.2 1279.7 360.3 1282.1 360.0 1283.8C359.7 1285.4 365.3 1288.5 365.0 1290.0C364.7 1291.5 358.7 1293.7 357.5 1295.0C356.3 1296.3 355.2 1299.7 356.2 1300.0C357.2 1300.3 363.3 1297.2 365.0 1297.5C366.7 1297.8 369.1 1301.2 368.8 1302.5C368.4 1303.8 363.0 1305.7 362.5 1307.5C362.0 1309.3 364.7 1315.1 365.0 1316.2M297.5 1077.5C297.3 1076.3 301.0 1074.8 302.5 1076.2C304.0 1077.8 308.6 1087.6 308.8 1088.8C308.9 1089.9 305.2 1086.5 303.8 1085.0C302.2 1083.5 297.7 1078.7 297.5 1077.5ZM276.8 1007.5C277.0 1006.7 278.7 1007.6 279.0 1008.8C279.3 1009.9 279.3 1015.4 279.0 1016.2C278.7 1017.1 277.3 1016.2 277.0 1015.0C276.7 1013.8 276.5 1008.3 276.8 1007.5ZM300.0 1158.0C300.3 1157.1 302.0 1157.1 302.2 1158.0C302.5 1158.9 302.1 1164.1 301.8 1165.0C301.4 1165.9 300.2 1165.4 300.0 1164.5C299.8 1163.6 299.7 1158.9 300.0 1158.0ZM328.8 1213.8C329.4 1214.4 331.5 1221.0 332.5 1222.5C333.5 1224.0 336.1 1222.8 336.2 1225.0C336.4 1227.2 334.6 1238.4 333.8 1238.8C332.9 1239.1 330.8 1230.3 330.0 1227.5C329.2 1224.7 327.7 1219.3 327.5 1217.5C327.3 1215.7 328.1 1213.1 328.8 1213.8ZM293.0 1248.8C293.4 1248.2 295.6 1248.2 296.0 1248.8C296.4 1249.2 296.4 1252.0 296.0 1252.5C295.6 1253.0 293.4 1253.0 293.0 1252.5C292.6 1252.0 292.6 1249.2 293.0 1248.8ZM291.5 1267.5C292.1 1267.0 295.4 1267.0 296.0 1267.5C296.6 1268.0 296.6 1270.8 296.0 1271.2C295.4 1271.8 292.1 1271.8 291.5 1271.2C290.9 1270.8 290.9 1268.0 291.5 1267.5ZM335.0 1260.0C336.3 1259.3 341.2 1260.8 342.5 1262.5C343.8 1264.2 343.8 1270.8 345.0 1272.5C346.2 1274.2 350.6 1273.7 351.2 1275.0C351.9 1276.3 351.0 1281.8 350.0 1282.5C349.0 1283.2 345.4 1279.2 343.8 1280.0C342.1 1280.8 338.7 1289.1 337.5 1288.8C336.3 1288.4 335.7 1280.3 335.0 1277.5C334.3 1274.7 332.5 1269.8 332.5 1267.5C332.5 1265.2 333.7 1260.7 335.0 1260.0ZM327.5 1269.2C328.1 1268.5 331.4 1268.5 332.0 1269.2C332.6 1270.0 332.6 1274.2 332.0 1275.0C331.4 1275.8 328.1 1275.8 327.5 1275.0C326.9 1274.2 326.9 1270.0 327.5 1269.2ZM302.0 1285.0C302.8 1284.1 306.9 1283.3 308.8 1283.0C310.6 1282.7 315.4 1281.7 316.2 1282.5C317.1 1283.3 316.2 1287.4 315.0 1288.8C313.8 1290.1 309.2 1292.3 307.5 1292.5C305.8 1292.7 303.2 1291.0 302.5 1290.0C301.8 1289.0 301.2 1285.9 302.0 1285.0ZM311.2 1295.0C311.8 1293.8 316.3 1292.4 317.5 1293.8C318.7 1295.1 320.5 1303.8 320.0 1305.0C319.5 1306.2 314.9 1303.8 313.8 1302.5C312.6 1301.2 310.8 1296.2 311.2 1295.0ZM345.0 1308.8C345.5 1308.4 349.8 1311.7 350.0 1312.5C350.2 1313.3 346.9 1315.5 346.2 1315.0C345.6 1314.5 344.5 1309.1 345.0 1308.8ZM473.8 1316.2C474.6 1314.8 479.0 1307.5 480.0 1305.0C481.0 1302.5 481.6 1299.5 481.2 1297.5C480.9 1295.5 478.0 1293.7 477.5 1290.0C477.0 1286.3 477.7 1274.3 477.5 1270.0C477.3 1265.7 475.9 1260.8 476.2 1257.5C476.6 1254.2 478.8 1248.0 480.0 1245.0C481.2 1242.0 483.8 1237.3 485.0 1235.0C486.2 1232.7 488.6 1229.8 488.8 1227.5C488.9 1225.2 487.6 1219.8 486.2 1217.5C484.9 1215.2 480.1 1211.7 478.8 1210.0C477.4 1208.3 475.9 1206.3 476.2 1205.0C476.6 1203.7 479.4 1201.3 481.2 1200.0C483.1 1198.7 487.5 1196.2 490.0 1195.0C492.5 1193.8 498.0 1192.2 500.0 1191.2C502.0 1190.2 503.7 1187.7 505.0 1187.5C506.3 1187.3 507.8 1189.9 510.0 1190.0C512.2 1190.1 518.6 1188.5 521.2 1188.0C523.9 1187.5 528.7 1187.3 530.0 1186.2C531.3 1185.2 530.9 1180.0 531.2 1180.0C531.6 1180.0 531.0 1185.1 532.5 1186.2C534.0 1187.4 539.5 1188.1 542.5 1188.8C545.5 1189.4 551.8 1191.1 555.0 1191.2C558.2 1191.4 564.9 1188.8 566.2 1190.0C567.6 1191.2 565.8 1197.7 565.0 1200.0C564.2 1202.3 560.3 1205.5 560.0 1207.5C559.7 1209.5 562.8 1213.0 562.5 1215.0C562.2 1217.0 557.7 1220.7 557.5 1222.5C557.3 1224.3 561.4 1226.8 561.2 1228.8C561.1 1230.8 556.4 1235.3 556.2 1237.5C556.1 1239.7 559.7 1243.0 560.0 1245.0C560.3 1247.0 559.6 1251.0 558.8 1252.5C557.9 1254.0 554.2 1254.9 553.8 1256.2C553.2 1257.6 553.8 1261.3 555.0 1262.5C556.2 1263.7 561.2 1265.2 562.5 1265.0C563.8 1264.8 563.3 1262.1 565.0 1261.2C566.7 1260.4 571.7 1258.8 575.0 1258.8C578.3 1258.8 586.3 1260.2 590.0 1261.2C593.7 1262.2 599.2 1266.1 602.5 1266.2C605.8 1266.4 611.7 1263.7 615.0 1262.5C618.3 1261.3 624.5 1257.8 627.5 1257.5C630.5 1257.2 635.2 1258.5 637.5 1260.0C639.8 1261.5 642.7 1266.8 645.0 1268.8C647.3 1270.8 652.0 1273.0 655.0 1275.0C658.0 1277.0 665.8 1282.6 667.5 1283.8" fill="none" stroke="#000" stroke-width="2.0" stroke-linejoin="round" stroke-linecap="round"/></g>
<g clip-path="url(#cc2)"><path d="M587.5 1260.5C589.5 1261.3 598.8 1266.0 602.5 1266.2C606.2 1266.5 611.7 1263.7 615.0 1262.5C618.3 1261.3 624.5 1257.8 627.5 1257.5C630.5 1257.2 635.2 1258.5 637.5 1260.0C639.8 1261.5 642.7 1266.8 645.0 1268.8C647.3 1270.8 652.3 1273.2 655.0 1275.0C657.7 1276.8 662.2 1280.2 665.0 1282.5C667.8 1284.8 674.4 1290.2 676.2 1292.5C678.1 1294.8 676.9 1298.7 678.8 1300.0C680.6 1301.3 687.2 1301.7 690.0 1302.5C692.8 1303.3 698.0 1306.6 700.0 1306.2C702.0 1305.9 703.7 1300.0 705.0 1300.0C706.3 1300.0 708.3 1304.1 710.0 1306.2C711.7 1308.4 716.5 1314.9 717.5 1316.2M675.0 1305.0C675.3 1303.8 679.8 1304.9 681.2 1306.2C682.8 1307.6 686.6 1313.8 686.2 1315.0C685.9 1316.2 680.2 1316.3 678.8 1315.0C677.2 1313.7 674.7 1306.2 675.0 1305.0ZM646.2 1268.8C646.4 1268.1 649.7 1267.0 650.0 1267.5C650.3 1268.0 649.2 1272.3 648.8 1272.5C648.2 1272.7 646.1 1269.4 646.2 1268.8ZM655.5 1270.0C656.0 1269.2 660.3 1269.2 661.2 1270.0C662.2 1270.8 663.0 1275.4 662.5 1276.2C662.0 1277.1 658.4 1277.1 657.5 1276.2C656.6 1275.4 655.0 1270.8 655.5 1270.0ZM672.5 1281.2C672.5 1279.9 676.2 1280.4 677.5 1281.2C678.8 1282.1 682.5 1286.2 682.5 1287.5C682.5 1288.8 678.8 1292.1 677.5 1291.2C676.2 1290.4 672.5 1282.6 672.5 1281.2ZM713.8 1316.2C713.9 1313.4 714.3 1299.5 715.0 1295.0C715.7 1290.5 719.1 1285.5 718.8 1282.5C718.4 1279.5 714.7 1275.0 712.5 1272.5C710.3 1270.0 704.8 1265.9 702.5 1263.8C700.2 1261.6 695.8 1258.8 695.0 1256.2C694.2 1253.8 696.4 1247.8 696.2 1245.0C696.1 1242.2 694.6 1237.7 693.8 1235.0C692.9 1232.3 691.3 1228.0 690.0 1225.0C688.7 1222.0 685.0 1215.8 683.8 1212.5C682.5 1209.2 681.0 1203.7 680.5 1200.0C680.0 1196.3 678.7 1187.3 680.0 1185.0C681.3 1182.7 687.3 1183.0 690.0 1182.5C692.7 1182.0 698.2 1181.9 700.0 1181.2C701.8 1180.6 703.8 1178.5 703.8 1177.5C703.8 1176.5 699.2 1174.9 700.0 1173.8C700.8 1172.6 708.0 1170.6 710.0 1168.8C712.0 1166.9 713.7 1162.2 715.0 1160.0C716.3 1157.8 718.3 1154.5 720.0 1152.5C721.7 1150.5 726.0 1147.7 727.5 1145.0C729.0 1142.3 729.9 1135.0 731.2 1132.5C732.6 1130.0 735.0 1128.1 737.5 1126.2C740.0 1124.4 746.3 1120.2 750.0 1118.8C753.7 1117.2 761.3 1115.8 765.0 1115.0C768.7 1114.2 774.5 1113.3 777.5 1112.5C780.5 1111.7 785.2 1109.4 787.5 1108.8C789.8 1108.1 793.7 1107.2 795.0 1107.5C796.3 1107.8 795.8 1110.4 797.5 1111.2C799.2 1112.1 804.8 1113.1 807.5 1113.8C810.2 1114.4 814.8 1116.1 817.5 1116.2C820.2 1116.4 824.5 1115.5 827.5 1115.0C830.5 1114.5 837.0 1113.0 840.0 1112.5C843.0 1112.0 846.7 1111.1 850.0 1111.2C853.3 1111.4 861.3 1113.9 865.0 1113.8C868.7 1113.6 874.8 1110.7 877.5 1110.0C880.2 1109.3 883.0 1109.1 885.0 1108.8C887.0 1108.4 890.2 1107.3 892.5 1107.5C894.8 1107.7 900.2 1109.3 902.5 1110.0C904.8 1110.7 908.8 1111.2 910.0 1112.5C911.2 1113.8 910.6 1118.2 911.2 1120.0C911.9 1121.8 913.7 1125.8 915.0 1126.2C916.3 1126.8 919.8 1125.1 921.2 1123.8C922.8 1122.4 925.6 1117.2 926.2 1116.2M907.5 942.5C908.5 943.5 913.8 947.8 915.0 950.0C916.2 952.2 914.9 956.8 916.2 958.8C917.6 960.8 922.2 963.7 925.0 965.0C927.8 966.3 934.3 967.9 937.5 968.8C940.7 969.6 947.9 970.1 948.8 971.2C949.6 972.4 943.9 975.3 943.8 977.5C943.6 979.7 946.3 985.5 947.5 987.5C948.7 989.5 950.5 991.5 952.5 992.5C954.5 993.5 960.3 993.7 962.5 995.0C964.7 996.3 968.2 999.8 968.8 1002.5C969.2 1005.2 967.1 1012.3 966.2 1015.0C965.4 1017.7 964.2 1020.8 962.5 1022.5C960.8 1024.2 953.9 1026.3 953.8 1027.5C953.6 1028.7 960.8 1029.9 961.2 1031.2C961.8 1032.6 958.8 1035.7 957.5 1037.5C956.2 1039.3 951.9 1043.2 951.2 1045.0C950.6 1046.8 951.5 1049.9 952.5 1051.2C953.5 1052.6 957.2 1053.8 958.8 1055.0C960.2 1056.2 963.9 1058.7 963.8 1060.0C963.6 1061.3 958.7 1062.7 957.5 1065.0C956.3 1067.3 955.2 1073.8 955.0 1077.5C954.8 1081.2 956.6 1089.2 956.2 1092.5C955.9 1095.8 954.3 1100.2 952.5 1102.5C950.7 1104.8 945.2 1108.5 942.5 1110.0C939.8 1111.5 934.7 1112.9 932.5 1113.8C930.3 1114.6 927.1 1115.9 926.2 1116.2M926.2 1116.2C926.9 1117.4 929.8 1122.8 931.2 1125.0C932.8 1127.2 935.7 1131.0 937.5 1132.5C939.3 1134.0 942.3 1136.4 945.0 1136.2C947.7 1136.1 954.8 1131.4 957.5 1131.2C960.2 1131.1 962.5 1134.2 965.0 1135.0C967.5 1135.8 973.9 1136.2 976.2 1137.5C978.6 1138.8 980.7 1143.2 982.5 1145.0C984.3 1146.8 987.7 1150.2 990.0 1151.2C992.3 1152.2 997.8 1152.5 1000.0 1152.5C1002.2 1152.5 1005.2 1152.2 1006.2 1151.2C1007.2 1150.2 1006.7 1146.5 1007.5 1145.0C1008.3 1143.5 1012.5 1141.7 1012.5 1140.0C1012.5 1138.3 1008.8 1134.5 1007.5 1132.5C1006.2 1130.5 1003.5 1126.7 1002.5 1125.0C1001.5 1123.3 1001.0 1121.3 1000.0 1120.0C999.0 1118.7 994.3 1115.8 995.0 1115.0C995.7 1114.2 1002.3 1114.1 1005.0 1113.8C1007.7 1113.4 1013.2 1113.8 1015.0 1112.5C1016.8 1111.2 1016.8 1104.6 1018.8 1103.8C1020.8 1102.9 1027.5 1106.4 1030.0 1106.2C1032.5 1106.1 1035.8 1103.8 1037.5 1102.5C1039.2 1101.2 1041.8 1097.1 1042.5 1096.2" fill="none" stroke="#000" stroke-width="2.0" stroke-linejoin="round" stroke-linecap="round"/></g>
<g clip-path="url(#cc3)"><path d="M907.5 942.5C908.5 943.5 913.8 947.8 915.0 950.0C916.2 952.2 914.9 956.8 916.2 958.8C917.6 960.8 922.2 963.7 925.0 965.0C927.8 966.3 934.3 967.9 937.5 968.8C940.7 969.6 947.9 970.1 948.8 971.2C949.6 972.4 943.9 975.3 943.8 977.5C943.6 979.7 946.3 985.5 947.5 987.5C948.7 989.5 950.5 991.5 952.5 992.5C954.5 993.5 960.3 993.7 962.5 995.0C964.7 996.3 968.2 999.8 968.8 1002.5C969.2 1005.2 967.1 1012.3 966.2 1015.0C965.4 1017.7 964.2 1020.8 962.5 1022.5C960.8 1024.2 953.9 1026.3 953.8 1027.5C953.6 1028.7 960.8 1029.9 961.2 1031.2C961.8 1032.6 958.8 1035.7 957.5 1037.5C956.2 1039.3 951.9 1043.2 951.2 1045.0C950.6 1046.8 951.5 1049.9 952.5 1051.2C953.5 1052.6 957.2 1053.8 958.8 1055.0C960.2 1056.2 963.9 1058.7 963.8 1060.0C963.6 1061.3 958.7 1062.7 957.5 1065.0C956.3 1067.3 955.2 1073.8 955.0 1077.5C954.8 1081.2 956.6 1089.2 956.2 1092.5C955.9 1095.8 954.3 1100.2 952.5 1102.5C950.7 1104.8 945.2 1108.5 942.5 1110.0C939.8 1111.5 934.7 1112.9 932.5 1113.8C930.3 1114.6 927.1 1115.9 926.2 1116.2M897.5 1111.2C899.2 1111.4 908.2 1111.3 910.0 1112.5C911.8 1113.7 910.6 1118.2 911.2 1120.0C911.9 1121.8 913.7 1125.8 915.0 1126.2C916.3 1126.8 919.8 1125.1 921.2 1123.8C922.8 1122.4 925.6 1117.2 926.2 1116.2M926.2 1116.2C926.9 1117.4 929.8 1122.8 931.2 1125.0C932.8 1127.2 935.7 1131.0 937.5 1132.5C939.3 1134.0 942.3 1136.4 945.0 1136.2C947.7 1136.1 954.8 1131.4 957.5 1131.2C960.2 1131.1 962.5 1134.2 965.0 1135.0C967.5 1135.8 973.9 1136.2 976.2 1137.5C978.6 1138.8 980.7 1143.2 982.5 1145.0C984.3 1146.8 987.7 1150.2 990.0 1151.2C992.3 1152.2 997.8 1152.5 1000.0 1152.5C1002.2 1152.5 1005.2 1152.2 1006.2 1151.2C1007.2 1150.2 1006.7 1146.5 1007.5 1145.0C1008.3 1143.5 1012.5 1141.7 1012.5 1140.0C1012.5 1138.3 1008.8 1134.5 1007.5 1132.5C1006.2 1130.5 1003.5 1126.7 1002.5 1125.0C1001.5 1123.3 1001.0 1121.3 1000.0 1120.0C999.0 1118.7 994.3 1115.8 995.0 1115.0C995.7 1114.2 1002.3 1114.1 1005.0 1113.8C1007.7 1113.4 1013.2 1113.8 1015.0 1112.5C1016.8 1111.2 1016.8 1104.6 1018.8 1103.8C1020.8 1102.9 1027.5 1106.4 1030.0 1106.2C1032.5 1106.1 1035.7 1104.0 1037.5 1102.5C1039.3 1101.0 1042.1 1095.0 1043.8 1095.0C1045.4 1095.0 1047.8 1100.3 1050.0 1102.5C1052.2 1104.7 1057.3 1109.1 1060.0 1111.2C1062.7 1113.4 1067.3 1118.1 1070.0 1118.8C1072.7 1119.4 1077.5 1117.6 1080.0 1116.2C1082.5 1114.9 1086.4 1109.9 1088.8 1108.8C1091.1 1107.6 1095.3 1108.7 1097.5 1107.5C1099.7 1106.3 1103.0 1101.8 1105.0 1100.0C1107.0 1098.2 1110.5 1094.1 1112.5 1093.8C1114.5 1093.4 1118.0 1098.2 1120.0 1097.5C1122.0 1096.8 1126.2 1090.4 1127.5 1088.8C1128.8 1087.1 1129.7 1085.5 1130.0 1085.0M1082.5 942.5C1084.0 943.5 1091.4 947.8 1093.8 950.0C1096.1 952.2 1097.5 956.4 1100.0 958.8C1102.5 961.1 1109.3 966.3 1112.5 967.5C1115.7 968.7 1122.4 966.2 1123.8 967.5C1125.1 968.8 1124.3 975.5 1122.5 977.5C1120.7 979.5 1113.2 980.7 1110.0 982.5C1106.8 984.3 1099.8 989.1 1098.8 991.2C1097.8 993.4 1100.7 996.4 1102.5 998.8C1104.3 1001.1 1110.2 1006.4 1112.5 1008.8C1114.8 1011.1 1118.0 1015.1 1120.0 1016.2C1122.0 1017.4 1125.7 1016.3 1127.5 1017.5C1129.3 1018.7 1131.9 1023.0 1133.8 1025.0C1135.6 1027.0 1140.2 1030.5 1141.2 1032.5C1142.3 1034.5 1142.7 1038.0 1142.0 1040.0C1141.3 1042.0 1138.5 1045.3 1136.2 1047.5C1134.0 1049.7 1126.7 1054.2 1125.0 1056.2C1123.3 1058.2 1122.8 1061.0 1123.8 1062.5C1124.8 1064.0 1132.0 1065.5 1132.5 1067.5C1133.0 1069.5 1127.8 1075.2 1127.5 1077.5C1127.2 1079.8 1129.7 1084.0 1130.0 1085.0M1130.0 1085.0C1129.3 1087.0 1126.7 1096.8 1125.0 1100.0C1123.3 1103.2 1119.0 1106.1 1117.5 1108.8C1116.0 1111.4 1114.4 1116.8 1113.8 1120.0C1113.1 1123.2 1112.3 1129.2 1112.5 1132.5C1112.7 1135.8 1113.7 1143.2 1115.0 1145.0C1116.3 1146.8 1121.5 1144.6 1122.5 1146.2C1123.5 1147.9 1121.8 1154.7 1122.5 1157.5C1123.2 1160.3 1126.0 1164.7 1127.5 1167.5C1129.0 1170.3 1132.4 1175.8 1133.8 1178.8C1135.1 1181.8 1137.2 1186.8 1137.5 1190.0C1137.8 1193.2 1137.2 1198.8 1136.2 1202.5C1135.2 1206.2 1131.5 1213.8 1130.0 1217.5C1128.5 1221.2 1125.5 1227.0 1125.0 1230.0C1124.5 1233.0 1125.6 1237.0 1126.2 1240.0C1126.9 1243.0 1129.0 1248.8 1130.0 1252.5C1131.0 1256.2 1133.6 1263.2 1133.8 1267.5C1133.9 1271.8 1133.1 1281.2 1131.2 1285.0C1129.4 1288.8 1122.2 1295.4 1120.0 1296.2C1117.8 1297.1 1117.0 1291.9 1115.0 1291.2C1113.0 1290.6 1108.0 1290.4 1105.0 1291.2C1102.0 1292.1 1095.8 1295.0 1092.5 1297.5C1089.2 1300.0 1083.7 1307.8 1080.0 1310.0C1076.3 1312.2 1067.7 1312.9 1065.0 1313.8C1062.3 1314.6 1060.7 1315.9 1060.0 1316.2M1175.0 942.5C1176.3 944.2 1182.3 952.7 1185.0 955.0C1187.7 957.3 1194.0 958.0 1195.0 960.0C1196.0 962.0 1191.3 967.0 1192.5 970.0C1193.7 973.0 1201.1 979.2 1203.8 982.5C1206.4 985.8 1210.0 991.3 1212.5 995.0C1215.0 998.7 1219.8 1006.7 1222.5 1010.0C1225.2 1013.3 1230.0 1018.0 1232.5 1020.0C1235.0 1022.0 1238.6 1022.5 1241.2 1025.0C1243.9 1027.5 1251.5 1035.8 1252.5 1038.8C1253.5 1041.8 1248.8 1044.7 1248.8 1047.5C1248.8 1050.3 1251.0 1056.3 1252.5 1060.0C1254.0 1063.7 1258.3 1071.3 1260.0 1075.0C1261.7 1078.7 1264.3 1084.5 1265.0 1087.5C1265.7 1090.5 1264.3 1094.5 1265.0 1097.5C1265.7 1100.5 1268.7 1106.3 1270.0 1110.0C1271.3 1113.7 1273.8 1121.0 1275.0 1125.0C1276.2 1129.0 1277.9 1136.0 1278.8 1140.0C1279.6 1144.0 1281.1 1151.0 1281.2 1155.0C1281.4 1159.0 1279.7 1166.3 1280.0 1170.0C1280.3 1173.7 1283.4 1178.8 1283.8 1182.5C1284.1 1186.2 1282.3 1193.5 1282.5 1197.5C1282.7 1201.5 1284.0 1208.8 1285.0 1212.5C1286.0 1216.2 1288.3 1221.2 1290.0 1225.0C1291.7 1228.8 1297.5 1237.9 1297.5 1241.2C1297.5 1244.6 1290.5 1247.2 1290.0 1250.0C1289.5 1252.8 1294.4 1260.7 1293.8 1262.5C1293.1 1264.3 1287.2 1262.8 1285.0 1263.8C1282.8 1264.8 1277.8 1267.8 1277.5 1270.0C1277.2 1272.2 1282.8 1278.3 1282.5 1280.0C1282.2 1281.7 1275.3 1280.8 1275.0 1282.5C1274.7 1284.2 1278.5 1290.2 1280.0 1292.5C1281.5 1294.8 1286.6 1298.3 1286.2 1300.0C1285.9 1301.7 1279.0 1302.8 1277.5 1305.0C1276.0 1307.2 1275.3 1314.8 1275.0 1316.2M1192.5 958.8C1193.3 958.2 1200.9 960.4 1201.2 961.2C1201.6 962.1 1196.2 965.3 1195.0 965.0C1193.8 964.7 1191.7 959.2 1192.5 958.8ZM1225.0 1016.2C1225.0 1015.6 1229.3 1014.5 1230.0 1015.0C1230.7 1015.5 1230.7 1019.8 1230.0 1020.0C1229.3 1020.2 1225.0 1016.9 1225.0 1016.2ZM1238.8 1022.5C1239.1 1021.7 1241.8 1021.7 1242.5 1022.5C1243.2 1023.3 1244.1 1027.9 1243.8 1028.8C1243.4 1029.6 1240.7 1029.6 1240.0 1028.8C1239.3 1027.9 1238.4 1023.3 1238.8 1022.5ZM1287.5 1257.5C1288.5 1256.7 1296.5 1259.6 1297.5 1261.2C1298.5 1262.9 1296.0 1269.2 1295.0 1270.0C1294.0 1270.8 1291.0 1269.2 1290.0 1267.5C1289.0 1265.8 1286.5 1258.3 1287.5 1257.5Z" fill="none" stroke="#000" stroke-width="2.0" stroke-linejoin="round" stroke-linecap="round"/></g>
<g clip-path="url(#cz1)"><path d="M280.0 788.3C280.4 789.2 282.4 793.2 283.3 795.0C284.2 796.8 287.0 800.1 286.7 801.7C286.3 803.2 281.7 804.9 280.8 806.7C279.9 808.4 279.7 813.4 280.0 815.0C280.3 816.6 282.6 817.0 283.3 818.3C284.1 819.7 284.3 823.0 285.8 825.0C287.4 827.0 292.4 831.1 295.0 833.3C297.6 835.6 303.0 839.7 305.0 841.7C307.0 843.7 308.6 846.7 310.0 848.3C311.4 850.0 315.2 852.8 315.8 854.2C316.5 855.5 314.0 856.9 315.0 858.3C316.0 859.8 321.1 862.8 323.3 865.0C325.6 867.2 330.3 872.9 331.7 875.0C333.0 877.1 332.0 879.8 333.3 880.8C334.7 881.8 339.9 881.5 341.7 882.5C343.4 883.5 345.3 886.6 346.7 888.3C348.0 890.1 351.3 894.3 351.7 895.8C352.0 897.4 349.1 899.1 349.2 900.0C349.3 900.9 352.8 901.4 352.5 902.5C352.2 903.6 346.8 906.4 346.7 908.3C346.6 910.2 350.3 914.4 351.7 916.7C353.0 918.9 355.3 922.8 356.7 925.0C358.0 927.2 360.8 931.2 361.7 933.3C362.6 935.4 362.7 938.7 363.3 940.8C364.0 942.9 365.3 948.9 366.7 949.2C368.0 949.4 371.9 944.2 373.3 942.5C374.8 940.8 376.7 938.0 377.5 936.7C378.3 935.3 378.2 932.2 379.2 932.5C380.2 932.8 384.4 937.3 385.0 939.2C385.6 941.1 384.2 944.7 383.3 946.7C382.4 948.7 379.1 952.3 378.3 954.2C377.6 956.1 378.8 959.8 377.5 960.8C376.2 961.8 370.4 961.1 368.3 961.7C366.2 962.2 363.4 964.0 361.7 965.0C359.9 966.0 355.6 968.1 355.0 969.2C354.4 970.3 357.3 971.0 357.5 973.3C357.7 975.7 357.0 983.3 356.7 986.7C356.3 990.0 355.2 994.6 355.0 998.3C354.8 1002.1 354.8 1011.7 355.0 1015.0C355.2 1018.3 356.7 1021.2 356.7 1023.3C356.7 1025.4 356.1 1030.4 355.0 1030.8C353.9 1031.3 350.1 1026.8 348.3 1026.7C346.6 1026.6 342.8 1028.8 341.7 1030.0C340.6 1031.2 341.3 1035.2 340.0 1035.8C338.7 1036.5 333.9 1034.2 331.7 1035.0C329.4 1035.8 324.4 1040.8 323.3 1041.7M223.3 856.7C223.8 857.6 225.9 861.3 226.7 863.3C227.4 865.3 228.1 869.7 229.2 871.7C230.3 873.7 233.8 876.6 235.0 878.3C236.2 880.1 238.0 883.0 238.3 885.0C238.7 887.0 237.1 891.3 237.5 893.3C237.9 895.3 241.0 898.2 241.7 900.0C242.3 901.8 241.5 904.7 242.5 906.7C243.5 908.7 248.1 913.0 249.2 915.0C250.3 917.0 250.3 919.7 250.8 921.7C251.4 923.7 251.7 929.2 253.3 930.0C255.0 930.8 260.4 927.9 263.3 927.5C266.2 927.1 272.3 927.2 275.0 926.7C277.7 926.1 282.9 923.1 283.3 923.3C283.8 923.6 279.6 926.6 278.3 928.3C277.1 930.1 274.4 934.2 274.2 936.7C273.9 939.1 276.7 944.0 276.7 946.7C276.7 949.3 275.1 954.0 274.2 956.7C273.3 959.3 270.3 964.4 270.0 966.7C269.7 968.9 270.6 971.6 271.7 973.3C272.8 975.1 276.8 978.4 278.3 980.0C279.9 981.6 282.7 983.0 283.3 985.0C284.0 987.0 283.0 992.3 283.3 995.0C283.7 997.7 285.3 1002.3 285.8 1005.0C286.4 1007.7 286.9 1012.6 287.5 1015.0C288.1 1017.4 290.4 1021.3 290.0 1023.3C289.6 1025.3 284.7 1028.2 284.2 1030.0C283.6 1031.8 285.3 1035.1 285.8 1036.7C286.4 1038.2 288.0 1041.0 288.3 1041.7M261.7 929.2C261.4 930.2 259.9 934.3 260.0 936.7C260.1 939.0 261.6 944.2 262.5 946.7C263.4 949.1 265.7 954.0 266.7 955.0C267.7 956.0 269.3 956.2 270.0 954.2C270.7 952.2 271.2 943.2 271.7 940.0C272.1 936.8 273.1 931.3 273.3 930.0M235.0 876.7C236.1 876.7 242.9 876.8 243.3 876.7C243.8 876.5 239.0 875.5 238.3 875.3M277.0 1007.5C277.4 1007.5 279.0 1010.6 279.2 1011.7C279.3 1012.8 278.4 1015.8 278.0 1015.8C277.6 1015.8 276.5 1012.8 276.3 1011.7C276.2 1010.6 276.6 1007.5 277.0 1007.5Z" fill="none" stroke="#000" stroke-width="2.0" stroke-linejoin="round" stroke-linecap="round"/></g>
<g clip-path="url(#czs2)"><path d="M890.0 887.5C890.3 889.2 892.0 896.7 892.5 900.0C893.0 903.3 894.1 909.5 893.8 912.5C893.4 915.5 890.0 920.2 890.0 922.5C890.0 924.8 892.2 928.2 893.8 930.0C895.2 931.8 899.8 934.6 901.2 936.2C902.8 937.9 903.3 940.8 905.0 942.5C906.7 944.2 912.4 946.4 913.8 948.8C915.1 951.1 913.8 958.0 915.0 960.0C916.2 962.0 919.5 962.6 922.5 963.8C925.5 964.9 934.0 967.6 937.5 968.8C941.0 969.9 947.9 970.8 948.8 972.0C949.6 973.2 944.1 975.4 943.8 977.5C943.4 979.6 945.6 985.5 946.2 987.5C946.9 989.5 948.4 991.8 948.8 992.5" fill="none" stroke="#000" stroke-width="2.0" stroke-linejoin="round" stroke-linecap="round"/></g>
<g clip-path="url(#czs3)"><path d="M897.5 932.5C898.8 933.8 905.3 940.0 907.5 942.5C909.7 945.0 912.6 948.9 913.8 951.2C914.9 953.6 914.8 958.2 916.2 960.0C917.8 961.8 922.2 963.8 925.0 965.0C927.8 966.2 934.3 967.9 937.5 968.8C940.7 969.6 947.8 970.2 948.8 971.2C949.8 972.2 945.3 974.4 945.0 976.2C944.7 978.1 945.6 982.8 946.2 985.0C946.9 987.2 949.5 991.5 950.0 992.5M1042.5 887.5C1042.8 889.5 1044.5 898.8 1045.0 902.5C1045.5 906.2 1045.2 912.3 1046.2 915.0C1047.2 917.7 1051.0 920.2 1052.5 922.5C1054.0 924.8 1055.8 930.8 1057.5 932.5C1059.2 934.2 1063.3 935.7 1065.0 935.0C1066.7 934.3 1069.0 928.0 1070.0 927.5C1071.0 927.0 1071.8 929.8 1072.5 931.2C1073.2 932.8 1073.7 936.9 1075.0 938.8C1076.3 940.6 1080.2 943.7 1082.5 945.0C1084.8 946.3 1090.5 947.4 1092.5 948.8C1094.5 950.1 1095.8 953.3 1097.5 955.0C1099.2 956.7 1102.7 959.8 1105.0 961.2C1107.3 962.8 1112.7 965.4 1115.0 966.2C1117.3 967.1 1121.3 966.7 1122.5 967.5C1123.7 968.3 1124.1 970.8 1123.8 972.5C1123.4 974.2 1121.8 978.5 1120.0 980.0C1118.2 981.5 1112.7 982.6 1110.0 983.8C1107.3 984.9 1101.7 987.6 1100.0 988.8C1098.3 989.9 1097.8 992.0 1097.5 992.5M1098.8 887.5C1099.9 888.8 1104.7 894.5 1107.5 897.5C1110.3 900.5 1116.7 906.8 1120.0 910.0C1123.3 913.2 1129.5 918.9 1132.5 921.2C1135.5 923.6 1139.8 925.3 1142.5 927.5C1145.2 929.7 1150.5 934.8 1152.5 937.5C1154.5 940.2 1155.8 946.7 1157.5 947.5C1159.2 948.3 1162.8 944.2 1165.0 943.8C1167.2 943.2 1172.1 942.8 1173.8 943.8C1175.4 944.8 1175.7 949.9 1177.5 951.2C1179.3 952.6 1186.5 952.2 1187.5 953.8C1188.5 955.2 1184.5 961.0 1185.0 962.5C1185.5 964.0 1189.8 965.2 1191.2 965.0C1192.8 964.8 1194.9 961.6 1196.2 961.2C1197.6 960.9 1201.9 961.3 1201.2 962.5C1200.6 963.7 1192.1 968.3 1191.2 970.0C1190.4 971.7 1193.3 973.2 1195.0 975.0C1196.7 976.8 1202.1 981.4 1203.8 983.8C1205.4 986.1 1207.0 991.3 1207.5 992.5M1123.8 916.2C1125.2 916.9 1132.7 920.1 1135.0 921.2C1137.3 922.4 1140.4 924.5 1141.2 925.0" fill="none" stroke="#000" stroke-width="2.0" stroke-linejoin="round" stroke-linecap="round"/></g>
<g clip-path="url(#cz2)"><path d="M993.3 638.3C993.0 639.2 991.7 643.7 990.8 645.0C989.9 646.3 987.6 646.8 986.7 648.3C985.8 649.9 984.8 654.9 984.2 656.7C983.5 658.4 981.9 659.9 981.7 661.7C981.4 663.4 982.8 667.8 982.5 670.0C982.2 672.2 979.3 676.1 979.2 678.3C979.1 680.6 981.9 684.7 981.7 686.7C981.4 688.7 978.4 691.1 977.5 693.3C976.6 695.6 976.2 701.6 975.0 703.3C973.8 705.1 969.7 705.3 968.3 706.7C967.0 708.0 965.2 711.6 965.0 713.3C964.8 715.1 965.8 718.2 966.7 720.0C967.6 721.8 970.4 725.0 971.7 726.7C972.9 728.3 974.9 730.7 975.8 732.5C976.7 734.3 977.3 737.9 978.3 740.0C979.3 742.1 981.8 746.0 983.3 748.3C984.9 750.7 988.2 755.3 990.0 757.5C991.8 759.7 994.4 762.4 996.7 765.0C998.9 767.6 1004.2 775.1 1006.7 776.7C1009.1 778.2 1013.0 775.8 1015.0 776.7C1017.0 777.6 1019.9 781.6 1021.7 783.3C1023.4 785.1 1026.6 789.2 1028.3 790.0C1030.1 790.8 1033.7 788.5 1035.0 789.2C1036.3 789.8 1037.1 792.9 1038.3 795.0C1039.6 797.1 1044.3 802.9 1044.2 805.0C1044.1 807.1 1038.3 808.9 1037.5 810.8C1036.7 812.7 1037.8 817.2 1038.3 819.2C1038.9 821.2 1040.3 823.5 1041.7 825.8C1043.0 828.2 1046.3 833.7 1048.3 836.7C1050.3 839.7 1054.2 845.4 1056.7 848.3C1059.1 851.2 1063.6 855.7 1066.7 858.3C1069.8 861.0 1076.7 865.8 1080.0 868.3C1083.3 870.9 1089.0 874.8 1091.7 877.5C1094.3 880.2 1098.7 886.4 1100.0 888.3C1101.3 890.2 1101.4 891.2 1101.7 891.7M1023.3 819.2C1024.0 819.2 1029.4 820.9 1031.7 821.7C1033.9 822.4 1039.8 824.4 1040.0 825.0C1040.2 825.6 1035.1 826.3 1033.3 825.8C1031.6 825.4 1028.0 822.6 1026.7 821.7C1025.3 820.8 1022.7 819.2 1023.3 819.2ZM976.7 734.2C977.1 733.8 979.7 736.4 980.0 737.5C980.3 738.6 979.6 742.2 979.2 742.5C978.7 742.8 977.0 741.1 976.7 740.0C976.3 738.9 976.2 734.5 976.7 734.2ZM1025.8 789.2C1025.9 788.7 1028.8 790.2 1029.2 790.8C1029.5 791.5 1028.8 794.4 1028.3 794.2C1027.9 793.9 1025.7 789.6 1025.8 789.2ZM898.3 732.5C899.4 732.9 904.2 735.1 906.7 735.8C909.1 736.6 914.7 737.8 916.7 738.3C918.7 738.9 920.3 739.0 921.7 740.0C923.0 741.0 926.7 744.7 926.7 745.8C926.7 746.9 922.7 746.9 921.7 748.3C920.7 749.8 919.1 754.4 919.2 756.7C919.3 758.9 921.5 763.1 922.5 765.0C923.5 766.9 925.2 769.2 926.7 770.8C928.1 772.5 931.6 775.9 933.3 777.5C935.1 779.1 938.6 781.3 940.0 782.5C941.4 783.7 942.8 786.6 944.2 786.7C945.5 786.8 948.6 783.1 950.0 783.3C951.4 783.6 953.9 786.8 955.0 788.3C956.1 789.9 957.2 793.1 958.3 795.0C959.4 796.9 962.4 800.5 963.3 802.5C964.2 804.5 964.1 807.9 965.0 810.0C965.9 812.1 968.8 816.1 970.0 818.3C971.2 820.6 972.6 824.9 974.2 826.7C975.7 828.4 979.6 829.9 981.7 831.7C983.8 833.4 987.8 837.6 990.0 840.0C992.2 842.4 996.1 847.6 998.3 850.0C1000.6 852.4 1004.2 856.3 1006.7 858.3C1009.1 860.3 1014.6 864.6 1016.7 865.0C1018.8 865.4 1021.4 861.0 1022.5 861.7C1023.6 862.3 1023.8 867.8 1025.0 870.0C1026.2 872.2 1030.6 876.3 1031.7 878.3C1032.8 880.3 1032.0 883.6 1033.3 885.0C1034.7 886.4 1040.1 888.3 1041.7 889.2C1043.2 890.1 1044.6 891.3 1045.0 891.7" fill="none" stroke="#000" stroke-width="2.0" stroke-linejoin="round" stroke-linecap="round"/></g>
</g>
<rect x="225.5" y="200.5" width="1116.0" height="1115.0" fill="none" stroke="#000" stroke-width="3.2"/>
<path d="M1411.5 233.0L1440.0 181L1468.5 233.0Z" fill="#f0f921"/>
<path d="M1411.5 1283.0L1440.0 1335L1468.5 1283.0Z" fill="#0d0887"/>
<rect x="1411.5" y="233.0" width="57.0" height="105.5" fill="#f7e425"/>
<rect x="1411.5" y="338.0" width="57.0" height="105.5" fill="#feba2c"/>
<rect x="1411.5" y="443.0" width="57.0" height="105.5" fill="#f89540"/>
<rect x="1411.5" y="548.0" width="57.0" height="105.5" fill="#ea7457"/>
<rect x="1411.5" y="653.0" width="57.0" height="105.5" fill="#d6556d"/>
<rect x="1411.5" y="758.0" width="57.0" height="105.5" fill="#bf3984"/>
<rect x="1411.5" y="863.0" width="57.0" height="105.5" fill="#a11b9b"/>
<rect x="1411.5" y="968.0" width="57.0" height="105.5" fill="#7e03a8"/>
<rect x="1411.5" y="1073.0" width="57.0" height="105.5" fill="#5601a4"/>
<rect x="1411.5" y="1178.0" width="57.0" height="105.5" fill="#2a0593"/>
<path d="M1411.5 233.0L1440.0 181L1468.5 233.0V1283.0L1440.0 1335L1411.5 1283.0Z" fill="none" stroke="#000" stroke-width="3.2" stroke-linejoin="miter"/>
<path d="M1468.5 1178h15.5" stroke="#000" stroke-width="3.2"/>
<path d="M1468.5 968h15.5" stroke="#000" stroke-width="3.2"/>
<path d="M1468.5 758h15.5" stroke="#000" stroke-width="3.2"/>
<path d="M1468.5 548h15.5" stroke="#000" stroke-width="3.2"/>
<path d="M1468.5 338h15.5" stroke="#000" stroke-width="3.2"/>
<g class="tx"><text x="1498" y="1193" font-size="41.67">0</text><text x="1498" y="983" font-size="41.67">10</text><text x="1498" y="773" font-size="41.67">20</text><text x="1498" y="563" font-size="41.67">30</text><text x="1498" y="353" font-size="41.67">40</text><text x="203.5" y="1157.9" font-size="41.67" text-anchor="end">14°N</text><text x="203.5" y="985.1" font-size="41.67" text-anchor="end">16°N</text><text x="203.5" y="812.3" font-size="41.67" text-anchor="end">18°N</text><text x="203.5" y="639.5" font-size="41.67" text-anchor="end">20°N</text><text x="203.5" y="466.7" font-size="41.67" text-anchor="end">22°N</text><text x="203.5" y="293.9" font-size="41.67" text-anchor="end">24°N</text><text x="308.0" y="1371" font-size="41.67" text-anchor="middle">98°E</text><text x="480.8" y="1371" font-size="41.67" text-anchor="middle">100°E</text><text x="653.6" y="1371" font-size="41.67" text-anchor="middle">102°E</text><text x="826.3" y="1371" font-size="41.67" text-anchor="middle">104°E</text><text x="999.1" y="1371" font-size="41.67" text-anchor="middle">106°E</text><text x="1171.9" y="1371" font-size="41.67" text-anchor="middle">108°E</text><text x="783.5" y="117" font-size="50" text-anchor="middle">Temp(°C) @ 20250410_00</text><text x="798" y="175" font-size="50" text-anchor="middle">Simulation Time: 20250408_12</text></g></svg></body></html>
